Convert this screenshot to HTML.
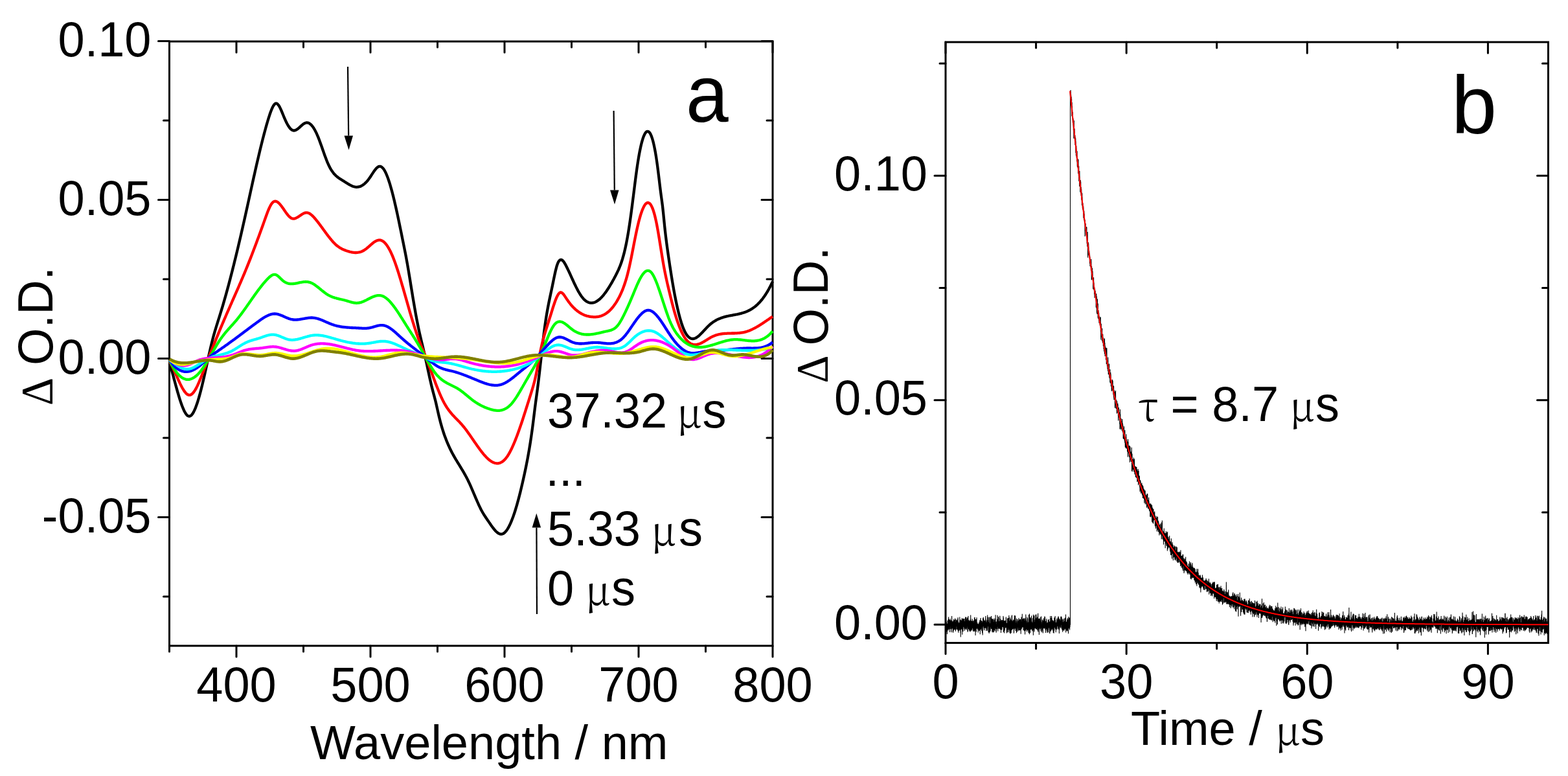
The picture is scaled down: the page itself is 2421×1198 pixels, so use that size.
<!DOCTYPE html>
<html><head><meta charset="utf-8"><title>Transient absorption</title>
<style>
html,body{margin:0;padding:0;background:#fff;}
body{width:2421px;height:1198px;overflow:hidden;}
svg{display:block;}
</style></head>
<body>
<svg width="2421" height="1198" viewBox="0 0 2421 1198">
<rect width="2421" height="1198" fill="#fff"/>
<g font-family="'Liberation Sans', Arial, sans-serif" font-size="74" fill="#000">
<rect x="261.5" y="64" width="931.5" height="933" fill="none" stroke="#000" stroke-width="3.0"/>
<path d="M261.5,997v9 M261.5,64v9 M365.0,997v17 M365.0,64v17 M468.5,997v9 M468.5,64v9 M572.0,997v17 M572.0,64v17 M675.5,997v9 M675.5,64v9 M779.0,997v17 M779.0,64v17 M882.5,997v9 M882.5,64v9 M986.0,997v17 M986.0,64v17 M1089.5,997v9 M1089.5,64v9 M1193.0,997v17 M1193.0,64v17 M261.5,921.0h-9 M1193,921.0h-9 M261.5,798.5h-17 M1193,798.5h-17 M261.5,676.0h-9 M1193,676.0h-9 M261.5,553.5h-17 M1193,553.5h-17 M261.5,431.0h-9 M1193,431.0h-9 M261.5,308.5h-17 M1193,308.5h-17 M261.5,186.0h-9 M1193,186.0h-9 M261.5,63.5h-17 M1193,63.5h-17" stroke="#000" stroke-width="3.0" fill="none" stroke-linecap="round"/>
<path d="M262.0,560.6 263.0,564.1 264.0,567.6 265.0,571.3 266.0,574.9 267.0,578.6 268.0,582.3 269.0,586.1 270.0,589.8 271.0,593.5 272.0,597.1 273.0,600.7 274.0,604.3 275.0,607.7 276.0,611.1 277.0,614.4 278.0,617.6 279.0,620.6 280.0,623.5 281.0,626.3 282.0,628.8 283.0,631.2 284.0,633.5 285.0,635.5 286.0,637.2 287.0,638.8 288.0,640.1 289.0,641.2 290.0,641.9 291.0,642.4 292.0,642.6 293.0,642.5 294.0,642.1 295.0,641.4 296.0,640.4 297.0,639.2 298.0,637.7 299.0,635.9 300.0,633.9 301.0,631.7 302.0,629.3 303.0,626.6 304.0,623.8 305.0,620.8 306.0,617.5 307.0,614.2 308.0,610.6 309.0,607.0 310.0,603.2 311.0,599.2 312.0,595.2 313.0,591.0 314.0,586.8 315.0,582.4 316.0,578.0 317.0,573.6 318.0,569.0 319.0,564.5 320.0,559.9 321.0,555.3 322.0,550.8 323.0,546.3 324.0,541.9 325.0,537.5 326.0,533.3 327.0,529.2 328.0,525.2 329.0,521.3 330.0,517.7 331.0,514.1 332.0,510.6 333.0,507.3 334.0,504.0 335.0,500.8 336.0,497.6 337.0,494.4 338.0,491.3 339.0,488.1 340.0,484.9 341.0,481.7 342.0,478.4 343.0,475.1 344.0,471.8 345.0,468.3 346.0,464.9 347.0,461.4 348.0,457.9 349.0,454.3 350.0,450.7 351.0,447.1 352.0,443.4 353.0,439.7 354.0,435.9 355.0,432.1 356.0,428.3 357.0,424.4 358.0,420.5 359.0,416.6 360.0,412.6 361.0,408.7 362.0,404.6 363.0,400.6 364.0,396.5 365.0,392.3 366.0,388.2 367.0,384.0 368.0,379.8 369.0,375.6 370.0,371.3 371.0,367.0 372.0,362.7 373.0,358.3 374.0,354.0 375.0,349.6 376.0,345.1 377.0,340.7 378.0,336.2 379.0,331.8 380.0,327.2 381.0,322.7 382.0,318.2 383.0,313.6 384.0,309.1 385.0,304.5 386.0,300.0 387.0,295.4 388.0,290.9 389.0,286.4 390.0,281.8 391.0,277.3 392.0,272.8 393.0,268.4 394.0,263.9 395.0,259.5 396.0,255.1 397.0,250.8 398.0,246.4 399.0,242.2 400.0,237.9 401.0,233.7 402.0,229.6 403.0,225.5 404.0,221.5 405.0,217.5 406.0,213.5 407.0,209.7 408.0,205.9 409.0,202.2 410.0,198.5 411.0,194.9 412.0,191.4 413.0,188.0 414.0,184.7 415.0,181.4 416.0,178.3 417.0,175.3 418.0,172.5 419.0,169.9 420.0,167.5 421.0,165.3 422.0,163.5 423.0,162.0 424.0,160.8 425.0,160.0 426.0,159.6 427.0,159.7 428.0,160.2 429.0,161.1 430.0,162.3 431.0,163.8 432.0,165.6 433.0,167.6 434.0,169.8 435.0,172.2 436.0,174.6 437.0,177.0 438.0,179.5 439.0,181.9 440.0,184.2 441.0,186.4 442.0,188.5 443.0,190.5 444.0,192.3 445.0,194.0 446.0,195.6 447.0,197.0 448.0,198.2 449.0,199.3 450.0,200.1 451.0,200.8 452.0,201.2 453.0,201.5 454.0,201.5 455.0,201.4 456.0,201.1 457.0,200.7 458.0,200.1 459.0,199.5 460.0,198.7 461.0,197.9 462.0,197.0 463.0,196.2 464.0,195.2 465.0,194.3 466.0,193.5 467.0,192.6 468.0,191.8 469.0,191.1 470.0,190.5 471.0,190.0 472.0,189.7 473.0,189.4 474.0,189.4 475.0,189.5 476.0,189.7 477.0,190.2 478.0,190.7 479.0,191.4 480.0,192.3 481.0,193.3 482.0,194.5 483.0,195.8 484.0,197.2 485.0,198.8 486.0,200.5 487.0,202.4 488.0,204.4 489.0,206.5 490.0,208.8 491.0,211.1 492.0,213.6 493.0,216.2 494.0,218.9 495.0,221.7 496.0,224.5 497.0,227.3 498.0,230.2 499.0,233.0 500.0,235.9 501.0,238.7 502.0,241.4 503.0,244.1 504.0,246.7 505.0,249.3 506.0,251.7 507.0,253.9 508.0,256.0 509.0,258.0 510.0,259.9 511.0,261.6 512.0,263.2 513.0,264.6 514.0,266.0 515.0,267.3 516.0,268.5 517.0,269.6 518.0,270.6 519.0,271.5 520.0,272.4 521.0,273.2 522.0,274.0 523.0,274.7 524.0,275.4 525.0,276.1 526.0,276.7 527.0,277.3 528.0,278.0 529.0,278.6 530.0,279.2 531.0,279.8 532.0,280.5 533.0,281.1 534.0,281.7 535.0,282.4 536.0,283.0 537.0,283.6 538.0,284.2 539.0,284.8 540.0,285.4 541.0,285.9 542.0,286.4 543.0,286.9 544.0,287.3 545.0,287.7 546.0,288.0 547.0,288.3 548.0,288.5 549.0,288.7 550.0,288.8 551.0,288.8 552.0,288.7 553.0,288.6 554.0,288.4 555.0,288.2 556.0,287.9 557.0,287.5 558.0,287.0 559.0,286.4 560.0,285.8 561.0,285.1 562.0,284.4 563.0,283.6 564.0,282.6 565.0,281.7 566.0,280.6 567.0,279.5 568.0,278.3 569.0,277.0 570.0,275.6 571.0,274.2 572.0,272.7 573.0,271.2 574.0,269.6 575.0,268.1 576.0,266.6 577.0,265.1 578.0,263.7 579.0,262.3 580.0,261.1 581.0,259.9 582.0,259.0 583.0,258.1 584.0,257.5 585.0,257.0 586.0,256.8 587.0,256.8 588.0,257.1 589.0,257.6 590.0,258.4 591.0,259.4 592.0,260.6 593.0,262.0 594.0,263.7 595.0,265.6 596.0,267.7 597.0,270.0 598.0,272.5 599.0,275.1 600.0,278.0 601.0,281.0 602.0,284.2 603.0,287.6 604.0,291.1 605.0,294.7 606.0,298.5 607.0,302.4 608.0,306.5 609.0,310.6 610.0,314.9 611.0,319.3 612.0,323.8 613.0,328.3 614.0,332.9 615.0,337.6 616.0,342.4 617.0,347.2 618.0,352.1 619.0,356.9 620.0,361.8 621.0,366.8 622.0,371.7 623.0,376.6 624.0,381.6 625.0,386.6 626.0,391.7 627.0,396.9 628.0,402.3 629.0,407.8 630.0,413.6 631.0,419.5 632.0,425.6 633.0,431.7 634.0,437.9 635.0,444.1 636.0,450.2 637.0,456.3 638.0,462.3 639.0,468.2 640.0,474.0 641.0,479.7 642.0,485.3 643.0,490.7 644.0,495.9 645.0,501.0 646.0,505.9 647.0,510.6 648.0,515.1 649.0,519.5 650.0,523.8 651.0,528.0 652.0,532.1 653.0,536.3 654.0,540.5 655.0,544.7 656.0,549.1 657.0,553.5 658.0,558.0 659.0,562.6 660.0,567.3 661.0,572.0 662.0,576.6 663.0,581.2 664.0,585.7 665.0,590.1 666.0,594.4 667.0,598.5 668.0,602.4 669.0,606.2 670.0,609.9 671.0,613.7 672.0,617.5 673.0,621.6 674.0,625.9 675.0,630.4 676.0,634.9 677.0,639.3 678.0,643.5 679.0,647.6 680.0,651.5 681.0,655.1 682.0,658.6 683.0,662.0 684.0,665.2 685.0,668.2 686.0,671.2 687.0,673.9 688.0,676.6 689.0,679.2 690.0,681.7 691.0,684.1 692.0,686.5 693.0,688.7 694.0,690.9 695.0,693.0 696.0,695.0 697.0,697.0 698.0,698.9 699.0,700.8 700.0,702.6 701.0,704.4 702.0,706.2 703.0,707.9 704.0,709.6 705.0,711.2 706.0,712.9 707.0,714.5 708.0,716.1 709.0,717.7 710.0,719.4 711.0,721.0 712.0,722.6 713.0,724.3 714.0,725.9 715.0,727.6 716.0,729.3 717.0,731.1 718.0,732.8 719.0,734.7 720.0,736.5 721.0,738.4 722.0,740.4 723.0,742.5 724.0,744.6 725.0,746.7 726.0,748.9 727.0,751.2 728.0,753.5 729.0,755.8 730.0,758.1 731.0,760.5 732.0,762.8 733.0,765.2 734.0,767.6 735.0,769.9 736.0,772.2 737.0,774.5 738.0,776.7 739.0,779.0 740.0,781.1 741.0,783.2 742.0,785.2 743.0,787.2 744.0,789.0 745.0,790.8 746.0,792.5 747.0,794.2 748.0,795.7 749.0,797.3 750.0,798.8 751.0,800.3 752.0,801.7 753.0,803.2 754.0,804.6 755.0,806.1 756.0,807.6 757.0,809.0 758.0,810.5 759.0,811.9 760.0,813.3 761.0,814.6 762.0,815.9 763.0,817.2 764.0,818.3 765.0,819.5 766.0,820.5 767.0,821.4 768.0,822.2 769.0,823.0 770.0,823.6 771.0,824.0 772.0,824.4 773.0,824.6 774.0,824.6 775.0,824.5 776.0,824.2 777.0,823.8 778.0,823.2 779.0,822.4 780.0,821.4 781.0,820.3 782.0,819.1 783.0,817.7 784.0,816.1 785.0,814.4 786.0,812.5 787.0,810.5 788.0,808.4 789.0,806.1 790.0,803.7 791.0,801.1 792.0,798.5 793.0,795.6 794.0,792.7 795.0,789.7 796.0,786.5 797.0,783.2 798.0,779.8 799.0,776.2 800.0,772.6 801.0,768.9 802.0,765.0 803.0,761.1 804.0,757.0 805.0,752.8 806.0,748.6 807.0,744.3 808.0,739.8 809.0,735.3 810.0,730.7 811.0,726.0 812.0,721.2 813.0,716.2 814.0,711.1 815.0,705.8 816.0,700.2 817.0,694.5 818.0,688.4 819.0,682.1 820.0,675.5 821.0,668.5 822.0,661.2 823.0,653.4 824.0,645.4 825.0,637.3 826.0,629.2 827.0,621.5 828.0,614.1 829.0,606.9 830.0,599.5 831.0,591.6 832.0,583.3 833.0,574.7 834.0,565.8 835.0,556.8 836.0,547.8 837.0,538.8 838.0,530.0 839.0,521.5 840.0,513.3 841.0,505.6 842.0,498.5 843.0,491.8 844.0,485.7 845.0,479.9 846.0,474.4 847.0,469.2 848.0,464.3 849.0,459.5 850.0,454.8 851.0,450.1 852.0,445.5 853.0,440.7 854.0,435.8 855.0,430.9 856.0,426.1 857.0,421.5 858.0,417.1 859.0,413.2 860.0,409.7 861.0,406.9 862.0,404.7 863.0,403.0 864.0,401.9 865.0,401.2 866.0,401.0 867.0,401.1 868.0,401.7 869.0,402.5 870.0,403.6 871.0,405.0 872.0,406.6 873.0,408.3 874.0,410.2 875.0,412.2 876.0,414.2 877.0,416.3 878.0,418.4 879.0,420.5 880.0,422.7 881.0,424.9 882.0,427.1 883.0,429.3 884.0,431.5 885.0,433.7 886.0,435.8 887.0,438.0 888.0,440.0 889.0,442.1 890.0,444.1 891.0,446.0 892.0,447.9 893.0,449.8 894.0,451.5 895.0,453.2 896.0,454.8 897.0,456.3 898.0,457.7 899.0,459.0 900.0,460.3 901.0,461.4 902.0,462.4 903.0,463.3 904.0,464.2 905.0,464.9 906.0,465.6 907.0,466.1 908.0,466.6 909.0,467.0 910.0,467.3 911.0,467.5 912.0,467.6 913.0,467.7 914.0,467.6 915.0,467.5 916.0,467.3 917.0,467.1 918.0,466.8 919.0,466.4 920.0,465.9 921.0,465.3 922.0,464.7 923.0,464.1 924.0,463.3 925.0,462.5 926.0,461.7 927.0,460.7 928.0,459.7 929.0,458.7 930.0,457.6 931.0,456.5 932.0,455.3 933.0,454.0 934.0,452.7 935.0,451.4 936.0,450.0 937.0,448.5 938.0,447.0 939.0,445.5 940.0,444.0 941.0,442.3 942.0,440.7 943.0,439.0 944.0,437.3 945.0,435.6 946.0,433.8 947.0,432.0 948.0,430.2 949.0,428.3 950.0,426.4 951.0,424.5 952.0,422.5 953.0,420.5 954.0,418.4 955.0,416.3 956.0,413.9 957.0,411.5 958.0,408.9 959.0,406.2 960.0,403.2 961.0,400.1 962.0,396.7 963.0,393.1 964.0,389.2 965.0,385.0 966.0,380.6 967.0,375.8 968.0,370.7 969.0,365.2 970.0,359.4 971.0,353.2 972.0,346.6 973.0,339.8 974.0,332.6 975.0,325.2 976.0,317.6 977.0,309.8 978.0,301.9 979.0,293.9 980.0,285.9 981.0,278.1 982.0,270.4 983.0,263.0 984.0,256.0 985.0,249.5 986.0,243.4 987.0,237.7 988.0,232.5 989.0,227.7 990.0,223.3 991.0,219.4 992.0,215.8 993.0,212.7 994.0,210.1 995.0,207.8 996.0,206.0 997.0,204.5 998.0,203.5 999.0,203.0 1000.0,202.8 1001.0,203.0 1002.0,203.7 1003.0,204.8 1004.0,206.3 1005.0,208.3 1006.0,210.7 1007.0,213.6 1008.0,217.0 1009.0,220.9 1010.0,225.4 1011.0,230.3 1012.0,235.7 1013.0,241.7 1014.0,248.3 1015.0,255.4 1016.0,263.1 1017.0,271.2 1018.0,279.6 1019.0,287.9 1020.0,295.9 1021.0,303.5 1022.0,310.7 1023.0,318.4 1024.0,327.4 1025.0,337.5 1026.0,347.6 1027.0,357.0 1028.0,365.5 1029.0,373.5 1030.0,381.0 1031.0,388.1 1032.0,395.1 1033.0,401.9 1034.0,408.7 1035.0,415.2 1036.0,421.7 1037.0,427.9 1038.0,434.0 1039.0,439.9 1040.0,445.6 1041.0,451.1 1042.0,456.4 1043.0,461.5 1044.0,466.4 1045.0,471.0 1046.0,475.5 1047.0,479.8 1048.0,483.9 1049.0,487.8 1050.0,491.5 1051.0,494.9 1052.0,498.2 1053.0,501.2 1054.0,504.0 1055.0,506.6 1056.0,509.0 1057.0,511.2 1058.0,513.2 1059.0,514.9 1060.0,516.5 1061.0,517.9 1062.0,519.1 1063.0,520.1 1064.0,520.9 1065.0,521.6 1066.0,522.2 1067.0,522.6 1068.0,522.8 1069.0,523.0 1070.0,523.0 1071.0,522.9 1072.0,522.6 1073.0,522.3 1074.0,521.9 1075.0,521.3 1076.0,520.7 1077.0,520.0 1078.0,519.3 1079.0,518.4 1080.0,517.6 1081.0,516.6 1082.0,515.6 1083.0,514.6 1084.0,513.6 1085.0,512.5 1086.0,511.4 1087.0,510.3 1088.0,509.3 1089.0,508.2 1090.0,507.1 1091.0,506.0 1092.0,505.0 1093.0,504.0 1094.0,503.0 1095.0,502.1 1096.0,501.2 1097.0,500.3 1098.0,499.5 1099.0,498.7 1100.0,498.0 1101.0,497.3 1102.0,496.6 1103.0,496.0 1104.0,495.4 1105.0,494.8 1106.0,494.2 1107.0,493.7 1108.0,493.2 1109.0,492.7 1110.0,492.3 1111.0,491.9 1112.0,491.5 1113.0,491.1 1114.0,490.7 1115.0,490.4 1116.0,490.0 1117.0,489.7 1118.0,489.4 1119.0,489.2 1120.0,488.9 1121.0,488.6 1122.0,488.4 1123.0,488.2 1124.0,488.0 1125.0,487.7 1126.0,487.5 1127.0,487.3 1128.0,487.1 1129.0,487.0 1130.0,486.8 1131.0,486.6 1132.0,486.4 1133.0,486.2 1134.0,486.0 1135.0,485.9 1136.0,485.7 1137.0,485.5 1138.0,485.3 1139.0,485.1 1140.0,484.8 1141.0,484.6 1142.0,484.4 1143.0,484.1 1144.0,483.9 1145.0,483.6 1146.0,483.3 1147.0,483.0 1148.0,482.7 1149.0,482.4 1150.0,482.0 1151.0,481.7 1152.0,481.3 1153.0,480.9 1154.0,480.4 1155.0,480.0 1156.0,479.5 1157.0,479.0 1158.0,478.5 1159.0,477.9 1160.0,477.3 1161.0,476.7 1162.0,476.0 1163.0,475.4 1164.0,474.6 1165.0,473.9 1166.0,473.1 1167.0,472.3 1168.0,471.4 1169.0,470.5 1170.0,469.6 1171.0,468.6 1172.0,467.6 1173.0,466.5 1174.0,465.4 1175.0,464.2 1176.0,463.0 1177.0,461.8 1178.0,460.5 1179.0,459.1 1180.0,457.7 1181.0,456.3 1182.0,454.8 1183.0,453.2 1184.0,451.6 1185.0,450.0 1186.0,448.2 1187.0,446.5 1188.0,444.6 1189.0,442.7 1190.0,440.8 1191.0,438.7 1192.0,436.7 1192.9,434.7" fill="none" stroke="#000000" stroke-width="4.3" stroke-linejoin="round" stroke-linecap="butt"/>
<path d="M262.0,558.3 263.0,560.0 264.0,561.8 265.0,563.7 266.0,565.7 267.0,567.8 268.0,569.9 269.0,572.1 270.0,574.3 271.0,576.6 272.0,578.8 273.0,581.1 274.0,583.3 275.0,585.6 276.0,587.8 277.0,589.9 278.0,592.1 279.0,594.1 280.0,596.1 281.0,598.0 282.0,599.8 283.0,601.4 284.0,603.0 285.0,604.5 286.0,605.7 287.0,606.9 288.0,607.9 289.0,608.7 290.0,609.3 291.0,609.7 292.0,609.9 293.0,609.9 294.0,609.7 295.0,609.3 296.0,608.6 297.0,607.7 298.0,606.7 299.0,605.5 300.0,604.1 301.0,602.6 302.0,600.9 303.0,599.1 304.0,597.1 305.0,595.1 306.0,592.9 307.0,590.7 308.0,588.3 309.0,585.9 310.0,583.5 311.0,581.0 312.0,578.5 313.0,575.9 314.0,573.3 315.0,570.7 316.0,568.1 317.0,565.5 318.0,563.0 319.0,560.4 320.0,557.8 321.0,555.3 322.0,552.7 323.0,550.2 324.0,547.6 325.0,545.1 326.0,542.6 327.0,540.1 328.0,537.6 329.0,535.1 330.0,532.6 331.0,530.1 332.0,527.6 333.0,525.1 334.0,522.7 335.0,520.2 336.0,517.8 337.0,515.4 338.0,512.9 339.0,510.5 340.0,508.1 341.0,505.7 342.0,503.4 343.0,501.0 344.0,498.6 345.0,496.3 346.0,493.9 347.0,491.6 348.0,489.3 349.0,487.0 350.0,484.7 351.0,482.4 352.0,480.1 353.0,477.8 354.0,475.6 355.0,473.3 356.0,471.0 357.0,468.8 358.0,466.5 359.0,464.2 360.0,462.0 361.0,459.7 362.0,457.5 363.0,455.2 364.0,452.9 365.0,450.7 366.0,448.4 367.0,446.1 368.0,443.8 369.0,441.5 370.0,439.2 371.0,436.9 372.0,434.6 373.0,432.2 374.0,429.9 375.0,427.5 376.0,425.2 377.0,422.8 378.0,420.4 379.0,418.0 380.0,415.5 381.0,413.1 382.0,410.6 383.0,408.1 384.0,405.6 385.0,403.1 386.0,400.6 387.0,398.1 388.0,395.5 389.0,392.9 390.0,390.3 391.0,387.7 392.0,385.1 393.0,382.5 394.0,379.8 395.0,377.2 396.0,374.5 397.0,371.8 398.0,369.1 399.0,366.4 400.0,363.7 401.0,361.0 402.0,358.2 403.0,355.5 404.0,352.7 405.0,350.0 406.0,347.2 407.0,344.4 408.0,341.6 409.0,338.8 410.0,336.0 411.0,333.2 412.0,330.5 413.0,327.8 414.0,325.3 415.0,322.9 416.0,320.6 417.0,318.6 418.0,316.7 419.0,315.1 420.0,313.7 421.0,312.6 422.0,311.7 423.0,311.2 424.0,310.8 425.0,310.7 426.0,310.8 427.0,311.1 428.0,311.6 429.0,312.3 430.0,313.1 431.0,314.0 432.0,315.1 433.0,316.2 434.0,317.5 435.0,318.8 436.0,320.2 437.0,321.6 438.0,323.0 439.0,324.5 440.0,325.9 441.0,327.4 442.0,328.8 443.0,330.1 444.0,331.4 445.0,332.6 446.0,333.7 447.0,334.7 448.0,335.6 449.0,336.3 450.0,336.9 451.0,337.3 452.0,337.5 453.0,337.6 454.0,337.6 455.0,337.4 456.0,337.1 457.0,336.7 458.0,336.2 459.0,335.7 460.0,335.1 461.0,334.4 462.0,333.8 463.0,333.1 464.0,332.4 465.0,331.7 466.0,331.1 467.0,330.4 468.0,329.9 469.0,329.4 470.0,328.9 471.0,328.6 472.0,328.4 473.0,328.3 474.0,328.3 475.0,328.5 476.0,328.8 477.0,329.2 478.0,329.7 479.0,330.3 480.0,331.1 481.0,331.9 482.0,332.8 483.0,333.7 484.0,334.8 485.0,335.8 486.0,337.0 487.0,338.2 488.0,339.4 489.0,340.6 490.0,341.8 491.0,343.1 492.0,344.4 493.0,345.7 494.0,347.1 495.0,348.4 496.0,349.8 497.0,351.1 498.0,352.5 499.0,353.9 500.0,355.3 501.0,356.6 502.0,358.0 503.0,359.4 504.0,360.7 505.0,362.1 506.0,363.4 507.0,364.7 508.0,366.0 509.0,367.2 510.0,368.5 511.0,369.7 512.0,370.9 513.0,372.0 514.0,373.2 515.0,374.3 516.0,375.3 517.0,376.3 518.0,377.3 519.0,378.2 520.0,379.0 521.0,379.8 522.0,380.6 523.0,381.3 524.0,382.0 525.0,382.6 526.0,383.2 527.0,383.7 528.0,384.3 529.0,384.8 530.0,385.2 531.0,385.6 532.0,386.1 533.0,386.4 534.0,386.8 535.0,387.2 536.0,387.5 537.0,387.8 538.0,388.1 539.0,388.4 540.0,388.7 541.0,389.0 542.0,389.2 543.0,389.4 544.0,389.6 545.0,389.7 546.0,389.8 547.0,389.9 548.0,390.0 549.0,390.0 550.0,390.0 551.0,389.9 552.0,389.8 553.0,389.7 554.0,389.5 555.0,389.3 556.0,389.1 557.0,388.8 558.0,388.4 559.0,388.0 560.0,387.5 561.0,387.0 562.0,386.5 563.0,385.8 564.0,385.1 565.0,384.4 566.0,383.6 567.0,382.8 568.0,382.0 569.0,381.1 570.0,380.2 571.0,379.3 572.0,378.4 573.0,377.5 574.0,376.7 575.0,375.8 576.0,375.0 577.0,374.3 578.0,373.6 579.0,372.9 580.0,372.3 581.0,371.8 582.0,371.4 583.0,371.0 584.0,370.8 585.0,370.6 586.0,370.6 587.0,370.7 588.0,370.9 589.0,371.3 590.0,371.7 591.0,372.3 592.0,373.0 593.0,373.8 594.0,374.8 595.0,375.8 596.0,377.0 597.0,378.3 598.0,379.7 599.0,381.3 600.0,382.9 601.0,384.7 602.0,386.5 603.0,388.5 604.0,390.6 605.0,392.8 606.0,395.2 607.0,397.6 608.0,400.2 609.0,402.8 610.0,405.5 611.0,408.4 612.0,411.3 613.0,414.3 614.0,417.3 615.0,420.4 616.0,423.6 617.0,426.9 618.0,430.1 619.0,433.5 620.0,436.9 621.0,440.3 622.0,443.7 623.0,447.2 624.0,450.7 625.0,454.2 626.0,457.7 627.0,461.2 628.0,464.7 629.0,468.2 630.0,471.7 631.0,475.2 632.0,478.6 633.0,482.1 634.0,485.5 635.0,488.8 636.0,492.2 637.0,495.5 638.0,498.7 639.0,501.9 640.0,505.0 641.0,508.1 642.0,511.2 643.0,514.2 644.0,517.1 645.0,520.0 646.0,522.8 647.0,525.5 648.0,528.1 649.0,530.7 650.0,533.2 651.0,535.7 652.0,538.1 653.0,540.5 654.0,542.9 655.0,545.3 656.0,547.8 657.0,550.3 658.0,552.8 659.0,555.4 660.0,558.0 661.0,560.6 662.0,563.3 663.0,566.0 664.0,568.7 665.0,571.4 666.0,574.1 667.0,576.8 668.0,579.5 669.0,582.2 670.0,584.9 671.0,587.6 672.0,590.2 673.0,592.9 674.0,595.5 675.0,598.0 676.0,600.5 677.0,603.0 678.0,605.4 679.0,607.8 680.0,610.1 681.0,612.4 682.0,614.5 683.0,616.6 684.0,618.7 685.0,620.6 686.0,622.5 687.0,624.2 688.0,625.9 689.0,627.5 690.0,629.1 691.0,630.6 692.0,632.0 693.0,633.4 694.0,634.7 695.0,636.0 696.0,637.2 697.0,638.4 698.0,639.6 699.0,640.7 700.0,641.8 701.0,642.8 702.0,643.9 703.0,644.9 704.0,646.0 705.0,647.0 706.0,648.0 707.0,649.0 708.0,650.1 709.0,651.1 710.0,652.1 711.0,653.2 712.0,654.3 713.0,655.4 714.0,656.6 715.0,657.8 716.0,659.0 717.0,660.2 718.0,661.5 719.0,662.8 720.0,664.1 721.0,665.5 722.0,666.9 723.0,668.2 724.0,669.7 725.0,671.1 726.0,672.5 727.0,673.9 728.0,675.4 729.0,676.9 730.0,678.3 731.0,679.8 732.0,681.2 733.0,682.7 734.0,684.1 735.0,685.6 736.0,687.0 737.0,688.4 738.0,689.8 739.0,691.2 740.0,692.6 741.0,694.0 742.0,695.3 743.0,696.6 744.0,697.9 745.0,699.1 746.0,700.4 747.0,701.6 748.0,702.7 749.0,703.8 750.0,704.9 751.0,706.0 752.0,707.0 753.0,707.9 754.0,708.8 755.0,709.7 756.0,710.5 757.0,711.2 758.0,711.9 759.0,712.6 760.0,713.1 761.0,713.7 762.0,714.1 763.0,714.5 764.0,714.8 765.0,715.0 766.0,715.2 767.0,715.3 768.0,715.3 769.0,715.3 770.0,715.1 771.0,714.9 772.0,714.6 773.0,714.2 774.0,713.7 775.0,713.1 776.0,712.5 777.0,711.7 778.0,710.8 779.0,709.9 780.0,708.8 781.0,707.6 782.0,706.3 783.0,705.0 784.0,703.5 785.0,701.9 786.0,700.2 787.0,698.4 788.0,696.5 789.0,694.6 790.0,692.5 791.0,690.4 792.0,688.2 793.0,685.9 794.0,683.5 795.0,681.1 796.0,678.6 797.0,676.0 798.0,673.4 799.0,670.7 800.0,668.0 801.0,665.2 802.0,662.4 803.0,659.5 804.0,656.6 805.0,653.7 806.0,650.7 807.0,647.7 808.0,644.6 809.0,641.5 810.0,638.4 811.0,635.3 812.0,632.2 813.0,629.0 814.0,625.9 815.0,622.7 816.0,619.6 817.0,616.4 818.0,613.2 819.0,610.1 820.0,606.9 821.0,603.7 822.0,600.4 823.0,597.0 824.0,593.5 825.0,589.7 826.0,585.7 827.0,581.3 828.0,576.7 829.0,571.6 830.0,566.3 831.0,560.8 832.0,555.2 833.0,549.7 834.0,544.4 835.0,539.5 836.0,534.9 837.0,530.6 838.0,526.5 839.0,522.7 840.0,519.1 841.0,515.6 842.0,512.3 843.0,509.1 844.0,505.9 845.0,502.8 846.0,499.7 847.0,496.5 848.0,493.4 849.0,490.2 850.0,487.0 851.0,483.8 852.0,480.6 853.0,477.4 854.0,474.2 855.0,471.1 856.0,468.2 857.0,465.3 858.0,462.6 859.0,460.2 860.0,457.9 861.0,456.0 862.0,454.3 863.0,453.0 864.0,452.1 865.0,451.5 866.0,451.4 867.0,451.7 868.0,452.3 869.0,453.2 870.0,454.3 871.0,455.6 872.0,457.1 873.0,458.6 874.0,460.1 875.0,461.7 876.0,463.1 877.0,464.5 878.0,465.9 879.0,467.2 880.0,468.5 881.0,469.8 882.0,471.0 883.0,472.1 884.0,473.2 885.0,474.3 886.0,475.3 887.0,476.2 888.0,477.2 889.0,478.1 890.0,478.9 891.0,479.7 892.0,480.5 893.0,481.2 894.0,481.9 895.0,482.6 896.0,483.2 897.0,483.8 898.0,484.4 899.0,484.9 900.0,485.4 901.0,485.9 902.0,486.3 903.0,486.7 904.0,487.0 905.0,487.4 906.0,487.7 907.0,488.0 908.0,488.2 909.0,488.4 910.0,488.6 911.0,488.8 912.0,488.9 913.0,489.1 914.0,489.2 915.0,489.2 916.0,489.3 917.0,489.3 918.0,489.3 919.0,489.3 920.0,489.3 921.0,489.2 922.0,489.1 923.0,489.0 924.0,488.8 925.0,488.6 926.0,488.3 927.0,488.1 928.0,487.8 929.0,487.4 930.0,487.0 931.0,486.6 932.0,486.1 933.0,485.6 934.0,485.1 935.0,484.4 936.0,483.8 937.0,483.1 938.0,482.3 939.0,481.5 940.0,480.7 941.0,479.8 942.0,478.8 943.0,477.8 944.0,476.7 945.0,475.5 946.0,474.3 947.0,473.1 948.0,471.7 949.0,470.3 950.0,468.9 951.0,467.4 952.0,465.8 953.0,464.1 954.0,462.4 955.0,460.5 956.0,458.7 957.0,456.7 958.0,454.6 959.0,452.5 960.0,450.2 961.0,447.8 962.0,445.3 963.0,442.6 964.0,439.8 965.0,436.8 966.0,433.7 967.0,430.3 968.0,426.8 969.0,423.1 970.0,419.1 971.0,414.9 972.0,410.5 973.0,405.9 974.0,401.1 975.0,396.2 976.0,391.1 977.0,386.0 978.0,380.9 979.0,375.7 980.0,370.6 981.0,365.6 982.0,360.7 983.0,356.0 984.0,351.5 985.0,347.2 986.0,343.1 987.0,339.2 988.0,335.6 989.0,332.2 990.0,329.1 991.0,326.2 992.0,323.6 993.0,321.3 994.0,319.2 995.0,317.4 996.0,315.9 997.0,314.7 998.0,313.8 999.0,313.2 1000.0,312.9 1001.0,313.0 1002.0,313.4 1003.0,314.1 1004.0,315.1 1005.0,316.5 1006.0,318.3 1007.0,320.4 1008.0,322.9 1009.0,325.8 1010.0,329.1 1011.0,332.8 1012.0,336.9 1013.0,341.4 1014.0,346.3 1015.0,351.6 1016.0,357.2 1017.0,363.1 1018.0,369.1 1019.0,375.3 1020.0,381.6 1021.0,387.8 1022.0,394.0 1023.0,400.1 1024.0,406.0 1025.0,411.6 1026.0,416.9 1027.0,421.9 1028.0,426.8 1029.0,431.4 1030.0,435.9 1031.0,440.2 1032.0,444.5 1033.0,448.7 1034.0,452.8 1035.0,457.0 1036.0,461.1 1037.0,465.1 1038.0,469.0 1039.0,472.8 1040.0,476.5 1041.0,480.1 1042.0,483.6 1043.0,486.9 1044.0,490.2 1045.0,493.3 1046.0,496.2 1047.0,499.1 1048.0,501.8 1049.0,504.4 1050.0,506.9 1051.0,509.3 1052.0,511.5 1053.0,513.6 1054.0,515.6 1055.0,517.5 1056.0,519.3 1057.0,520.9 1058.0,522.4 1059.0,523.8 1060.0,525.0 1061.0,526.2 1062.0,527.2 1063.0,528.1 1064.0,528.9 1065.0,529.7 1066.0,530.3 1067.0,530.8 1068.0,531.2 1069.0,531.6 1070.0,531.9 1071.0,532.0 1072.0,532.2 1073.0,532.2 1074.0,532.2 1075.0,532.1 1076.0,531.9 1077.0,531.7 1078.0,531.4 1079.0,531.1 1080.0,530.8 1081.0,530.4 1082.0,529.9 1083.0,529.5 1084.0,529.0 1085.0,528.4 1086.0,527.9 1087.0,527.3 1088.0,526.7 1089.0,526.1 1090.0,525.5 1091.0,524.9 1092.0,524.2 1093.0,523.6 1094.0,523.0 1095.0,522.4 1096.0,521.8 1097.0,521.2 1098.0,520.7 1099.0,520.2 1100.0,519.7 1101.0,519.2 1102.0,518.8 1103.0,518.3 1104.0,518.0 1105.0,517.6 1106.0,517.3 1107.0,517.0 1108.0,516.7 1109.0,516.5 1110.0,516.2 1111.0,516.0 1112.0,515.8 1113.0,515.6 1114.0,515.5 1115.0,515.4 1116.0,515.2 1117.0,515.1 1118.0,515.0 1119.0,514.9 1120.0,514.9 1121.0,514.8 1122.0,514.8 1123.0,514.7 1124.0,514.7 1125.0,514.7 1126.0,514.6 1127.0,514.6 1128.0,514.6 1129.0,514.6 1130.0,514.5 1131.0,514.5 1132.0,514.5 1133.0,514.5 1134.0,514.5 1135.0,514.4 1136.0,514.4 1137.0,514.3 1138.0,514.3 1139.0,514.2 1140.0,514.2 1141.0,514.1 1142.0,514.0 1143.0,513.9 1144.0,513.7 1145.0,513.6 1146.0,513.4 1147.0,513.3 1148.0,513.1 1149.0,512.9 1150.0,512.6 1151.0,512.4 1152.0,512.1 1153.0,511.8 1154.0,511.5 1155.0,511.1 1156.0,510.8 1157.0,510.4 1158.0,510.0 1159.0,509.6 1160.0,509.1 1161.0,508.7 1162.0,508.2 1163.0,507.7 1164.0,507.2 1165.0,506.7 1166.0,506.1 1167.0,505.6 1168.0,505.0 1169.0,504.4 1170.0,503.9 1171.0,503.3 1172.0,502.7 1173.0,502.0 1174.0,501.4 1175.0,500.8 1176.0,500.1 1177.0,499.5 1178.0,498.8 1179.0,498.2 1180.0,497.5 1181.0,496.8 1182.0,496.1 1183.0,495.5 1184.0,494.8 1185.0,494.1 1186.0,493.4 1187.0,492.7 1188.0,492.0 1189.0,491.3 1190.0,490.6 1191.0,489.9 1192.0,489.2 1192.9,488.6" fill="none" stroke="#FF0000" stroke-width="4.3" stroke-linejoin="round" stroke-linecap="butt"/>
<path d="M262.0,556.3 263.0,558.5 264.0,560.5 265.0,562.5 266.0,564.4 267.0,566.2 268.0,568.0 269.0,569.6 270.0,571.2 271.0,572.6 272.0,574.0 273.0,575.4 274.0,576.6 275.0,577.7 276.0,578.8 277.0,579.8 278.0,580.7 279.0,581.6 280.0,582.3 281.0,583.0 282.0,583.6 283.0,584.2 284.0,584.6 285.0,585.0 286.0,585.3 287.0,585.6 288.0,585.8 289.0,585.9 290.0,585.9 291.0,585.9 292.0,585.8 293.0,585.6 294.0,585.3 295.0,585.0 296.0,584.7 297.0,584.2 298.0,583.7 299.0,583.1 300.0,582.5 301.0,581.8 302.0,581.0 303.0,580.2 304.0,579.3 305.0,578.4 306.0,577.4 307.0,576.3 308.0,575.2 309.0,574.0 310.0,572.8 311.0,571.5 312.0,570.1 313.0,568.7 314.0,567.3 315.0,565.8 316.0,564.3 317.0,562.7 318.0,561.1 319.0,559.5 320.0,557.8 321.0,556.1 322.0,554.4 323.0,552.7 324.0,551.0 325.0,549.2 326.0,547.5 327.0,545.8 328.0,544.0 329.0,542.3 330.0,540.5 331.0,538.8 332.0,537.1 333.0,535.4 334.0,533.7 335.0,532.0 336.0,530.4 337.0,528.8 338.0,527.2 339.0,525.7 340.0,524.2 341.0,522.8 342.0,521.4 343.0,520.0 344.0,518.7 345.0,517.4 346.0,516.1 347.0,514.9 348.0,513.6 349.0,512.4 350.0,511.3 351.0,510.1 352.0,509.0 353.0,507.8 354.0,506.7 355.0,505.6 356.0,504.5 357.0,503.4 358.0,502.3 359.0,501.2 360.0,500.1 361.0,498.9 362.0,497.8 363.0,496.6 364.0,495.5 365.0,494.3 366.0,493.1 367.0,491.8 368.0,490.6 369.0,489.3 370.0,488.0 371.0,486.7 372.0,485.4 373.0,484.1 374.0,482.7 375.0,481.3 376.0,480.0 377.0,478.6 378.0,477.2 379.0,475.8 380.0,474.4 381.0,472.9 382.0,471.5 383.0,470.1 384.0,468.7 385.0,467.2 386.0,465.8 387.0,464.4 388.0,462.9 389.0,461.5 390.0,460.1 391.0,458.7 392.0,457.3 393.0,455.8 394.0,454.4 395.0,453.1 396.0,451.7 397.0,450.3 398.0,448.9 399.0,447.6 400.0,446.3 401.0,445.0 402.0,443.7 403.0,442.4 404.0,441.1 405.0,439.9 406.0,438.6 407.0,437.4 408.0,436.3 409.0,435.1 410.0,434.0 411.0,432.9 412.0,431.8 413.0,430.8 414.0,429.7 415.0,428.8 416.0,427.8 417.0,427.0 418.0,426.2 419.0,425.5 420.0,424.9 421.0,424.4 422.0,424.0 423.0,423.8 424.0,423.8 425.0,423.9 426.0,424.2 427.0,424.7 428.0,425.3 429.0,426.0 430.0,426.9 431.0,427.8 432.0,428.7 433.0,429.7 434.0,430.7 435.0,431.7 436.0,432.6 437.0,433.5 438.0,434.2 439.0,434.9 440.0,435.6 441.0,436.1 442.0,436.6 443.0,437.0 444.0,437.3 445.0,437.6 446.0,437.8 447.0,438.0 448.0,438.1 449.0,438.2 450.0,438.2 451.0,438.2 452.0,438.1 453.0,438.0 454.0,437.9 455.0,437.8 456.0,437.6 457.0,437.5 458.0,437.3 459.0,437.1 460.0,436.9 461.0,436.7 462.0,436.4 463.0,436.2 464.0,436.0 465.0,435.8 466.0,435.7 467.0,435.5 468.0,435.3 469.0,435.2 470.0,435.1 471.0,435.1 472.0,435.0 473.0,435.1 474.0,435.1 475.0,435.2 476.0,435.4 477.0,435.6 478.0,435.8 479.0,436.1 480.0,436.5 481.0,436.9 482.0,437.4 483.0,437.9 484.0,438.5 485.0,439.1 486.0,439.8 487.0,440.5 488.0,441.2 489.0,441.9 490.0,442.7 491.0,443.5 492.0,444.3 493.0,445.1 494.0,445.9 495.0,446.7 496.0,447.6 497.0,448.4 498.0,449.2 499.0,450.0 500.0,450.8 501.0,451.6 502.0,452.3 503.0,453.0 504.0,453.7 505.0,454.4 506.0,455.0 507.0,455.6 508.0,456.1 509.0,456.6 510.0,457.1 511.0,457.6 512.0,458.0 513.0,458.4 514.0,458.8 515.0,459.1 516.0,459.4 517.0,459.8 518.0,460.0 519.0,460.3 520.0,460.6 521.0,460.9 522.0,461.1 523.0,461.3 524.0,461.6 525.0,461.8 526.0,462.0 527.0,462.3 528.0,462.5 529.0,462.7 530.0,463.0 531.0,463.2 532.0,463.5 533.0,463.7 534.0,464.0 535.0,464.3 536.0,464.6 537.0,464.9 538.0,465.2 539.0,465.5 540.0,465.8 541.0,466.1 542.0,466.4 543.0,466.6 544.0,466.9 545.0,467.1 546.0,467.3 547.0,467.5 548.0,467.6 549.0,467.7 550.0,467.8 551.0,467.8 552.0,467.7 553.0,467.7 554.0,467.5 555.0,467.4 556.0,467.1 557.0,466.9 558.0,466.6 559.0,466.2 560.0,465.8 561.0,465.4 562.0,465.0 563.0,464.5 564.0,464.1 565.0,463.6 566.0,463.1 567.0,462.5 568.0,462.0 569.0,461.5 570.0,461.0 571.0,460.5 572.0,460.0 573.0,459.5 574.0,459.0 575.0,458.6 576.0,458.2 577.0,457.8 578.0,457.4 579.0,457.1 580.0,456.8 581.0,456.5 582.0,456.3 583.0,456.2 584.0,456.1 585.0,456.1 586.0,456.1 587.0,456.2 588.0,456.3 589.0,456.5 590.0,456.8 591.0,457.2 592.0,457.6 593.0,458.2 594.0,458.7 595.0,459.4 596.0,460.1 597.0,460.9 598.0,461.7 599.0,462.6 600.0,463.6 601.0,464.6 602.0,465.6 603.0,466.7 604.0,467.9 605.0,469.1 606.0,470.3 607.0,471.6 608.0,472.9 609.0,474.2 610.0,475.6 611.0,477.0 612.0,478.4 613.0,479.9 614.0,481.4 615.0,482.9 616.0,484.4 617.0,485.9 618.0,487.5 619.0,489.1 620.0,490.6 621.0,492.2 622.0,493.8 623.0,495.4 624.0,497.0 625.0,498.6 626.0,500.2 627.0,501.8 628.0,503.4 629.0,504.9 630.0,506.5 631.0,508.1 632.0,509.6 633.0,511.2 634.0,512.7 635.0,514.3 636.0,515.9 637.0,517.4 638.0,519.0 639.0,520.6 640.0,522.2 641.0,523.8 642.0,525.4 643.0,527.1 644.0,528.7 645.0,530.4 646.0,532.1 647.0,533.8 648.0,535.5 649.0,537.2 650.0,539.0 651.0,540.7 652.0,542.5 653.0,544.3 654.0,546.2 655.0,548.0 656.0,549.8 657.0,551.6 658.0,553.4 659.0,555.2 660.0,557.0 661.0,558.7 662.0,560.5 663.0,562.2 664.0,563.9 665.0,565.5 666.0,567.1 667.0,568.7 668.0,570.2 669.0,571.7 670.0,573.2 671.0,574.6 672.0,575.9 673.0,577.2 674.0,578.4 675.0,579.5 676.0,580.6 677.0,581.6 678.0,582.6 679.0,583.5 680.0,584.4 681.0,585.3 682.0,586.1 683.0,586.8 684.0,587.6 685.0,588.2 686.0,588.9 687.0,589.5 688.0,590.1 689.0,590.7 690.0,591.3 691.0,591.8 692.0,592.3 693.0,592.8 694.0,593.3 695.0,593.8 696.0,594.3 697.0,594.8 698.0,595.3 699.0,595.8 700.0,596.3 701.0,596.8 702.0,597.3 703.0,597.8 704.0,598.3 705.0,598.9 706.0,599.5 707.0,600.1 708.0,600.7 709.0,601.4 710.0,602.0 711.0,602.7 712.0,603.5 713.0,604.2 714.0,605.0 715.0,605.8 716.0,606.6 717.0,607.4 718.0,608.2 719.0,609.0 720.0,609.8 721.0,610.7 722.0,611.5 723.0,612.3 724.0,613.2 725.0,614.0 726.0,614.8 727.0,615.6 728.0,616.4 729.0,617.2 730.0,617.9 731.0,618.7 732.0,619.4 733.0,620.1 734.0,620.8 735.0,621.4 736.0,622.1 737.0,622.7 738.0,623.3 739.0,623.9 740.0,624.5 741.0,625.0 742.0,625.6 743.0,626.1 744.0,626.6 745.0,627.1 746.0,627.6 747.0,628.0 748.0,628.5 749.0,628.9 750.0,629.3 751.0,629.7 752.0,630.1 753.0,630.4 754.0,630.8 755.0,631.1 756.0,631.5 757.0,631.8 758.0,632.1 759.0,632.3 760.0,632.6 761.0,632.8 762.0,633.1 763.0,633.3 764.0,633.4 765.0,633.6 766.0,633.7 767.0,633.8 768.0,633.8 769.0,633.8 770.0,633.8 771.0,633.8 772.0,633.7 773.0,633.5 774.0,633.3 775.0,633.1 776.0,632.8 777.0,632.5 778.0,632.1 779.0,631.7 780.0,631.2 781.0,630.7 782.0,630.1 783.0,629.4 784.0,628.7 785.0,628.0 786.0,627.1 787.0,626.2 788.0,625.2 789.0,624.2 790.0,623.1 791.0,621.9 792.0,620.6 793.0,619.3 794.0,618.0 795.0,616.6 796.0,615.1 797.0,613.6 798.0,612.1 799.0,610.5 800.0,608.9 801.0,607.2 802.0,605.6 803.0,603.9 804.0,602.2 805.0,600.4 806.0,598.7 807.0,597.0 808.0,595.2 809.0,593.5 810.0,591.7 811.0,590.0 812.0,588.2 813.0,586.5 814.0,584.8 815.0,583.1 816.0,581.4 817.0,579.7 818.0,578.0 819.0,576.3 820.0,574.6 821.0,572.9 822.0,571.2 823.0,569.5 824.0,567.7 825.0,566.0 826.0,564.2 827.0,562.3 828.0,560.5 829.0,558.6 830.0,556.7 831.0,554.7 832.0,552.7 833.0,550.7 834.0,548.6 835.0,546.5 836.0,544.3 837.0,542.1 838.0,539.8 839.0,537.4 840.0,535.0 841.0,532.6 842.0,530.1 843.0,527.6 844.0,525.2 845.0,522.8 846.0,520.4 847.0,518.0 848.0,515.7 849.0,513.5 850.0,511.4 851.0,509.3 852.0,507.4 853.0,505.6 854.0,504.0 855.0,502.5 856.0,501.2 857.0,500.0 858.0,499.1 859.0,498.3 860.0,497.6 861.0,497.1 862.0,496.8 863.0,496.6 864.0,496.5 865.0,496.6 866.0,496.7 867.0,497.0 868.0,497.3 869.0,497.7 870.0,498.3 871.0,498.8 872.0,499.5 873.0,500.2 874.0,500.9 875.0,501.7 876.0,502.5 877.0,503.3 878.0,504.2 879.0,505.0 880.0,505.9 881.0,506.7 882.0,507.5 883.0,508.3 884.0,509.1 885.0,509.8 886.0,510.4 887.0,511.1 888.0,511.7 889.0,512.2 890.0,512.7 891.0,513.2 892.0,513.6 893.0,514.0 894.0,514.4 895.0,514.7 896.0,515.0 897.0,515.3 898.0,515.6 899.0,515.8 900.0,516.0 901.0,516.1 902.0,516.3 903.0,516.4 904.0,516.4 905.0,516.5 906.0,516.5 907.0,516.5 908.0,516.5 909.0,516.5 910.0,516.5 911.0,516.4 912.0,516.3 913.0,516.2 914.0,516.1 915.0,516.0 916.0,515.8 917.0,515.7 918.0,515.5 919.0,515.3 920.0,515.1 921.0,514.9 922.0,514.7 923.0,514.5 924.0,514.3 925.0,514.1 926.0,513.8 927.0,513.6 928.0,513.4 929.0,513.1 930.0,512.9 931.0,512.7 932.0,512.4 933.0,512.2 934.0,512.0 935.0,511.7 936.0,511.5 937.0,511.3 938.0,511.1 939.0,510.9 940.0,510.7 941.0,510.4 942.0,510.2 943.0,509.9 944.0,509.5 945.0,509.1 946.0,508.7 947.0,508.2 948.0,507.6 949.0,506.9 950.0,506.2 951.0,505.3 952.0,504.4 953.0,503.3 954.0,502.1 955.0,500.8 956.0,499.4 957.0,497.8 958.0,496.2 959.0,494.5 960.0,492.7 961.0,490.9 962.0,488.9 963.0,487.0 964.0,484.9 965.0,482.9 966.0,480.8 967.0,478.6 968.0,476.5 969.0,474.3 970.0,472.1 971.0,469.8 972.0,467.6 973.0,465.3 974.0,462.9 975.0,460.6 976.0,458.2 977.0,455.8 978.0,453.4 979.0,451.0 980.0,448.5 981.0,446.1 982.0,443.8 983.0,441.4 984.0,439.2 985.0,437.0 986.0,434.8 987.0,432.8 988.0,430.8 989.0,429.0 990.0,427.2 991.0,425.6 992.0,424.1 993.0,422.8 994.0,421.6 995.0,420.5 996.0,419.6 997.0,418.9 998.0,418.3 999.0,418.0 1000.0,417.8 1001.0,417.8 1002.0,418.0 1003.0,418.5 1004.0,419.1 1005.0,420.0 1006.0,421.1 1007.0,422.5 1008.0,424.0 1009.0,425.8 1010.0,427.7 1011.0,429.8 1012.0,432.1 1013.0,434.5 1014.0,437.0 1015.0,439.6 1016.0,442.4 1017.0,445.2 1018.0,448.1 1019.0,451.0 1020.0,454.0 1021.0,457.1 1022.0,460.2 1023.0,463.2 1024.0,466.3 1025.0,469.4 1026.0,472.5 1027.0,475.5 1028.0,478.5 1029.0,481.5 1030.0,484.3 1031.0,487.1 1032.0,489.9 1033.0,492.5 1034.0,495.0 1035.0,497.3 1036.0,499.6 1037.0,501.7 1038.0,503.7 1039.0,505.7 1040.0,507.5 1041.0,509.2 1042.0,510.9 1043.0,512.4 1044.0,513.9 1045.0,515.3 1046.0,516.6 1047.0,517.9 1048.0,519.1 1049.0,520.3 1050.0,521.4 1051.0,522.5 1052.0,523.5 1053.0,524.5 1054.0,525.4 1055.0,526.3 1056.0,527.2 1057.0,528.0 1058.0,528.7 1059.0,529.4 1060.0,530.1 1061.0,530.7 1062.0,531.3 1063.0,531.9 1064.0,532.4 1065.0,532.8 1066.0,533.3 1067.0,533.7 1068.0,534.0 1069.0,534.4 1070.0,534.7 1071.0,535.0 1072.0,535.2 1073.0,535.4 1074.0,535.6 1075.0,535.7 1076.0,535.8 1077.0,535.9 1078.0,536.0 1079.0,536.0 1080.0,536.1 1081.0,536.1 1082.0,536.0 1083.0,536.0 1084.0,535.9 1085.0,535.8 1086.0,535.7 1087.0,535.6 1088.0,535.4 1089.0,535.3 1090.0,535.1 1091.0,534.9 1092.0,534.7 1093.0,534.5 1094.0,534.2 1095.0,534.0 1096.0,533.7 1097.0,533.4 1098.0,533.2 1099.0,532.9 1100.0,532.6 1101.0,532.3 1102.0,532.0 1103.0,531.7 1104.0,531.4 1105.0,531.0 1106.0,530.7 1107.0,530.4 1108.0,530.1 1109.0,529.7 1110.0,529.4 1111.0,529.1 1112.0,528.8 1113.0,528.5 1114.0,528.2 1115.0,527.9 1116.0,527.6 1117.0,527.3 1118.0,527.0 1119.0,526.7 1120.0,526.4 1121.0,526.2 1122.0,525.9 1123.0,525.7 1124.0,525.5 1125.0,525.3 1126.0,525.1 1127.0,524.9 1128.0,524.7 1129.0,524.6 1130.0,524.5 1131.0,524.4 1132.0,524.3 1133.0,524.2 1134.0,524.2 1135.0,524.1 1136.0,524.1 1137.0,524.1 1138.0,524.2 1139.0,524.2 1140.0,524.3 1141.0,524.3 1142.0,524.4 1143.0,524.5 1144.0,524.6 1145.0,524.7 1146.0,524.8 1147.0,525.0 1148.0,525.1 1149.0,525.2 1150.0,525.3 1151.0,525.5 1152.0,525.6 1153.0,525.7 1154.0,525.8 1155.0,525.9 1156.0,526.0 1157.0,526.1 1158.0,526.2 1159.0,526.2 1160.0,526.3 1161.0,526.3 1162.0,526.3 1163.0,526.3 1164.0,526.3 1165.0,526.3 1166.0,526.2 1167.0,526.1 1168.0,526.0 1169.0,525.9 1170.0,525.7 1171.0,525.5 1172.0,525.3 1173.0,525.0 1174.0,524.8 1175.0,524.4 1176.0,524.1 1177.0,523.7 1178.0,523.2 1179.0,522.8 1180.0,522.3 1181.0,521.7 1182.0,521.1 1183.0,520.4 1184.0,519.7 1185.0,519.0 1186.0,518.2 1187.0,517.4 1188.0,516.5 1189.0,515.5 1190.0,514.5 1191.0,513.4 1192.0,512.3 1192.9,511.3" fill="none" stroke="#00FF00" stroke-width="4.3" stroke-linejoin="round" stroke-linecap="butt"/>
<path d="M262.0,556.0 263.0,557.5 264.0,558.9 265.0,560.2 266.0,561.5 267.0,562.7 268.0,563.8 269.0,564.9 270.0,565.9 271.0,566.8 272.0,567.7 273.0,568.5 274.0,569.2 275.0,569.9 276.0,570.6 277.0,571.1 278.0,571.7 279.0,572.1 280.0,572.5 281.0,572.9 282.0,573.2 283.0,573.4 284.0,573.6 285.0,573.8 286.0,573.9 287.0,573.9 288.0,573.9 289.0,573.8 290.0,573.7 291.0,573.6 292.0,573.4 293.0,573.2 294.0,572.9 295.0,572.6 296.0,572.2 297.0,571.8 298.0,571.4 299.0,570.9 300.0,570.4 301.0,569.8 302.0,569.3 303.0,568.6 304.0,568.0 305.0,567.3 306.0,566.6 307.0,565.8 308.0,565.0 309.0,564.2 310.0,563.4 311.0,562.5 312.0,561.6 313.0,560.7 314.0,559.8 315.0,558.9 316.0,557.9 317.0,557.0 318.0,556.1 319.0,555.1 320.0,554.2 321.0,553.3 322.0,552.5 323.0,551.6 324.0,550.8 325.0,550.0 326.0,549.2 327.0,548.5 328.0,547.8 329.0,547.0 330.0,546.3 331.0,545.6 332.0,544.9 333.0,544.2 334.0,543.6 335.0,542.9 336.0,542.2 337.0,541.5 338.0,540.8 339.0,540.1 340.0,539.4 341.0,538.7 342.0,538.0 343.0,537.3 344.0,536.6 345.0,535.9 346.0,535.2 347.0,534.5 348.0,533.8 349.0,533.1 350.0,532.4 351.0,531.7 352.0,530.9 353.0,530.2 354.0,529.5 355.0,528.8 356.0,528.1 357.0,527.3 358.0,526.6 359.0,525.9 360.0,525.1 361.0,524.4 362.0,523.7 363.0,522.9 364.0,522.2 365.0,521.5 366.0,520.7 367.0,520.0 368.0,519.2 369.0,518.5 370.0,517.8 371.0,517.0 372.0,516.3 373.0,515.5 374.0,514.8 375.0,514.0 376.0,513.3 377.0,512.5 378.0,511.8 379.0,511.0 380.0,510.3 381.0,509.6 382.0,508.8 383.0,508.1 384.0,507.3 385.0,506.6 386.0,505.8 387.0,505.1 388.0,504.3 389.0,503.6 390.0,502.8 391.0,502.1 392.0,501.3 393.0,500.6 394.0,499.9 395.0,499.1 396.0,498.4 397.0,497.6 398.0,496.9 399.0,496.2 400.0,495.4 401.0,494.7 402.0,494.0 403.0,493.3 404.0,492.6 405.0,491.9 406.0,491.3 407.0,490.6 408.0,490.0 409.0,489.4 410.0,488.9 411.0,488.3 412.0,487.8 413.0,487.3 414.0,486.9 415.0,486.4 416.0,486.1 417.0,485.7 418.0,485.4 419.0,485.1 420.0,484.9 421.0,484.7 422.0,484.6 423.0,484.5 424.0,484.5 425.0,484.5 426.0,484.6 427.0,484.7 428.0,484.9 429.0,485.1 430.0,485.4 431.0,485.7 432.0,486.0 433.0,486.4 434.0,486.8 435.0,487.2 436.0,487.6 437.0,488.0 438.0,488.5 439.0,488.9 440.0,489.4 441.0,489.8 442.0,490.3 443.0,490.7 444.0,491.1 445.0,491.5 446.0,491.9 447.0,492.2 448.0,492.5 449.0,492.8 450.0,493.0 451.0,493.2 452.0,493.4 453.0,493.5 454.0,493.6 455.0,493.6 456.0,493.6 457.0,493.6 458.0,493.6 459.0,493.5 460.0,493.4 461.0,493.3 462.0,493.2 463.0,493.0 464.0,492.9 465.0,492.7 466.0,492.5 467.0,492.3 468.0,492.2 469.0,492.0 470.0,491.8 471.0,491.6 472.0,491.4 473.0,491.3 474.0,491.1 475.0,491.0 476.0,490.8 477.0,490.7 478.0,490.6 479.0,490.6 480.0,490.5 481.0,490.5 482.0,490.5 483.0,490.6 484.0,490.7 485.0,490.8 486.0,490.9 487.0,491.1 488.0,491.3 489.0,491.5 490.0,491.8 491.0,492.1 492.0,492.4 493.0,492.7 494.0,493.1 495.0,493.5 496.0,493.8 497.0,494.2 498.0,494.7 499.0,495.1 500.0,495.5 501.0,495.9 502.0,496.4 503.0,496.8 504.0,497.3 505.0,497.7 506.0,498.1 507.0,498.6 508.0,499.0 509.0,499.4 510.0,499.8 511.0,500.2 512.0,500.6 513.0,501.0 514.0,501.3 515.0,501.6 516.0,502.0 517.0,502.3 518.0,502.5 519.0,502.8 520.0,503.1 521.0,503.3 522.0,503.5 523.0,503.7 524.0,503.9 525.0,504.1 526.0,504.3 527.0,504.5 528.0,504.6 529.0,504.8 530.0,504.9 531.0,505.0 532.0,505.1 533.0,505.2 534.0,505.3 535.0,505.4 536.0,505.5 537.0,505.6 538.0,505.7 539.0,505.7 540.0,505.8 541.0,505.8 542.0,505.9 543.0,506.0 544.0,506.0 545.0,506.1 546.0,506.1 547.0,506.1 548.0,506.2 549.0,506.2 550.0,506.3 551.0,506.3 552.0,506.4 553.0,506.4 554.0,506.5 555.0,506.6 556.0,506.6 557.0,506.7 558.0,506.7 559.0,506.8 560.0,506.8 561.0,506.8 562.0,506.9 563.0,506.9 564.0,506.9 565.0,506.8 566.0,506.8 567.0,506.7 568.0,506.6 569.0,506.5 570.0,506.3 571.0,506.2 572.0,505.9 573.0,505.7 574.0,505.5 575.0,505.2 576.0,504.9 577.0,504.6 578.0,504.3 579.0,504.0 580.0,503.7 581.0,503.4 582.0,503.2 583.0,502.9 584.0,502.7 585.0,502.5 586.0,502.3 587.0,502.2 588.0,502.1 589.0,502.1 590.0,502.1 591.0,502.1 592.0,502.3 593.0,502.4 594.0,502.7 595.0,503.0 596.0,503.3 597.0,503.8 598.0,504.2 599.0,504.7 600.0,505.3 601.0,505.9 602.0,506.5 603.0,507.2 604.0,507.9 605.0,508.6 606.0,509.4 607.0,510.2 608.0,511.0 609.0,511.9 610.0,512.7 611.0,513.6 612.0,514.5 613.0,515.4 614.0,516.3 615.0,517.2 616.0,518.2 617.0,519.1 618.0,520.0 619.0,520.9 620.0,521.8 621.0,522.7 622.0,523.6 623.0,524.5 624.0,525.3 625.0,526.2 626.0,527.0 627.0,527.9 628.0,528.7 629.0,529.5 630.0,530.4 631.0,531.2 632.0,532.0 633.0,532.8 634.0,533.6 635.0,534.4 636.0,535.1 637.0,535.9 638.0,536.7 639.0,537.5 640.0,538.3 641.0,539.0 642.0,539.8 643.0,540.6 644.0,541.4 645.0,542.1 646.0,542.9 647.0,543.7 648.0,544.5 649.0,545.2 650.0,546.0 651.0,546.8 652.0,547.6 653.0,548.4 654.0,549.2 655.0,550.0 656.0,550.8 657.0,551.6 658.0,552.4 659.0,553.2 660.0,554.0 661.0,554.9 662.0,555.7 663.0,556.5 664.0,557.3 665.0,558.1 666.0,558.9 667.0,559.6 668.0,560.4 669.0,561.1 670.0,561.9 671.0,562.6 672.0,563.3 673.0,563.9 674.0,564.6 675.0,565.2 676.0,565.8 677.0,566.3 678.0,566.9 679.0,567.3 680.0,567.8 681.0,568.2 682.0,568.6 683.0,569.0 684.0,569.4 685.0,569.7 686.0,570.0 687.0,570.3 688.0,570.6 689.0,570.9 690.0,571.1 691.0,571.4 692.0,571.6 693.0,571.8 694.0,572.1 695.0,572.3 696.0,572.5 697.0,572.7 698.0,573.0 699.0,573.2 700.0,573.5 701.0,573.7 702.0,574.0 703.0,574.3 704.0,574.6 705.0,574.9 706.0,575.2 707.0,575.5 708.0,575.8 709.0,576.2 710.0,576.5 711.0,576.8 712.0,577.2 713.0,577.5 714.0,577.9 715.0,578.3 716.0,578.7 717.0,579.0 718.0,579.4 719.0,579.8 720.0,580.2 721.0,580.6 722.0,581.0 723.0,581.4 724.0,581.8 725.0,582.2 726.0,582.6 727.0,583.0 728.0,583.4 729.0,583.9 730.0,584.3 731.0,584.7 732.0,585.1 733.0,585.5 734.0,585.9 735.0,586.3 736.0,586.7 737.0,587.2 738.0,587.6 739.0,588.0 740.0,588.4 741.0,588.8 742.0,589.2 743.0,589.6 744.0,589.9 745.0,590.3 746.0,590.7 747.0,591.1 748.0,591.4 749.0,591.8 750.0,592.1 751.0,592.4 752.0,592.7 753.0,593.0 754.0,593.3 755.0,593.5 756.0,593.8 757.0,594.0 758.0,594.2 759.0,594.4 760.0,594.5 761.0,594.6 762.0,594.7 763.0,594.8 764.0,594.9 765.0,594.9 766.0,594.9 767.0,594.8 768.0,594.8 769.0,594.7 770.0,594.5 771.0,594.3 772.0,594.1 773.0,593.9 774.0,593.6 775.0,593.3 776.0,592.9 777.0,592.5 778.0,592.1 779.0,591.6 780.0,591.1 781.0,590.5 782.0,590.0 783.0,589.4 784.0,588.8 785.0,588.1 786.0,587.4 787.0,586.7 788.0,586.0 789.0,585.3 790.0,584.5 791.0,583.8 792.0,583.0 793.0,582.2 794.0,581.4 795.0,580.6 796.0,579.8 797.0,578.9 798.0,578.1 799.0,577.3 800.0,576.4 801.0,575.6 802.0,574.8 803.0,573.9 804.0,573.1 805.0,572.3 806.0,571.5 807.0,570.7 808.0,569.9 809.0,569.1 810.0,568.3 811.0,567.5 812.0,566.7 813.0,565.9 814.0,565.1 815.0,564.3 816.0,563.4 817.0,562.6 818.0,561.7 819.0,560.9 820.0,560.0 821.0,559.0 822.0,558.1 823.0,557.2 824.0,556.2 825.0,555.2 826.0,554.2 827.0,553.1 828.0,552.1 829.0,551.0 830.0,549.9 831.0,548.9 832.0,547.8 833.0,546.7 834.0,545.5 835.0,544.4 836.0,543.3 837.0,542.2 838.0,541.1 839.0,539.9 840.0,538.8 841.0,537.7 842.0,536.6 843.0,535.5 844.0,534.4 845.0,533.3 846.0,532.2 847.0,531.1 848.0,530.1 849.0,529.1 850.0,528.1 851.0,527.2 852.0,526.3 853.0,525.4 854.0,524.6 855.0,523.9 856.0,523.2 857.0,522.6 858.0,522.0 859.0,521.6 860.0,521.2 861.0,520.9 862.0,520.6 863.0,520.5 864.0,520.4 865.0,520.5 866.0,520.6 867.0,520.7 868.0,521.0 869.0,521.3 870.0,521.6 871.0,522.0 872.0,522.4 873.0,522.9 874.0,523.3 875.0,523.8 876.0,524.4 877.0,524.9 878.0,525.4 879.0,526.0 880.0,526.5 881.0,527.0 882.0,527.5 883.0,527.9 884.0,528.3 885.0,528.7 886.0,529.0 887.0,529.3 888.0,529.6 889.0,529.8 890.0,530.0 891.0,530.1 892.0,530.2 893.0,530.3 894.0,530.4 895.0,530.5 896.0,530.5 897.0,530.5 898.0,530.5 899.0,530.4 900.0,530.4 901.0,530.3 902.0,530.3 903.0,530.2 904.0,530.1 905.0,530.0 906.0,529.9 907.0,529.8 908.0,529.6 909.0,529.5 910.0,529.4 911.0,529.3 912.0,529.2 913.0,529.1 914.0,529.0 915.0,529.0 916.0,528.9 917.0,528.8 918.0,528.8 919.0,528.8 920.0,528.8 921.0,528.8 922.0,528.8 923.0,528.9 924.0,529.0 925.0,529.0 926.0,529.1 927.0,529.2 928.0,529.3 929.0,529.5 930.0,529.6 931.0,529.7 932.0,529.8 933.0,529.9 934.0,530.0 935.0,530.1 936.0,530.2 937.0,530.3 938.0,530.3 939.0,530.3 940.0,530.4 941.0,530.4 942.0,530.3 943.0,530.3 944.0,530.2 945.0,530.1 946.0,530.0 947.0,529.8 948.0,529.6 949.0,529.3 950.0,529.0 951.0,528.7 952.0,528.3 953.0,527.9 954.0,527.4 955.0,526.9 956.0,526.3 957.0,525.7 958.0,525.0 959.0,524.2 960.0,523.4 961.0,522.5 962.0,521.6 963.0,520.5 964.0,519.4 965.0,518.3 966.0,517.1 967.0,515.8 968.0,514.5 969.0,513.2 970.0,511.8 971.0,510.4 972.0,508.9 973.0,507.5 974.0,506.0 975.0,504.6 976.0,503.1 977.0,501.6 978.0,500.2 979.0,498.7 980.0,497.3 981.0,495.9 982.0,494.5 983.0,493.1 984.0,491.8 985.0,490.5 986.0,489.3 987.0,488.1 988.0,487.0 989.0,485.9 990.0,484.9 991.0,483.9 992.0,483.0 993.0,482.2 994.0,481.5 995.0,480.8 996.0,480.2 997.0,479.8 998.0,479.4 999.0,479.1 1000.0,479.0 1001.0,478.9 1002.0,479.0 1003.0,479.2 1004.0,479.4 1005.0,479.8 1006.0,480.3 1007.0,480.9 1008.0,481.5 1009.0,482.3 1010.0,483.1 1011.0,484.0 1012.0,485.0 1013.0,486.0 1014.0,487.1 1015.0,488.3 1016.0,489.5 1017.0,490.8 1018.0,492.1 1019.0,493.4 1020.0,494.8 1021.0,496.3 1022.0,497.7 1023.0,499.2 1024.0,500.8 1025.0,502.3 1026.0,503.8 1027.0,505.4 1028.0,507.0 1029.0,508.5 1030.0,510.1 1031.0,511.7 1032.0,513.2 1033.0,514.7 1034.0,516.3 1035.0,517.8 1036.0,519.2 1037.0,520.7 1038.0,522.1 1039.0,523.4 1040.0,524.8 1041.0,526.1 1042.0,527.3 1043.0,528.5 1044.0,529.7 1045.0,530.9 1046.0,532.0 1047.0,533.0 1048.0,534.0 1049.0,535.0 1050.0,535.9 1051.0,536.8 1052.0,537.7 1053.0,538.5 1054.0,539.3 1055.0,540.0 1056.0,540.7 1057.0,541.3 1058.0,541.9 1059.0,542.4 1060.0,542.9 1061.0,543.4 1062.0,543.8 1063.0,544.1 1064.0,544.4 1065.0,544.7 1066.0,544.9 1067.0,545.1 1068.0,545.2 1069.0,545.2 1070.0,545.3 1071.0,545.2 1072.0,545.2 1073.0,545.1 1074.0,545.0 1075.0,544.9 1076.0,544.7 1077.0,544.6 1078.0,544.4 1079.0,544.2 1080.0,544.0 1081.0,543.8 1082.0,543.5 1083.0,543.3 1084.0,543.1 1085.0,542.9 1086.0,542.8 1087.0,542.6 1088.0,542.4 1089.0,542.3 1090.0,542.2 1091.0,542.1 1092.0,542.0 1093.0,541.9 1094.0,541.9 1095.0,541.8 1096.0,541.8 1097.0,541.7 1098.0,541.7 1099.0,541.6 1100.0,541.6 1101.0,541.6 1102.0,541.6 1103.0,541.5 1104.0,541.5 1105.0,541.5 1106.0,541.4 1107.0,541.4 1108.0,541.3 1109.0,541.3 1110.0,541.2 1111.0,541.2 1112.0,541.1 1113.0,541.0 1114.0,540.9 1115.0,540.9 1116.0,540.8 1117.0,540.7 1118.0,540.6 1119.0,540.5 1120.0,540.4 1121.0,540.3 1122.0,540.2 1123.0,540.1 1124.0,540.0 1125.0,539.9 1126.0,539.7 1127.0,539.6 1128.0,539.5 1129.0,539.4 1130.0,539.3 1131.0,539.2 1132.0,539.1 1133.0,539.0 1134.0,538.9 1135.0,538.8 1136.0,538.7 1137.0,538.6 1138.0,538.5 1139.0,538.4 1140.0,538.3 1141.0,538.2 1142.0,538.1 1143.0,538.0 1144.0,538.0 1145.0,537.9 1146.0,537.8 1147.0,537.8 1148.0,537.7 1149.0,537.7 1150.0,537.6 1151.0,537.6 1152.0,537.6 1153.0,537.5 1154.0,537.5 1155.0,537.5 1156.0,537.5 1157.0,537.5 1158.0,537.5 1159.0,537.5 1160.0,537.6 1161.0,537.6 1162.0,537.6 1163.0,537.6 1164.0,537.5 1165.0,537.5 1166.0,537.5 1167.0,537.5 1168.0,537.4 1169.0,537.4 1170.0,537.3 1171.0,537.2 1172.0,537.1 1173.0,537.0 1174.0,536.8 1175.0,536.7 1176.0,536.5 1177.0,536.2 1178.0,536.0 1179.0,535.7 1180.0,535.4 1181.0,535.1 1182.0,534.7 1183.0,534.3 1184.0,533.9 1185.0,533.4 1186.0,532.9 1187.0,532.4 1188.0,531.8 1189.0,531.2 1190.0,530.5 1191.0,529.8 1192.0,529.0 1192.9,528.3" fill="none" stroke="#0000FF" stroke-width="4.3" stroke-linejoin="round" stroke-linecap="butt"/>
<path d="M262.0,555.9 263.0,556.7 264.0,557.4 265.0,558.1 266.0,558.8 267.0,559.6 268.0,560.3 269.0,561.0 270.0,561.7 271.0,562.4 272.0,563.1 273.0,563.8 274.0,564.4 275.0,565.1 276.0,565.7 277.0,566.2 278.0,566.8 279.0,567.3 280.0,567.8 281.0,568.2 282.0,568.6 283.0,569.0 284.0,569.3 285.0,569.5 286.0,569.7 287.0,569.9 288.0,570.0 289.0,570.0 290.0,569.9 291.0,569.9 292.0,569.7 293.0,569.5 294.0,569.2 295.0,568.9 296.0,568.6 297.0,568.2 298.0,567.7 299.0,567.3 300.0,566.8 301.0,566.2 302.0,565.7 303.0,565.1 304.0,564.5 305.0,563.8 306.0,563.2 307.0,562.5 308.0,561.9 309.0,561.2 310.0,560.5 311.0,559.9 312.0,559.2 313.0,558.5 314.0,557.9 315.0,557.2 316.0,556.6 317.0,556.0 318.0,555.4 319.0,554.8 320.0,554.3 321.0,553.8 322.0,553.3 323.0,552.9 324.0,552.4 325.0,552.0 326.0,551.7 327.0,551.3 328.0,551.0 329.0,550.6 330.0,550.3 331.0,550.0 332.0,549.7 333.0,549.5 334.0,549.2 335.0,549.0 336.0,548.7 337.0,548.5 338.0,548.2 339.0,548.0 340.0,547.8 341.0,547.5 342.0,547.3 343.0,547.1 344.0,546.8 345.0,546.6 346.0,546.3 347.0,546.0 348.0,545.7 349.0,545.4 350.0,545.1 351.0,544.8 352.0,544.4 353.0,544.0 354.0,543.6 355.0,543.2 356.0,542.8 357.0,542.3 358.0,541.8 359.0,541.3 360.0,540.7 361.0,540.1 362.0,539.6 363.0,539.0 364.0,538.3 365.0,537.7 366.0,537.1 367.0,536.5 368.0,535.8 369.0,535.2 370.0,534.5 371.0,533.9 372.0,533.3 373.0,532.6 374.0,532.0 375.0,531.4 376.0,530.9 377.0,530.3 378.0,529.8 379.0,529.2 380.0,528.8 381.0,528.3 382.0,527.9 383.0,527.4 384.0,527.1 385.0,526.7 386.0,526.3 387.0,526.0 388.0,525.7 389.0,525.4 390.0,525.1 391.0,524.8 392.0,524.5 393.0,524.2 394.0,524.0 395.0,523.7 396.0,523.4 397.0,523.1 398.0,522.8 399.0,522.5 400.0,522.2 401.0,521.9 402.0,521.5 403.0,521.2 404.0,520.8 405.0,520.5 406.0,520.1 407.0,519.7 408.0,519.4 409.0,519.0 410.0,518.7 411.0,518.4 412.0,518.1 413.0,517.8 414.0,517.5 415.0,517.3 416.0,517.1 417.0,516.9 418.0,516.8 419.0,516.7 420.0,516.6 421.0,516.6 422.0,516.6 423.0,516.7 424.0,516.8 425.0,516.9 426.0,517.1 427.0,517.4 428.0,517.7 429.0,518.0 430.0,518.3 431.0,518.7 432.0,519.1 433.0,519.5 434.0,519.9 435.0,520.4 436.0,520.8 437.0,521.2 438.0,521.6 439.0,522.0 440.0,522.4 441.0,522.8 442.0,523.2 443.0,523.5 444.0,523.8 445.0,524.1 446.0,524.3 447.0,524.5 448.0,524.6 449.0,524.7 450.0,524.8 451.0,524.8 452.0,524.8 453.0,524.7 454.0,524.7 455.0,524.5 456.0,524.4 457.0,524.2 458.0,524.1 459.0,523.9 460.0,523.6 461.0,523.4 462.0,523.2 463.0,522.9 464.0,522.6 465.0,522.3 466.0,522.0 467.0,521.7 468.0,521.4 469.0,521.1 470.0,520.8 471.0,520.5 472.0,520.2 473.0,520.0 474.0,519.7 475.0,519.4 476.0,519.1 477.0,518.9 478.0,518.6 479.0,518.4 480.0,518.2 481.0,518.0 482.0,517.8 483.0,517.7 484.0,517.6 485.0,517.5 486.0,517.4 487.0,517.4 488.0,517.4 489.0,517.4 490.0,517.4 491.0,517.4 492.0,517.5 493.0,517.6 494.0,517.7 495.0,517.8 496.0,517.9 497.0,518.1 498.0,518.2 499.0,518.4 500.0,518.6 501.0,518.8 502.0,519.0 503.0,519.2 504.0,519.5 505.0,519.7 506.0,520.0 507.0,520.3 508.0,520.5 509.0,520.8 510.0,521.1 511.0,521.4 512.0,521.7 513.0,522.0 514.0,522.2 515.0,522.5 516.0,522.8 517.0,523.1 518.0,523.4 519.0,523.7 520.0,524.0 521.0,524.3 522.0,524.6 523.0,524.9 524.0,525.2 525.0,525.4 526.0,525.7 527.0,526.0 528.0,526.2 529.0,526.5 530.0,526.7 531.0,527.0 532.0,527.2 533.0,527.4 534.0,527.7 535.0,527.9 536.0,528.1 537.0,528.3 538.0,528.5 539.0,528.7 540.0,528.9 541.0,529.0 542.0,529.2 543.0,529.4 544.0,529.5 545.0,529.7 546.0,529.8 547.0,529.9 548.0,530.0 549.0,530.2 550.0,530.3 551.0,530.3 552.0,530.4 553.0,530.5 554.0,530.5 555.0,530.6 556.0,530.6 557.0,530.7 558.0,530.7 559.0,530.7 560.0,530.7 561.0,530.6 562.0,530.6 563.0,530.6 564.0,530.5 565.0,530.4 566.0,530.3 567.0,530.2 568.0,530.1 569.0,530.0 570.0,529.9 571.0,529.7 572.0,529.6 573.0,529.4 574.0,529.2 575.0,529.0 576.0,528.8 577.0,528.6 578.0,528.5 579.0,528.3 580.0,528.1 581.0,527.9 582.0,527.7 583.0,527.6 584.0,527.4 585.0,527.3 586.0,527.1 587.0,527.0 588.0,527.0 589.0,526.9 590.0,526.8 591.0,526.8 592.0,526.8 593.0,526.8 594.0,526.9 595.0,527.0 596.0,527.1 597.0,527.3 598.0,527.4 599.0,527.6 600.0,527.8 601.0,528.1 602.0,528.3 603.0,528.6 604.0,528.9 605.0,529.3 606.0,529.6 607.0,530.0 608.0,530.3 609.0,530.7 610.0,531.1 611.0,531.6 612.0,532.0 613.0,532.4 614.0,532.9 615.0,533.3 616.0,533.8 617.0,534.2 618.0,534.7 619.0,535.2 620.0,535.7 621.0,536.1 622.0,536.6 623.0,537.1 624.0,537.6 625.0,538.1 626.0,538.5 627.0,539.0 628.0,539.4 629.0,539.9 630.0,540.3 631.0,540.8 632.0,541.2 633.0,541.6 634.0,542.0 635.0,542.4 636.0,542.8 637.0,543.2 638.0,543.6 639.0,544.0 640.0,544.4 641.0,544.8 642.0,545.2 643.0,545.6 644.0,546.0 645.0,546.4 646.0,546.8 647.0,547.2 648.0,547.7 649.0,548.1 650.0,548.5 651.0,549.0 652.0,549.5 653.0,549.9 654.0,550.4 655.0,550.9 656.0,551.4 657.0,552.0 658.0,552.5 659.0,553.1 660.0,553.6 661.0,554.1 662.0,554.6 663.0,555.1 664.0,555.6 665.0,556.0 666.0,556.4 667.0,556.7 668.0,557.0 669.0,557.3 670.0,557.6 671.0,557.8 672.0,558.0 673.0,558.2 674.0,558.4 675.0,558.6 676.0,558.7 677.0,558.8 678.0,558.9 679.0,559.1 680.0,559.2 681.0,559.2 682.0,559.3 683.0,559.4 684.0,559.5 685.0,559.6 686.0,559.7 687.0,559.8 688.0,559.9 689.0,560.0 690.0,560.1 691.0,560.3 692.0,560.4 693.0,560.6 694.0,560.8 695.0,561.0 696.0,561.2 697.0,561.4 698.0,561.6 699.0,561.8 700.0,562.0 701.0,562.3 702.0,562.5 703.0,562.8 704.0,563.0 705.0,563.3 706.0,563.5 707.0,563.8 708.0,564.1 709.0,564.4 710.0,564.6 711.0,564.9 712.0,565.2 713.0,565.5 714.0,565.8 715.0,566.1 716.0,566.4 717.0,566.6 718.0,566.9 719.0,567.2 720.0,567.5 721.0,567.7 722.0,568.0 723.0,568.3 724.0,568.5 725.0,568.8 726.0,569.0 727.0,569.3 728.0,569.5 729.0,569.8 730.0,570.0 731.0,570.2 732.0,570.4 733.0,570.6 734.0,570.8 735.0,571.0 736.0,571.2 737.0,571.4 738.0,571.6 739.0,571.7 740.0,571.9 741.0,572.1 742.0,572.2 743.0,572.4 744.0,572.5 745.0,572.6 746.0,572.8 747.0,572.9 748.0,573.0 749.0,573.1 750.0,573.2 751.0,573.3 752.0,573.4 753.0,573.4 754.0,573.5 755.0,573.6 756.0,573.6 757.0,573.7 758.0,573.7 759.0,573.8 760.0,573.8 761.0,573.8 762.0,573.8 763.0,573.8 764.0,573.8 765.0,573.8 766.0,573.8 767.0,573.8 768.0,573.7 769.0,573.7 770.0,573.7 771.0,573.6 772.0,573.5 773.0,573.5 774.0,573.4 775.0,573.3 776.0,573.2 777.0,573.1 778.0,573.0 779.0,572.9 780.0,572.7 781.0,572.6 782.0,572.5 783.0,572.3 784.0,572.1 785.0,572.0 786.0,571.8 787.0,571.6 788.0,571.4 789.0,571.2 790.0,571.0 791.0,570.8 792.0,570.5 793.0,570.3 794.0,570.1 795.0,569.8 796.0,569.5 797.0,569.3 798.0,569.0 799.0,568.7 800.0,568.4 801.0,568.1 802.0,567.7 803.0,567.4 804.0,567.1 805.0,566.7 806.0,566.3 807.0,566.0 808.0,565.6 809.0,565.2 810.0,564.7 811.0,564.3 812.0,563.8 813.0,563.4 814.0,562.9 815.0,562.4 816.0,561.9 817.0,561.3 818.0,560.8 819.0,560.2 820.0,559.6 821.0,559.0 822.0,558.3 823.0,557.7 824.0,557.0 825.0,556.3 826.0,555.6 827.0,554.8 828.0,554.1 829.0,553.3 830.0,552.5 831.0,551.7 832.0,550.9 833.0,550.0 834.0,549.2 835.0,548.3 836.0,547.5 837.0,546.6 838.0,545.8 839.0,544.9 840.0,544.1 841.0,543.2 842.0,542.4 843.0,541.6 844.0,540.8 845.0,540.0 846.0,539.3 847.0,538.6 848.0,537.9 849.0,537.2 850.0,536.6 851.0,536.0 852.0,535.4 853.0,534.9 854.0,534.4 855.0,534.0 856.0,533.6 857.0,533.3 858.0,533.0 859.0,532.8 860.0,532.6 861.0,532.6 862.0,532.5 863.0,532.6 864.0,532.7 865.0,532.8 866.0,533.0 867.0,533.2 868.0,533.5 869.0,533.8 870.0,534.2 871.0,534.5 872.0,534.9 873.0,535.3 874.0,535.7 875.0,536.1 876.0,536.6 877.0,537.0 878.0,537.4 879.0,537.8 880.0,538.2 881.0,538.5 882.0,538.8 883.0,539.1 884.0,539.4 885.0,539.6 886.0,539.8 887.0,539.9 888.0,540.1 889.0,540.1 890.0,540.2 891.0,540.2 892.0,540.2 893.0,540.2 894.0,540.1 895.0,540.0 896.0,539.9 897.0,539.8 898.0,539.7 899.0,539.5 900.0,539.4 901.0,539.2 902.0,539.0 903.0,538.8 904.0,538.6 905.0,538.4 906.0,538.2 907.0,538.0 908.0,537.8 909.0,537.6 910.0,537.4 911.0,537.2 912.0,537.0 913.0,536.9 914.0,536.7 915.0,536.6 916.0,536.4 917.0,536.3 918.0,536.2 919.0,536.1 920.0,536.1 921.0,536.0 922.0,536.0 923.0,536.0 924.0,536.1 925.0,536.1 926.0,536.2 927.0,536.3 928.0,536.4 929.0,536.5 930.0,536.6 931.0,536.7 932.0,536.8 933.0,537.0 934.0,537.1 935.0,537.2 936.0,537.4 937.0,537.5 938.0,537.7 939.0,537.8 940.0,537.9 941.0,538.0 942.0,538.1 943.0,538.2 944.0,538.3 945.0,538.4 946.0,538.4 947.0,538.5 948.0,538.5 949.0,538.5 950.0,538.5 951.0,538.4 952.0,538.3 953.0,538.2 954.0,538.1 955.0,538.0 956.0,537.8 957.0,537.5 958.0,537.3 959.0,537.0 960.0,536.6 961.0,536.2 962.0,535.7 963.0,535.2 964.0,534.6 965.0,533.9 966.0,533.2 967.0,532.5 968.0,531.6 969.0,530.7 970.0,529.8 971.0,528.9 972.0,527.9 973.0,526.9 974.0,525.9 975.0,524.9 976.0,523.9 977.0,523.0 978.0,522.0 979.0,521.1 980.0,520.2 981.0,519.3 982.0,518.5 983.0,517.8 984.0,517.0 985.0,516.3 986.0,515.6 987.0,515.0 988.0,514.4 989.0,513.9 990.0,513.4 991.0,512.9 992.0,512.4 993.0,512.1 994.0,511.7 995.0,511.4 996.0,511.1 997.0,510.9 998.0,510.7 999.0,510.6 1000.0,510.5 1001.0,510.5 1002.0,510.5 1003.0,510.5 1004.0,510.6 1005.0,510.7 1006.0,510.9 1007.0,511.1 1008.0,511.4 1009.0,511.7 1010.0,512.1 1011.0,512.5 1012.0,513.0 1013.0,513.5 1014.0,514.1 1015.0,514.7 1016.0,515.3 1017.0,516.0 1018.0,516.7 1019.0,517.4 1020.0,518.2 1021.0,519.0 1022.0,519.8 1023.0,520.6 1024.0,521.5 1025.0,522.4 1026.0,523.2 1027.0,524.1 1028.0,525.0 1029.0,525.9 1030.0,526.9 1031.0,527.8 1032.0,528.7 1033.0,529.6 1034.0,530.5 1035.0,531.3 1036.0,532.2 1037.0,533.1 1038.0,533.9 1039.0,534.7 1040.0,535.5 1041.0,536.3 1042.0,537.0 1043.0,537.8 1044.0,538.5 1045.0,539.2 1046.0,539.9 1047.0,540.5 1048.0,541.1 1049.0,541.8 1050.0,542.3 1051.0,542.9 1052.0,543.4 1053.0,543.9 1054.0,544.4 1055.0,544.8 1056.0,545.2 1057.0,545.6 1058.0,546.0 1059.0,546.3 1060.0,546.6 1061.0,546.9 1062.0,547.1 1063.0,547.3 1064.0,547.5 1065.0,547.7 1066.0,547.8 1067.0,547.8 1068.0,547.9 1069.0,547.9 1070.0,547.9 1071.0,547.8 1072.0,547.7 1073.0,547.6 1074.0,547.5 1075.0,547.4 1076.0,547.2 1077.0,547.0 1078.0,546.8 1079.0,546.6 1080.0,546.4 1081.0,546.1 1082.0,545.9 1083.0,545.6 1084.0,545.4 1085.0,545.1 1086.0,544.8 1087.0,544.5 1088.0,544.3 1089.0,544.0 1090.0,543.7 1091.0,543.5 1092.0,543.2 1093.0,543.0 1094.0,542.7 1095.0,542.5 1096.0,542.3 1097.0,542.1 1098.0,541.9 1099.0,541.8 1100.0,541.6 1101.0,541.4 1102.0,541.3 1103.0,541.2 1104.0,541.0 1105.0,540.9 1106.0,540.8 1107.0,540.7 1108.0,540.6 1109.0,540.5 1110.0,540.5 1111.0,540.4 1112.0,540.3 1113.0,540.3 1114.0,540.2 1115.0,540.2 1116.0,540.2 1117.0,540.1 1118.0,540.1 1119.0,540.1 1120.0,540.1 1121.0,540.1 1122.0,540.1 1123.0,540.1 1124.0,540.1 1125.0,540.1 1126.0,540.1 1127.0,540.1 1128.0,540.2 1129.0,540.2 1130.0,540.2 1131.0,540.2 1132.0,540.3 1133.0,540.3 1134.0,540.3 1135.0,540.4 1136.0,540.4 1137.0,540.5 1138.0,540.5 1139.0,540.5 1140.0,540.6 1141.0,540.6 1142.0,540.7 1143.0,540.7 1144.0,540.7 1145.0,540.8 1146.0,540.8 1147.0,540.8 1148.0,540.9 1149.0,540.9 1150.0,540.9 1151.0,540.9 1152.0,541.0 1153.0,541.0 1154.0,541.0 1155.0,541.0 1156.0,541.0 1157.0,541.0 1158.0,541.0 1159.0,541.0 1160.0,541.0 1161.0,541.0 1162.0,541.0 1163.0,540.9 1164.0,540.9 1165.0,540.8 1166.0,540.8 1167.0,540.7 1168.0,540.7 1169.0,540.6 1170.0,540.5 1171.0,540.4 1172.0,540.3 1173.0,540.2 1174.0,540.1 1175.0,540.0 1176.0,539.9 1177.0,539.7 1178.0,539.6 1179.0,539.4 1180.0,539.3 1181.0,539.1 1182.0,538.9 1183.0,538.7 1184.0,538.5 1185.0,538.2 1186.0,538.0 1187.0,537.7 1188.0,537.5 1189.0,537.2 1190.0,536.9 1191.0,536.6 1192.0,536.3 1192.9,536.0" fill="none" stroke="#00FFFF" stroke-width="4.3" stroke-linejoin="round" stroke-linecap="butt"/>
<path d="M262.0,555.3 263.0,556.0 264.0,556.8 265.0,557.5 266.0,558.2 267.0,558.9 268.0,559.5 269.0,560.1 270.0,560.7 271.0,561.2 272.0,561.7 273.0,562.1 274.0,562.5 275.0,562.9 276.0,563.2 277.0,563.5 278.0,563.8 279.0,564.0 280.0,564.2 281.0,564.3 282.0,564.4 283.0,564.4 284.0,564.5 285.0,564.4 286.0,564.3 287.0,564.2 288.0,564.0 289.0,563.8 290.0,563.5 291.0,563.2 292.0,562.8 293.0,562.4 294.0,562.0 295.0,561.5 296.0,561.1 297.0,560.6 298.0,560.1 299.0,559.6 300.0,559.1 301.0,558.6 302.0,558.1 303.0,557.6 304.0,557.2 305.0,556.7 306.0,556.3 307.0,556.0 308.0,555.6 309.0,555.3 310.0,555.0 311.0,554.7 312.0,554.5 313.0,554.2 314.0,554.0 315.0,553.8 316.0,553.6 317.0,553.5 318.0,553.3 319.0,553.2 320.0,553.1 321.0,553.0 322.0,552.9 323.0,552.8 324.0,552.7 325.0,552.6 326.0,552.6 327.0,552.5 328.0,552.5 329.0,552.4 330.0,552.4 331.0,552.3 332.0,552.3 333.0,552.2 334.0,552.2 335.0,552.1 336.0,552.1 337.0,552.0 338.0,551.9 339.0,551.9 340.0,551.8 341.0,551.7 342.0,551.6 343.0,551.5 344.0,551.3 345.0,551.2 346.0,551.1 347.0,550.9 348.0,550.7 349.0,550.5 350.0,550.3 351.0,550.1 352.0,549.9 353.0,549.7 354.0,549.5 355.0,549.2 356.0,548.9 357.0,548.6 358.0,548.3 359.0,548.0 360.0,547.7 361.0,547.4 362.0,547.0 363.0,546.6 364.0,546.3 365.0,545.9 366.0,545.5 367.0,545.0 368.0,544.6 369.0,544.2 370.0,543.8 371.0,543.4 372.0,543.0 373.0,542.6 374.0,542.2 375.0,541.8 376.0,541.4 377.0,541.1 378.0,540.8 379.0,540.5 380.0,540.3 381.0,540.0 382.0,539.8 383.0,539.6 384.0,539.4 385.0,539.2 386.0,539.1 387.0,538.9 388.0,538.8 389.0,538.7 390.0,538.6 391.0,538.5 392.0,538.4 393.0,538.3 394.0,538.2 395.0,538.1 396.0,538.0 397.0,537.9 398.0,537.9 399.0,537.8 400.0,537.7 401.0,537.6 402.0,537.5 403.0,537.4 404.0,537.3 405.0,537.2 406.0,537.0 407.0,536.9 408.0,536.7 409.0,536.6 410.0,536.4 411.0,536.3 412.0,536.1 413.0,536.0 414.0,535.8 415.0,535.7 416.0,535.6 417.0,535.5 418.0,535.4 419.0,535.3 420.0,535.3 421.0,535.2 422.0,535.2 423.0,535.3 424.0,535.3 425.0,535.4 426.0,535.5 427.0,535.6 428.0,535.8 429.0,536.0 430.0,536.2 431.0,536.5 432.0,536.7 433.0,537.0 434.0,537.3 435.0,537.6 436.0,537.9 437.0,538.2 438.0,538.5 439.0,538.8 440.0,539.1 441.0,539.4 442.0,539.7 443.0,540.0 444.0,540.3 445.0,540.5 446.0,540.8 447.0,541.0 448.0,541.2 449.0,541.4 450.0,541.5 451.0,541.6 452.0,541.7 453.0,541.7 454.0,541.8 455.0,541.7 456.0,541.6 457.0,541.5 458.0,541.3 459.0,541.1 460.0,540.9 461.0,540.6 462.0,540.3 463.0,540.0 464.0,539.7 465.0,539.3 466.0,538.9 467.0,538.5 468.0,538.1 469.0,537.7 470.0,537.2 471.0,536.8 472.0,536.4 473.0,535.9 474.0,535.5 475.0,535.1 476.0,534.7 477.0,534.2 478.0,533.9 479.0,533.5 480.0,533.1 481.0,532.8 482.0,532.5 483.0,532.2 484.0,532.0 485.0,531.7 486.0,531.5 487.0,531.3 488.0,531.1 489.0,531.0 490.0,530.8 491.0,530.7 492.0,530.6 493.0,530.6 494.0,530.5 495.0,530.4 496.0,530.4 497.0,530.4 498.0,530.4 499.0,530.4 500.0,530.5 501.0,530.5 502.0,530.6 503.0,530.7 504.0,530.8 505.0,530.9 506.0,531.0 507.0,531.1 508.0,531.2 509.0,531.4 510.0,531.6 511.0,531.7 512.0,531.9 513.0,532.1 514.0,532.3 515.0,532.5 516.0,532.7 517.0,532.9 518.0,533.1 519.0,533.4 520.0,533.6 521.0,533.8 522.0,534.1 523.0,534.3 524.0,534.6 525.0,534.8 526.0,535.1 527.0,535.4 528.0,535.6 529.0,535.9 530.0,536.1 531.0,536.4 532.0,536.7 533.0,536.9 534.0,537.2 535.0,537.4 536.0,537.7 537.0,538.0 538.0,538.2 539.0,538.4 540.0,538.7 541.0,538.9 542.0,539.2 543.0,539.4 544.0,539.6 545.0,539.8 546.0,540.0 547.0,540.2 548.0,540.4 549.0,540.6 550.0,540.8 551.0,540.9 552.0,541.1 553.0,541.2 554.0,541.4 555.0,541.5 556.0,541.6 557.0,541.7 558.0,541.8 559.0,541.9 560.0,541.9 561.0,542.0 562.0,542.1 563.0,542.1 564.0,542.1 565.0,542.2 566.0,542.2 567.0,542.2 568.0,542.2 569.0,542.2 570.0,542.2 571.0,542.2 572.0,542.2 573.0,542.2 574.0,542.1 575.0,542.1 576.0,542.1 577.0,542.0 578.0,542.0 579.0,542.0 580.0,541.9 581.0,541.9 582.0,541.8 583.0,541.8 584.0,541.7 585.0,541.6 586.0,541.6 587.0,541.5 588.0,541.5 589.0,541.4 590.0,541.3 591.0,541.3 592.0,541.2 593.0,541.2 594.0,541.1 595.0,541.1 596.0,541.0 597.0,541.0 598.0,540.9 599.0,540.9 600.0,540.8 601.0,540.8 602.0,540.8 603.0,540.7 604.0,540.7 605.0,540.7 606.0,540.7 607.0,540.7 608.0,540.7 609.0,540.7 610.0,540.7 611.0,540.7 612.0,540.7 613.0,540.7 614.0,540.8 615.0,540.8 616.0,540.9 617.0,541.0 618.0,541.0 619.0,541.1 620.0,541.2 621.0,541.3 622.0,541.4 623.0,541.6 624.0,541.7 625.0,541.8 626.0,542.0 627.0,542.2 628.0,542.3 629.0,542.5 630.0,542.7 631.0,543.0 632.0,543.2 633.0,543.4 634.0,543.7 635.0,543.9 636.0,544.2 637.0,544.5 638.0,544.7 639.0,545.0 640.0,545.3 641.0,545.6 642.0,545.9 643.0,546.2 644.0,546.5 645.0,546.8 646.0,547.2 647.0,547.5 648.0,547.8 649.0,548.1 650.0,548.4 651.0,548.8 652.0,549.1 653.0,549.4 654.0,549.8 655.0,550.1 656.0,550.4 657.0,550.7 658.0,551.1 659.0,551.4 660.0,551.7 661.0,552.0 662.0,552.3 663.0,552.6 664.0,552.9 665.0,553.1 666.0,553.4 667.0,553.7 668.0,553.9 669.0,554.1 670.0,554.4 671.0,554.6 672.0,554.8 673.0,554.9 674.0,555.1 675.0,555.2 676.0,555.3 677.0,555.4 678.0,555.5 679.0,555.6 680.0,555.6 681.0,555.6 682.0,555.6 683.0,555.6 684.0,555.5 685.0,555.5 686.0,555.4 687.0,555.3 688.0,555.1 689.0,555.0 690.0,554.9 691.0,554.7 692.0,554.6 693.0,554.5 694.0,554.3 695.0,554.2 696.0,554.1 697.0,554.0 698.0,554.0 699.0,554.0 700.0,553.9 701.0,554.0 702.0,554.0 703.0,554.1 704.0,554.2 705.0,554.3 706.0,554.5 707.0,554.7 708.0,554.8 709.0,555.0 710.0,555.3 711.0,555.5 712.0,555.8 713.0,556.0 714.0,556.3 715.0,556.6 716.0,556.9 717.0,557.2 718.0,557.5 719.0,557.8 720.0,558.1 721.0,558.4 722.0,558.7 723.0,559.0 724.0,559.3 725.0,559.6 726.0,559.9 727.0,560.2 728.0,560.5 729.0,560.7 730.0,561.0 731.0,561.3 732.0,561.5 733.0,561.8 734.0,562.0 735.0,562.3 736.0,562.5 737.0,562.7 738.0,562.9 739.0,563.1 740.0,563.4 741.0,563.6 742.0,563.7 743.0,563.9 744.0,564.1 745.0,564.3 746.0,564.5 747.0,564.6 748.0,564.8 749.0,564.9 750.0,565.0 751.0,565.2 752.0,565.3 753.0,565.4 754.0,565.5 755.0,565.6 756.0,565.7 757.0,565.8 758.0,565.9 759.0,566.0 760.0,566.1 761.0,566.1 762.0,566.2 763.0,566.2 764.0,566.3 765.0,566.3 766.0,566.3 767.0,566.3 768.0,566.3 769.0,566.3 770.0,566.3 771.0,566.3 772.0,566.3 773.0,566.3 774.0,566.2 775.0,566.2 776.0,566.1 777.0,566.1 778.0,566.0 779.0,565.9 780.0,565.8 781.0,565.7 782.0,565.6 783.0,565.5 784.0,565.4 785.0,565.3 786.0,565.1 787.0,565.0 788.0,564.8 789.0,564.7 790.0,564.5 791.0,564.3 792.0,564.1 793.0,563.9 794.0,563.7 795.0,563.5 796.0,563.3 797.0,563.1 798.0,562.8 799.0,562.6 800.0,562.3 801.0,562.1 802.0,561.8 803.0,561.5 804.0,561.2 805.0,560.9 806.0,560.6 807.0,560.3 808.0,560.0 809.0,559.6 810.0,559.3 811.0,559.0 812.0,558.6 813.0,558.3 814.0,557.9 815.0,557.5 816.0,557.2 817.0,556.8 818.0,556.4 819.0,556.0 820.0,555.6 821.0,555.2 822.0,554.8 823.0,554.4 824.0,554.0 825.0,553.6 826.0,553.2 827.0,552.8 828.0,552.3 829.0,551.9 830.0,551.5 831.0,551.1 832.0,550.6 833.0,550.2 834.0,549.7 835.0,549.3 836.0,548.9 837.0,548.4 838.0,548.0 839.0,547.6 840.0,547.1 841.0,546.7 842.0,546.3 843.0,545.8 844.0,545.4 845.0,545.1 846.0,544.7 847.0,544.3 848.0,544.0 849.0,543.7 850.0,543.4 851.0,543.1 852.0,542.9 853.0,542.6 854.0,542.5 855.0,542.3 856.0,542.2 857.0,542.1 858.0,542.1 859.0,542.1 860.0,542.1 861.0,542.2 862.0,542.3 863.0,542.5 864.0,542.6 865.0,542.9 866.0,543.1 867.0,543.4 868.0,543.7 869.0,544.0 870.0,544.3 871.0,544.7 872.0,545.0 873.0,545.3 874.0,545.7 875.0,546.0 876.0,546.4 877.0,546.7 878.0,547.0 879.0,547.3 880.0,547.5 881.0,547.8 882.0,548.0 883.0,548.2 884.0,548.3 885.0,548.4 886.0,548.5 887.0,548.5 888.0,548.5 889.0,548.5 890.0,548.5 891.0,548.4 892.0,548.3 893.0,548.2 894.0,548.0 895.0,547.9 896.0,547.7 897.0,547.5 898.0,547.3 899.0,547.0 900.0,546.8 901.0,546.6 902.0,546.3 903.0,546.0 904.0,545.8 905.0,545.5 906.0,545.2 907.0,544.9 908.0,544.7 909.0,544.4 910.0,544.1 911.0,543.9 912.0,543.6 913.0,543.3 914.0,543.1 915.0,542.9 916.0,542.7 917.0,542.5 918.0,542.3 919.0,542.1 920.0,541.9 921.0,541.7 922.0,541.6 923.0,541.5 924.0,541.3 925.0,541.2 926.0,541.1 927.0,541.0 928.0,541.0 929.0,540.9 930.0,540.9 931.0,540.9 932.0,540.9 933.0,540.9 934.0,540.9 935.0,541.0 936.0,541.0 937.0,541.1 938.0,541.2 939.0,541.3 940.0,541.5 941.0,541.7 942.0,541.8 943.0,542.0 944.0,542.2 945.0,542.5 946.0,542.7 947.0,542.9 948.0,543.1 949.0,543.3 950.0,543.5 951.0,543.7 952.0,543.9 953.0,544.1 954.0,544.3 955.0,544.4 956.0,544.5 957.0,544.6 958.0,544.6 959.0,544.6 960.0,544.6 961.0,544.5 962.0,544.4 963.0,544.2 964.0,544.0 965.0,543.7 966.0,543.4 967.0,543.0 968.0,542.6 969.0,542.1 970.0,541.6 971.0,541.1 972.0,540.5 973.0,539.9 974.0,539.2 975.0,538.6 976.0,537.9 977.0,537.2 978.0,536.5 979.0,535.8 980.0,535.1 981.0,534.4 982.0,533.7 983.0,533.1 984.0,532.4 985.0,531.7 986.0,531.1 987.0,530.5 988.0,530.0 989.0,529.5 990.0,529.0 991.0,528.5 992.0,528.1 993.0,527.7 994.0,527.3 995.0,527.0 996.0,526.7 997.0,526.4 998.0,526.1 999.0,525.9 1000.0,525.7 1001.0,525.5 1002.0,525.4 1003.0,525.3 1004.0,525.2 1005.0,525.2 1006.0,525.1 1007.0,525.1 1008.0,525.2 1009.0,525.2 1010.0,525.3 1011.0,525.4 1012.0,525.5 1013.0,525.7 1014.0,525.9 1015.0,526.1 1016.0,526.3 1017.0,526.5 1018.0,526.8 1019.0,527.1 1020.0,527.4 1021.0,527.8 1022.0,528.1 1023.0,528.5 1024.0,528.9 1025.0,529.4 1026.0,529.8 1027.0,530.3 1028.0,530.8 1029.0,531.3 1030.0,531.8 1031.0,532.4 1032.0,533.0 1033.0,533.6 1034.0,534.2 1035.0,534.8 1036.0,535.5 1037.0,536.1 1038.0,536.8 1039.0,537.5 1040.0,538.2 1041.0,539.0 1042.0,539.7 1043.0,540.5 1044.0,541.2 1045.0,542.0 1046.0,542.8 1047.0,543.6 1048.0,544.3 1049.0,545.1 1050.0,545.9 1051.0,546.6 1052.0,547.3 1053.0,548.1 1054.0,548.8 1055.0,549.4 1056.0,550.1 1057.0,550.7 1058.0,551.3 1059.0,551.9 1060.0,552.4 1061.0,552.9 1062.0,553.3 1063.0,553.7 1064.0,554.1 1065.0,554.4 1066.0,554.6 1067.0,554.8 1068.0,554.9 1069.0,555.0 1070.0,555.0 1071.0,555.0 1072.0,554.9 1073.0,554.7 1074.0,554.5 1075.0,554.3 1076.0,554.1 1077.0,553.8 1078.0,553.4 1079.0,553.1 1080.0,552.7 1081.0,552.3 1082.0,551.9 1083.0,551.5 1084.0,551.0 1085.0,550.6 1086.0,550.2 1087.0,549.7 1088.0,549.3 1089.0,548.9 1090.0,548.5 1091.0,548.1 1092.0,547.7 1093.0,547.3 1094.0,547.0 1095.0,546.7 1096.0,546.4 1097.0,546.2 1098.0,546.0 1099.0,545.8 1100.0,545.6 1101.0,545.5 1102.0,545.3 1103.0,545.2 1104.0,545.2 1105.0,545.1 1106.0,545.0 1107.0,545.0 1108.0,545.0 1109.0,545.0 1110.0,545.1 1111.0,545.1 1112.0,545.2 1113.0,545.2 1114.0,545.3 1115.0,545.4 1116.0,545.5 1117.0,545.7 1118.0,545.8 1119.0,545.9 1120.0,546.1 1121.0,546.3 1122.0,546.4 1123.0,546.6 1124.0,546.8 1125.0,547.0 1126.0,547.2 1127.0,547.4 1128.0,547.6 1129.0,547.8 1130.0,548.0 1131.0,548.2 1132.0,548.4 1133.0,548.7 1134.0,548.9 1135.0,549.1 1136.0,549.3 1137.0,549.5 1138.0,549.7 1139.0,549.9 1140.0,550.1 1141.0,550.3 1142.0,550.5 1143.0,550.7 1144.0,550.8 1145.0,551.0 1146.0,551.1 1147.0,551.3 1148.0,551.4 1149.0,551.5 1150.0,551.6 1151.0,551.7 1152.0,551.8 1153.0,551.9 1154.0,551.9 1155.0,552.0 1156.0,552.0 1157.0,552.0 1158.0,552.0 1159.0,551.9 1160.0,551.9 1161.0,551.8 1162.0,551.7 1163.0,551.6 1164.0,551.5 1165.0,551.3 1166.0,551.1 1167.0,550.9 1168.0,550.7 1169.0,550.4 1170.0,550.2 1171.0,549.8 1172.0,549.5 1173.0,549.1 1174.0,548.7 1175.0,548.3 1176.0,547.9 1177.0,547.4 1178.0,546.8 1179.0,546.3 1180.0,545.7 1181.0,545.1 1182.0,544.4 1183.0,543.7 1184.0,543.0 1185.0,542.2 1186.0,541.4 1187.0,540.6 1188.0,539.7 1189.0,538.8 1190.0,537.8 1191.0,536.8 1192.0,535.8 1192.9,534.8" fill="none" stroke="#FF00FF" stroke-width="4.3" stroke-linejoin="round" stroke-linecap="butt"/>
<path d="M262.0,554.7 263.0,555.6 264.0,556.5 265.0,557.3 266.0,558.0 267.0,558.6 268.0,559.2 269.0,559.8 270.0,560.3 271.0,560.7 272.0,561.1 273.0,561.5 274.0,561.8 275.0,562.0 276.0,562.2 277.0,562.4 278.0,562.5 279.0,562.6 280.0,562.7 281.0,562.7 282.0,562.7 283.0,562.7 284.0,562.6 285.0,562.5 286.0,562.4 287.0,562.2 288.0,562.1 289.0,561.9 290.0,561.7 291.0,561.5 292.0,561.3 293.0,561.0 294.0,560.8 295.0,560.5 296.0,560.3 297.0,560.0 298.0,559.7 299.0,559.5 300.0,559.2 301.0,558.9 302.0,558.7 303.0,558.4 304.0,558.2 305.0,557.9 306.0,557.7 307.0,557.5 308.0,557.3 309.0,557.1 310.0,556.9 311.0,556.7 312.0,556.6 313.0,556.4 314.0,556.3 315.0,556.2 316.0,556.0 317.0,555.9 318.0,555.8 319.0,555.7 320.0,555.6 321.0,555.5 322.0,555.4 323.0,555.3 324.0,555.2 325.0,555.2 326.0,555.1 327.0,555.0 328.0,555.0 329.0,554.9 330.0,554.9 331.0,554.8 332.0,554.7 333.0,554.7 334.0,554.7 335.0,554.6 336.0,554.6 337.0,554.5 338.0,554.5 339.0,554.4 340.0,554.4 341.0,554.3 342.0,554.3 343.0,554.2 344.0,554.1 345.0,554.0 346.0,554.0 347.0,553.9 348.0,553.7 349.0,553.6 350.0,553.4 351.0,553.3 352.0,553.1 353.0,552.8 354.0,552.6 355.0,552.3 356.0,552.0 357.0,551.6 358.0,551.3 359.0,550.9 360.0,550.5 361.0,550.1 362.0,549.7 363.0,549.3 364.0,548.9 365.0,548.5 366.0,548.1 367.0,547.7 368.0,547.4 369.0,547.1 370.0,546.8 371.0,546.6 372.0,546.4 373.0,546.3 374.0,546.1 375.0,546.1 376.0,546.0 377.0,546.0 378.0,546.0 379.0,546.0 380.0,546.0 381.0,546.1 382.0,546.1 383.0,546.2 384.0,546.3 385.0,546.4 386.0,546.6 387.0,546.7 388.0,546.8 389.0,547.0 390.0,547.1 391.0,547.2 392.0,547.4 393.0,547.5 394.0,547.6 395.0,547.7 396.0,547.9 397.0,547.9 398.0,548.0 399.0,548.1 400.0,548.1 401.0,548.1 402.0,548.1 403.0,548.1 404.0,548.0 405.0,547.9 406.0,547.8 407.0,547.7 408.0,547.6 409.0,547.4 410.0,547.2 411.0,547.0 412.0,546.8 413.0,546.6 414.0,546.4 415.0,546.2 416.0,546.0 417.0,545.9 418.0,545.7 419.0,545.5 420.0,545.4 421.0,545.2 422.0,545.1 423.0,545.1 424.0,545.0 425.0,545.0 426.0,545.0 427.0,545.0 428.0,545.1 429.0,545.2 430.0,545.3 431.0,545.4 432.0,545.6 433.0,545.8 434.0,546.0 435.0,546.2 436.0,546.4 437.0,546.6 438.0,546.9 439.0,547.1 440.0,547.3 441.0,547.6 442.0,547.8 443.0,548.0 444.0,548.3 445.0,548.5 446.0,548.7 447.0,548.8 448.0,549.0 449.0,549.2 450.0,549.3 451.0,549.4 452.0,549.4 453.0,549.5 454.0,549.5 455.0,549.5 456.0,549.5 457.0,549.4 458.0,549.3 459.0,549.2 460.0,549.1 461.0,548.9 462.0,548.7 463.0,548.6 464.0,548.4 465.0,548.1 466.0,547.9 467.0,547.6 468.0,547.4 469.0,547.1 470.0,546.8 471.0,546.5 472.0,546.2 473.0,545.9 474.0,545.6 475.0,545.2 476.0,544.9 477.0,544.6 478.0,544.2 479.0,543.9 480.0,543.5 481.0,543.2 482.0,542.9 483.0,542.5 484.0,542.2 485.0,541.9 486.0,541.5 487.0,541.2 488.0,540.9 489.0,540.6 490.0,540.3 491.0,540.0 492.0,539.8 493.0,539.5 494.0,539.3 495.0,539.0 496.0,538.8 497.0,538.6 498.0,538.5 499.0,538.3 500.0,538.2 501.0,538.1 502.0,538.0 503.0,537.9 504.0,537.8 505.0,537.8 506.0,537.8 507.0,537.8 508.0,537.8 509.0,537.8 510.0,537.9 511.0,538.0 512.0,538.0 513.0,538.1 514.0,538.3 515.0,538.4 516.0,538.5 517.0,538.7 518.0,538.8 519.0,539.0 520.0,539.2 521.0,539.4 522.0,539.6 523.0,539.8 524.0,540.0 525.0,540.2 526.0,540.5 527.0,540.7 528.0,541.0 529.0,541.2 530.0,541.5 531.0,541.7 532.0,542.0 533.0,542.3 534.0,542.6 535.0,542.8 536.0,543.1 537.0,543.4 538.0,543.7 539.0,544.0 540.0,544.3 541.0,544.5 542.0,544.8 543.0,545.1 544.0,545.4 545.0,545.7 546.0,546.0 547.0,546.3 548.0,546.5 549.0,546.8 550.0,547.1 551.0,547.4 552.0,547.6 553.0,547.9 554.0,548.1 555.0,548.4 556.0,548.6 557.0,548.9 558.0,549.1 559.0,549.3 560.0,549.5 561.0,549.7 562.0,549.9 563.0,550.1 564.0,550.3 565.0,550.5 566.0,550.7 567.0,550.8 568.0,550.9 569.0,551.1 570.0,551.2 571.0,551.3 572.0,551.4 573.0,551.5 574.0,551.5 575.0,551.6 576.0,551.6 577.0,551.6 578.0,551.6 579.0,551.6 580.0,551.6 581.0,551.6 582.0,551.5 583.0,551.4 584.0,551.3 585.0,551.2 586.0,551.1 587.0,551.0 588.0,550.8 589.0,550.6 590.0,550.4 591.0,550.2 592.0,550.0 593.0,549.7 594.0,549.5 595.0,549.2 596.0,548.9 597.0,548.7 598.0,548.4 599.0,548.1 600.0,547.8 601.0,547.6 602.0,547.3 603.0,547.0 604.0,546.8 605.0,546.5 606.0,546.3 607.0,546.0 608.0,545.8 609.0,545.6 610.0,545.4 611.0,545.2 612.0,545.1 613.0,544.9 614.0,544.8 615.0,544.7 616.0,544.6 617.0,544.6 618.0,544.6 619.0,544.5 620.0,544.5 621.0,544.6 622.0,544.6 623.0,544.6 624.0,544.7 625.0,544.8 626.0,544.9 627.0,545.0 628.0,545.1 629.0,545.2 630.0,545.3 631.0,545.5 632.0,545.6 633.0,545.8 634.0,546.0 635.0,546.1 636.0,546.3 637.0,546.5 638.0,546.7 639.0,546.8 640.0,547.0 641.0,547.2 642.0,547.4 643.0,547.6 644.0,547.8 645.0,548.0 646.0,548.1 647.0,548.3 648.0,548.5 649.0,548.6 650.0,548.8 651.0,548.9 652.0,549.1 653.0,549.2 654.0,549.3 655.0,549.5 656.0,549.6 657.0,549.7 658.0,549.8 659.0,549.9 660.0,550.0 661.0,550.1 662.0,550.2 663.0,550.2 664.0,550.3 665.0,550.4 666.0,550.5 667.0,550.5 668.0,550.6 669.0,550.6 670.0,550.7 671.0,550.8 672.0,550.8 673.0,550.9 674.0,550.9 675.0,551.0 676.0,551.0 677.0,551.1 678.0,551.1 679.0,551.2 680.0,551.2 681.0,551.3 682.0,551.3 683.0,551.4 684.0,551.4 685.0,551.5 686.0,551.5 687.0,551.6 688.0,551.6 689.0,551.7 690.0,551.7 691.0,551.8 692.0,551.8 693.0,551.9 694.0,551.9 695.0,552.0 696.0,552.0 697.0,552.1 698.0,552.2 699.0,552.2 700.0,552.3 701.0,552.3 702.0,552.4 703.0,552.5 704.0,552.5 705.0,552.6 706.0,552.7 707.0,552.8 708.0,552.8 709.0,552.9 710.0,553.0 711.0,553.1 712.0,553.2 713.0,553.3 714.0,553.3 715.0,553.4 716.0,553.5 717.0,553.6 718.0,553.7 719.0,553.8 720.0,554.0 721.0,554.1 722.0,554.2 723.0,554.3 724.0,554.4 725.0,554.6 726.0,554.7 727.0,554.8 728.0,555.0 729.0,555.1 730.0,555.2 731.0,555.4 732.0,555.5 733.0,555.7 734.0,555.8 735.0,556.0 736.0,556.1 737.0,556.3 738.0,556.4 739.0,556.6 740.0,556.7 741.0,556.9 742.0,557.1 743.0,557.2 744.0,557.4 745.0,557.5 746.0,557.7 747.0,557.8 748.0,558.0 749.0,558.1 750.0,558.3 751.0,558.4 752.0,558.6 753.0,558.7 754.0,558.8 755.0,559.0 756.0,559.1 757.0,559.2 758.0,559.4 759.0,559.5 760.0,559.6 761.0,559.7 762.0,559.8 763.0,559.9 764.0,560.0 765.0,560.1 766.0,560.2 767.0,560.3 768.0,560.4 769.0,560.4 770.0,560.5 771.0,560.6 772.0,560.6 773.0,560.7 774.0,560.7 775.0,560.7 776.0,560.8 777.0,560.8 778.0,560.8 779.0,560.8 780.0,560.8 781.0,560.8 782.0,560.7 783.0,560.7 784.0,560.7 785.0,560.6 786.0,560.5 787.0,560.5 788.0,560.4 789.0,560.3 790.0,560.2 791.0,560.1 792.0,560.0 793.0,559.8 794.0,559.7 795.0,559.5 796.0,559.3 797.0,559.2 798.0,559.0 799.0,558.8 800.0,558.5 801.0,558.3 802.0,558.1 803.0,557.8 804.0,557.6 805.0,557.3 806.0,557.0 807.0,556.7 808.0,556.4 809.0,556.1 810.0,555.8 811.0,555.5 812.0,555.2 813.0,554.9 814.0,554.6 815.0,554.3 816.0,554.0 817.0,553.6 818.0,553.3 819.0,553.0 820.0,552.7 821.0,552.4 822.0,552.1 823.0,551.8 824.0,551.5 825.0,551.2 826.0,550.9 827.0,550.6 828.0,550.4 829.0,550.1 830.0,549.8 831.0,549.6 832.0,549.4 833.0,549.2 834.0,549.0 835.0,548.8 836.0,548.6 837.0,548.4 838.0,548.3 839.0,548.1 840.0,548.0 841.0,547.9 842.0,547.9 843.0,547.8 844.0,547.8 845.0,547.7 846.0,547.7 847.0,547.8 848.0,547.8 849.0,547.9 850.0,547.9 851.0,548.0 852.0,548.1 853.0,548.2 854.0,548.4 855.0,548.5 856.0,548.6 857.0,548.8 858.0,549.0 859.0,549.1 860.0,549.3 861.0,549.5 862.0,549.6 863.0,549.8 864.0,550.0 865.0,550.1 866.0,550.3 867.0,550.5 868.0,550.6 869.0,550.8 870.0,550.9 871.0,551.0 872.0,551.1 873.0,551.2 874.0,551.3 875.0,551.4 876.0,551.5 877.0,551.5 878.0,551.5 879.0,551.5 880.0,551.5 881.0,551.4 882.0,551.4 883.0,551.3 884.0,551.2 885.0,551.0 886.0,550.9 887.0,550.7 888.0,550.5 889.0,550.3 890.0,550.0 891.0,549.8 892.0,549.5 893.0,549.3 894.0,549.0 895.0,548.7 896.0,548.5 897.0,548.2 898.0,547.9 899.0,547.6 900.0,547.3 901.0,547.0 902.0,546.7 903.0,546.5 904.0,546.2 905.0,545.9 906.0,545.7 907.0,545.4 908.0,545.2 909.0,545.0 910.0,544.8 911.0,544.6 912.0,544.4 913.0,544.2 914.0,544.1 915.0,544.0 916.0,543.9 917.0,543.8 918.0,543.8 919.0,543.7 920.0,543.7 921.0,543.6 922.0,543.6 923.0,543.6 924.0,543.7 925.0,543.7 926.0,543.7 927.0,543.8 928.0,543.8 929.0,543.9 930.0,543.9 931.0,544.0 932.0,544.1 933.0,544.2 934.0,544.3 935.0,544.4 936.0,544.4 937.0,544.5 938.0,544.6 939.0,544.7 940.0,544.8 941.0,544.9 942.0,545.0 943.0,545.1 944.0,545.2 945.0,545.3 946.0,545.4 947.0,545.5 948.0,545.6 949.0,545.6 950.0,545.7 951.0,545.7 952.0,545.8 953.0,545.8 954.0,545.9 955.0,545.9 956.0,545.9 957.0,545.9 958.0,545.9 959.0,545.8 960.0,545.8 961.0,545.7 962.0,545.6 963.0,545.5 964.0,545.4 965.0,545.3 966.0,545.2 967.0,545.0 968.0,544.8 969.0,544.6 970.0,544.4 971.0,544.2 972.0,544.0 973.0,543.7 974.0,543.5 975.0,543.2 976.0,542.9 977.0,542.6 978.0,542.3 979.0,542.0 980.0,541.7 981.0,541.4 982.0,541.1 983.0,540.8 984.0,540.5 985.0,540.2 986.0,539.9 987.0,539.6 988.0,539.3 989.0,539.0 990.0,538.7 991.0,538.4 992.0,538.1 993.0,537.8 994.0,537.5 995.0,537.3 996.0,537.0 997.0,536.8 998.0,536.6 999.0,536.4 1000.0,536.2 1001.0,536.0 1002.0,535.9 1003.0,535.7 1004.0,535.6 1005.0,535.5 1006.0,535.4 1007.0,535.3 1008.0,535.3 1009.0,535.3 1010.0,535.3 1011.0,535.3 1012.0,535.4 1013.0,535.5 1014.0,535.6 1015.0,535.8 1016.0,535.9 1017.0,536.1 1018.0,536.4 1019.0,536.6 1020.0,536.9 1021.0,537.2 1022.0,537.5 1023.0,537.8 1024.0,538.2 1025.0,538.5 1026.0,538.9 1027.0,539.3 1028.0,539.7 1029.0,540.1 1030.0,540.6 1031.0,541.0 1032.0,541.4 1033.0,541.9 1034.0,542.3 1035.0,542.8 1036.0,543.3 1037.0,543.7 1038.0,544.2 1039.0,544.6 1040.0,545.1 1041.0,545.6 1042.0,546.0 1043.0,546.5 1044.0,546.9 1045.0,547.3 1046.0,547.8 1047.0,548.2 1048.0,548.6 1049.0,549.0 1050.0,549.3 1051.0,549.7 1052.0,550.0 1053.0,550.3 1054.0,550.7 1055.0,550.9 1056.0,551.2 1057.0,551.4 1058.0,551.6 1059.0,551.8 1060.0,552.0 1061.0,552.1 1062.0,552.2 1063.0,552.3 1064.0,552.4 1065.0,552.4 1066.0,552.3 1067.0,552.3 1068.0,552.2 1069.0,552.1 1070.0,551.9 1071.0,551.7 1072.0,551.5 1073.0,551.3 1074.0,551.0 1075.0,550.8 1076.0,550.5 1077.0,550.1 1078.0,549.8 1079.0,549.5 1080.0,549.2 1081.0,548.8 1082.0,548.5 1083.0,548.1 1084.0,547.7 1085.0,547.4 1086.0,547.0 1087.0,546.7 1088.0,546.4 1089.0,546.1 1090.0,545.8 1091.0,545.5 1092.0,545.2 1093.0,544.9 1094.0,544.7 1095.0,544.5 1096.0,544.3 1097.0,544.2 1098.0,544.1 1099.0,544.0 1100.0,544.0 1101.0,543.9 1102.0,544.0 1103.0,544.0 1104.0,544.1 1105.0,544.3 1106.0,544.4 1107.0,544.6 1108.0,544.8 1109.0,545.0 1110.0,545.2 1111.0,545.5 1112.0,545.7 1113.0,546.0 1114.0,546.3 1115.0,546.6 1116.0,546.9 1117.0,547.1 1118.0,547.4 1119.0,547.7 1120.0,548.0 1121.0,548.3 1122.0,548.5 1123.0,548.8 1124.0,549.0 1125.0,549.2 1126.0,549.4 1127.0,549.5 1128.0,549.7 1129.0,549.8 1130.0,549.9 1131.0,550.0 1132.0,550.0 1133.0,550.0 1134.0,550.0 1135.0,550.0 1136.0,550.0 1137.0,549.9 1138.0,549.9 1139.0,549.8 1140.0,549.7 1141.0,549.5 1142.0,549.4 1143.0,549.2 1144.0,549.1 1145.0,548.9 1146.0,548.7 1147.0,548.5 1148.0,548.3 1149.0,548.0 1150.0,547.8 1151.0,547.5 1152.0,547.3 1153.0,547.0 1154.0,546.7 1155.0,546.4 1156.0,546.1 1157.0,545.8 1158.0,545.5 1159.0,545.2 1160.0,544.9 1161.0,544.6 1162.0,544.2 1163.0,543.9 1164.0,543.6 1165.0,543.3 1166.0,542.9 1167.0,542.6 1168.0,542.3 1169.0,541.9 1170.0,541.6 1171.0,541.3 1172.0,541.0 1173.0,540.7 1174.0,540.4 1175.0,540.1 1176.0,539.8 1177.0,539.5 1178.0,539.2 1179.0,538.9 1180.0,538.6 1181.0,538.4 1182.0,538.1 1183.0,537.9 1184.0,537.6 1185.0,537.4 1186.0,537.2 1187.0,537.0 1188.0,536.9 1189.0,536.7 1190.0,536.5 1191.0,536.4 1192.0,536.3 1192.9,536.2" fill="none" stroke="#FFFF00" stroke-width="4.3" stroke-linejoin="round" stroke-linecap="butt"/>
<path d="M262.0,554.4 263.0,555.0 264.0,555.5 265.0,556.0 266.0,556.5 267.0,557.0 268.0,557.4 269.0,557.8 270.0,558.1 271.0,558.4 272.0,558.7 273.0,559.0 274.0,559.3 275.0,559.5 276.0,559.7 277.0,559.8 278.0,560.0 279.0,560.1 280.0,560.2 281.0,560.2 282.0,560.3 283.0,560.3 284.0,560.3 285.0,560.3 286.0,560.3 287.0,560.3 288.0,560.2 289.0,560.2 290.0,560.1 291.0,560.0 292.0,559.9 293.0,559.8 294.0,559.7 295.0,559.5 296.0,559.4 297.0,559.2 298.0,559.1 299.0,558.9 300.0,558.8 301.0,558.6 302.0,558.4 303.0,558.3 304.0,558.1 305.0,557.9 306.0,557.7 307.0,557.6 308.0,557.4 309.0,557.3 310.0,557.1 311.0,557.0 312.0,556.8 313.0,556.7 314.0,556.6 315.0,556.5 316.0,556.4 317.0,556.3 318.0,556.2 319.0,556.2 320.0,556.2 321.0,556.2 322.0,556.2 323.0,556.2 324.0,556.3 325.0,556.4 326.0,556.5 327.0,556.7 328.0,556.8 329.0,557.0 330.0,557.2 331.0,557.4 332.0,557.5 333.0,557.7 334.0,557.9 335.0,558.1 336.0,558.2 337.0,558.3 338.0,558.4 339.0,558.4 340.0,558.4 341.0,558.4 342.0,558.3 343.0,558.2 344.0,558.0 345.0,557.8 346.0,557.6 347.0,557.3 348.0,557.0 349.0,556.6 350.0,556.3 351.0,555.9 352.0,555.4 353.0,555.0 354.0,554.6 355.0,554.1 356.0,553.7 357.0,553.2 358.0,552.7 359.0,552.3 360.0,551.8 361.0,551.3 362.0,550.9 363.0,550.5 364.0,550.0 365.0,549.6 366.0,549.3 367.0,548.9 368.0,548.6 369.0,548.3 370.0,548.0 371.0,547.8 372.0,547.6 373.0,547.4 374.0,547.3 375.0,547.2 376.0,547.2 377.0,547.2 378.0,547.2 379.0,547.2 380.0,547.3 381.0,547.3 382.0,547.5 383.0,547.6 384.0,547.7 385.0,547.8 386.0,548.0 387.0,548.2 388.0,548.3 389.0,548.5 390.0,548.7 391.0,548.8 392.0,549.0 393.0,549.2 394.0,549.3 395.0,549.4 396.0,549.6 397.0,549.7 398.0,549.8 399.0,549.8 400.0,549.9 401.0,549.9 402.0,549.9 403.0,549.9 404.0,549.8 405.0,549.7 406.0,549.6 407.0,549.5 408.0,549.3 409.0,549.2 410.0,549.0 411.0,548.8 412.0,548.7 413.0,548.5 414.0,548.3 415.0,548.2 416.0,548.0 417.0,547.9 418.0,547.7 419.0,547.6 420.0,547.5 421.0,547.4 422.0,547.4 423.0,547.4 424.0,547.4 425.0,547.4 426.0,547.5 427.0,547.7 428.0,547.8 429.0,548.0 430.0,548.2 431.0,548.5 432.0,548.7 433.0,549.0 434.0,549.3 435.0,549.6 436.0,549.9 437.0,550.2 438.0,550.5 439.0,550.8 440.0,551.2 441.0,551.5 442.0,551.8 443.0,552.1 444.0,552.3 445.0,552.6 446.0,552.8 447.0,553.0 448.0,553.2 449.0,553.4 450.0,553.5 451.0,553.6 452.0,553.6 453.0,553.6 454.0,553.6 455.0,553.5 456.0,553.4 457.0,553.3 458.0,553.1 459.0,552.9 460.0,552.6 461.0,552.4 462.0,552.1 463.0,551.8 464.0,551.4 465.0,551.1 466.0,550.7 467.0,550.3 468.0,549.9 469.0,549.5 470.0,549.1 471.0,548.7 472.0,548.3 473.0,547.9 474.0,547.4 475.0,547.0 476.0,546.6 477.0,546.2 478.0,545.7 479.0,545.3 480.0,544.9 481.0,544.6 482.0,544.2 483.0,543.8 484.0,543.5 485.0,543.2 486.0,542.9 487.0,542.7 488.0,542.4 489.0,542.2 490.0,542.0 491.0,541.9 492.0,541.8 493.0,541.7 494.0,541.6 495.0,541.5 496.0,541.5 497.0,541.5 498.0,541.5 499.0,541.5 500.0,541.6 501.0,541.6 502.0,541.7 503.0,541.8 504.0,541.9 505.0,542.0 506.0,542.1 507.0,542.2 508.0,542.3 509.0,542.4 510.0,542.5 511.0,542.7 512.0,542.8 513.0,542.9 514.0,543.0 515.0,543.1 516.0,543.3 517.0,543.4 518.0,543.5 519.0,543.6 520.0,543.7 521.0,543.8 522.0,543.9 523.0,544.0 524.0,544.2 525.0,544.3 526.0,544.4 527.0,544.6 528.0,544.7 529.0,544.9 530.0,545.1 531.0,545.2 532.0,545.4 533.0,545.6 534.0,545.8 535.0,546.0 536.0,546.2 537.0,546.4 538.0,546.6 539.0,546.8 540.0,547.0 541.0,547.2 542.0,547.5 543.0,547.7 544.0,547.9 545.0,548.1 546.0,548.4 547.0,548.6 548.0,548.8 549.0,549.0 550.0,549.3 551.0,549.5 552.0,549.7 553.0,549.9 554.0,550.1 555.0,550.4 556.0,550.6 557.0,550.8 558.0,551.0 559.0,551.2 560.0,551.4 561.0,551.6 562.0,551.8 563.0,551.9 564.0,552.1 565.0,552.3 566.0,552.4 567.0,552.6 568.0,552.7 569.0,552.8 570.0,553.0 571.0,553.1 572.0,553.2 573.0,553.3 574.0,553.4 575.0,553.5 576.0,553.5 577.0,553.6 578.0,553.6 579.0,553.6 580.0,553.7 581.0,553.7 582.0,553.6 583.0,553.6 584.0,553.6 585.0,553.5 586.0,553.5 587.0,553.4 588.0,553.3 589.0,553.1 590.0,553.0 591.0,552.9 592.0,552.7 593.0,552.6 594.0,552.4 595.0,552.2 596.0,552.0 597.0,551.8 598.0,551.6 599.0,551.4 600.0,551.1 601.0,550.9 602.0,550.7 603.0,550.5 604.0,550.2 605.0,550.0 606.0,549.8 607.0,549.5 608.0,549.3 609.0,549.1 610.0,548.8 611.0,548.6 612.0,548.4 613.0,548.2 614.0,548.0 615.0,547.8 616.0,547.6 617.0,547.5 618.0,547.3 619.0,547.1 620.0,547.0 621.0,546.9 622.0,546.8 623.0,546.7 624.0,546.6 625.0,546.5 626.0,546.5 627.0,546.4 628.0,546.4 629.0,546.4 630.0,546.5 631.0,546.5 632.0,546.6 633.0,546.7 634.0,546.8 635.0,547.0 636.0,547.1 637.0,547.3 638.0,547.5 639.0,547.8 640.0,548.0 641.0,548.3 642.0,548.5 643.0,548.8 644.0,549.1 645.0,549.3 646.0,549.6 647.0,549.9 648.0,550.2 649.0,550.4 650.0,550.7 651.0,550.9 652.0,551.2 653.0,551.4 654.0,551.6 655.0,551.9 656.0,552.1 657.0,552.2 658.0,552.4 659.0,552.6 660.0,552.8 661.0,552.9 662.0,553.0 663.0,553.2 664.0,553.3 665.0,553.4 666.0,553.5 667.0,553.5 668.0,553.6 669.0,553.6 670.0,553.7 671.0,553.7 672.0,553.7 673.0,553.7 674.0,553.6 675.0,553.6 676.0,553.5 677.0,553.5 678.0,553.4 679.0,553.3 680.0,553.2 681.0,553.1 682.0,552.9 683.0,552.8 684.0,552.7 685.0,552.5 686.0,552.4 687.0,552.2 688.0,552.1 689.0,551.9 690.0,551.8 691.0,551.7 692.0,551.5 693.0,551.4 694.0,551.3 695.0,551.1 696.0,551.0 697.0,550.9 698.0,550.8 699.0,550.8 700.0,550.7 701.0,550.7 702.0,550.6 703.0,550.6 704.0,550.6 705.0,550.6 706.0,550.6 707.0,550.7 708.0,550.7 709.0,550.8 710.0,550.8 711.0,550.9 712.0,551.0 713.0,551.1 714.0,551.2 715.0,551.3 716.0,551.4 717.0,551.5 718.0,551.7 719.0,551.8 720.0,552.0 721.0,552.1 722.0,552.3 723.0,552.4 724.0,552.6 725.0,552.8 726.0,553.0 727.0,553.2 728.0,553.3 729.0,553.5 730.0,553.7 731.0,553.9 732.0,554.1 733.0,554.3 734.0,554.5 735.0,554.7 736.0,554.9 737.0,555.1 738.0,555.3 739.0,555.5 740.0,555.7 741.0,555.9 742.0,556.1 743.0,556.3 744.0,556.5 745.0,556.7 746.0,556.9 747.0,557.0 748.0,557.2 749.0,557.4 750.0,557.6 751.0,557.7 752.0,557.9 753.0,558.0 754.0,558.1 755.0,558.3 756.0,558.4 757.0,558.5 758.0,558.6 759.0,558.7 760.0,558.8 761.0,558.9 762.0,559.0 763.0,559.0 764.0,559.1 765.0,559.1 766.0,559.1 767.0,559.1 768.0,559.1 769.0,559.1 770.0,559.1 771.0,559.0 772.0,559.0 773.0,558.9 774.0,558.8 775.0,558.7 776.0,558.6 777.0,558.5 778.0,558.4 779.0,558.2 780.0,558.1 781.0,557.9 782.0,557.7 783.0,557.5 784.0,557.3 785.0,557.1 786.0,556.9 787.0,556.7 788.0,556.5 789.0,556.2 790.0,556.0 791.0,555.7 792.0,555.5 793.0,555.2 794.0,555.0 795.0,554.7 796.0,554.5 797.0,554.2 798.0,553.9 799.0,553.7 800.0,553.4 801.0,553.2 802.0,552.9 803.0,552.6 804.0,552.4 805.0,552.1 806.0,551.9 807.0,551.6 808.0,551.4 809.0,551.1 810.0,550.9 811.0,550.7 812.0,550.5 813.0,550.2 814.0,550.0 815.0,549.8 816.0,549.7 817.0,549.5 818.0,549.3 819.0,549.2 820.0,549.0 821.0,548.9 822.0,548.7 823.0,548.6 824.0,548.5 825.0,548.5 826.0,548.4 827.0,548.3 828.0,548.3 829.0,548.2 830.0,548.2 831.0,548.2 832.0,548.2 833.0,548.2 834.0,548.2 835.0,548.3 836.0,548.3 837.0,548.3 838.0,548.4 839.0,548.5 840.0,548.5 841.0,548.6 842.0,548.7 843.0,548.8 844.0,548.9 845.0,548.9 846.0,549.0 847.0,549.2 848.0,549.3 849.0,549.4 850.0,549.5 851.0,549.6 852.0,549.7 853.0,549.8 854.0,550.0 855.0,550.1 856.0,550.2 857.0,550.3 858.0,550.4 859.0,550.6 860.0,550.7 861.0,550.8 862.0,550.9 863.0,551.0 864.0,551.1 865.0,551.2 866.0,551.3 867.0,551.4 868.0,551.5 869.0,551.6 870.0,551.7 871.0,551.8 872.0,551.8 873.0,551.9 874.0,552.0 875.0,552.0 876.0,552.1 877.0,552.1 878.0,552.1 879.0,552.1 880.0,552.1 881.0,552.1 882.0,552.1 883.0,552.1 884.0,552.0 885.0,552.0 886.0,551.9 887.0,551.8 888.0,551.8 889.0,551.7 890.0,551.6 891.0,551.5 892.0,551.3 893.0,551.2 894.0,551.1 895.0,551.0 896.0,550.8 897.0,550.7 898.0,550.5 899.0,550.4 900.0,550.2 901.0,550.1 902.0,549.9 903.0,549.7 904.0,549.5 905.0,549.4 906.0,549.2 907.0,549.0 908.0,548.8 909.0,548.6 910.0,548.5 911.0,548.3 912.0,548.1 913.0,547.9 914.0,547.7 915.0,547.6 916.0,547.4 917.0,547.2 918.0,547.0 919.0,546.9 920.0,546.7 921.0,546.5 922.0,546.4 923.0,546.2 924.0,546.0 925.0,545.9 926.0,545.8 927.0,545.6 928.0,545.5 929.0,545.4 930.0,545.3 931.0,545.1 932.0,545.0 933.0,545.0 934.0,544.9 935.0,544.8 936.0,544.7 937.0,544.7 938.0,544.6 939.0,544.6 940.0,544.6 941.0,544.5 942.0,544.5 943.0,544.5 944.0,544.5 945.0,544.5 946.0,544.5 947.0,544.6 948.0,544.6 949.0,544.6 950.0,544.6 951.0,544.7 952.0,544.7 953.0,544.7 954.0,544.8 955.0,544.8 956.0,544.9 957.0,544.9 958.0,544.9 959.0,545.0 960.0,545.0 961.0,545.0 962.0,545.1 963.0,545.1 964.0,545.1 965.0,545.1 966.0,545.1 967.0,545.2 968.0,545.1 969.0,545.1 970.0,545.1 971.0,545.1 972.0,545.1 973.0,545.0 974.0,545.0 975.0,544.9 976.0,544.8 977.0,544.8 978.0,544.7 979.0,544.5 980.0,544.4 981.0,544.3 982.0,544.1 983.0,544.0 984.0,543.8 985.0,543.6 986.0,543.4 987.0,543.2 988.0,542.9 989.0,542.7 990.0,542.4 991.0,542.1 992.0,541.8 993.0,541.5 994.0,541.2 995.0,540.9 996.0,540.7 997.0,540.4 998.0,540.1 999.0,539.9 1000.0,539.6 1001.0,539.4 1002.0,539.2 1003.0,539.0 1004.0,538.9 1005.0,538.7 1006.0,538.7 1007.0,538.6 1008.0,538.6 1009.0,538.6 1010.0,538.6 1011.0,538.7 1012.0,538.8 1013.0,539.0 1014.0,539.1 1015.0,539.3 1016.0,539.5 1017.0,539.8 1018.0,540.1 1019.0,540.4 1020.0,540.7 1021.0,541.0 1022.0,541.4 1023.0,541.7 1024.0,542.1 1025.0,542.5 1026.0,542.9 1027.0,543.3 1028.0,543.8 1029.0,544.2 1030.0,544.6 1031.0,545.1 1032.0,545.5 1033.0,546.0 1034.0,546.5 1035.0,546.9 1036.0,547.4 1037.0,547.8 1038.0,548.3 1039.0,548.7 1040.0,549.2 1041.0,549.6 1042.0,550.0 1043.0,550.5 1044.0,550.9 1045.0,551.3 1046.0,551.6 1047.0,552.0 1048.0,552.3 1049.0,552.7 1050.0,553.0 1051.0,553.3 1052.0,553.5 1053.0,553.8 1054.0,554.0 1055.0,554.2 1056.0,554.3 1057.0,554.5 1058.0,554.6 1059.0,554.6 1060.0,554.7 1061.0,554.7 1062.0,554.6 1063.0,554.6 1064.0,554.4 1065.0,554.3 1066.0,554.1 1067.0,553.9 1068.0,553.6 1069.0,553.3 1070.0,552.9 1071.0,552.5 1072.0,552.1 1073.0,551.7 1074.0,551.2 1075.0,550.7 1076.0,550.2 1077.0,549.7 1078.0,549.2 1079.0,548.6 1080.0,548.1 1081.0,547.5 1082.0,547.0 1083.0,546.4 1084.0,545.9 1085.0,545.3 1086.0,544.8 1087.0,544.3 1088.0,543.8 1089.0,543.3 1090.0,542.9 1091.0,542.4 1092.0,542.1 1093.0,541.7 1094.0,541.4 1095.0,541.1 1096.0,540.8 1097.0,540.6 1098.0,540.5 1099.0,540.4 1100.0,540.4 1101.0,540.4 1102.0,540.4 1103.0,540.5 1104.0,540.7 1105.0,540.9 1106.0,541.1 1107.0,541.4 1108.0,541.7 1109.0,542.1 1110.0,542.4 1111.0,542.8 1112.0,543.2 1113.0,543.6 1114.0,544.0 1115.0,544.4 1116.0,544.8 1117.0,545.2 1118.0,545.6 1119.0,546.0 1120.0,546.4 1121.0,546.8 1122.0,547.1 1123.0,547.4 1124.0,547.7 1125.0,547.9 1126.0,548.2 1127.0,548.3 1128.0,548.4 1129.0,548.5 1130.0,548.6 1131.0,548.6 1132.0,548.6 1133.0,548.5 1134.0,548.5 1135.0,548.4 1136.0,548.3 1137.0,548.2 1138.0,548.1 1139.0,548.0 1140.0,547.8 1141.0,547.7 1142.0,547.6 1143.0,547.5 1144.0,547.5 1145.0,547.4 1146.0,547.4 1147.0,547.4 1148.0,547.4 1149.0,547.5 1150.0,547.5 1151.0,547.6 1152.0,547.8 1153.0,547.9 1154.0,548.1 1155.0,548.2 1156.0,548.4 1157.0,548.6 1158.0,548.8 1159.0,549.0 1160.0,549.2 1161.0,549.4 1162.0,549.6 1163.0,549.7 1164.0,549.9 1165.0,550.1 1166.0,550.2 1167.0,550.4 1168.0,550.5 1169.0,550.6 1170.0,550.6 1171.0,550.7 1172.0,550.7 1173.0,550.7 1174.0,550.6 1175.0,550.5 1176.0,550.4 1177.0,550.2 1178.0,550.0 1179.0,549.8 1180.0,549.5 1181.0,549.1 1182.0,548.7 1183.0,548.3 1184.0,547.8 1185.0,547.2 1186.0,546.5 1187.0,545.8 1188.0,545.1 1189.0,544.2 1190.0,543.3 1191.0,542.3 1192.0,541.3 1192.9,540.2" fill="none" stroke="#808000" stroke-width="4.6" stroke-linejoin="round" stroke-linecap="butt"/>
<text transform="translate(365.00,1083.00) scale(1,1.034)" text-anchor="middle">400</text>
<text transform="translate(572.00,1083.00) scale(1,1.034)" text-anchor="middle">500</text>
<text transform="translate(779.00,1083.00) scale(1,1.034)" text-anchor="middle">600</text>
<text transform="translate(986.00,1083.00) scale(1,1.034)" text-anchor="middle">700</text>
<text transform="translate(1193.00,1083.00) scale(1,1.034)" text-anchor="middle">800</text>
<text transform="translate(233.50,86.50) scale(1,1.034)" text-anchor="end">0.10</text>
<text transform="translate(233.50,331.50) scale(1,1.034)" text-anchor="end">0.05</text>
<text transform="translate(233.50,576.50) scale(1,1.034)" text-anchor="end">0.00</text>
<text transform="translate(233.50,821.50) scale(1,1.034)" text-anchor="end">-0.05</text>
<text x="479" y="1172">Wavelength / nm</text>
<text transform="translate(80.7,626) rotate(-90) scale(1,1.034)"><tspan font-family="'Liberation Serif', 'Times New Roman', serif" font-size="67">&#916;</tspan><tspan dx="19">O.D.</tspan></text>
<text transform="translate(1059,187.5) scale(0.946,1)" font-size="125">a</text>
<text transform="translate(845.00,660.00) scale(1,1.034)">37.32 <tspan x="199.89999999999986" font-family="'Noto Serif CJK SC', 'Liberation Serif', serif" font-size="61">&#956;</tspan><tspan x="239.5">s</tspan></text>
<text x="842.5" y="750.3">...</text>
<text transform="translate(845.00,842.00) scale(1,1.034)">5.33 <tspan x="160.29999999999995" font-family="'Noto Serif CJK SC', 'Liberation Serif', serif" font-size="61">&#956;</tspan><tspan x="203.0999999999999">s</tspan></text>
<text transform="translate(845.00,934.00) scale(1,1.034)">0 <tspan x="58.69999999999993" font-family="'Noto Serif CJK SC', 'Liberation Serif', serif" font-size="61">&#956;</tspan><tspan x="99.0">s</tspan></text>
<path d="M537,103L538.2,209.5" stroke="#000" stroke-width="2.2" fill="none"/><path d="M538.5,231.5L531.5,209.6L545.0,209.4Z" fill="#000"/>
<path d="M947.6,171L948.8,293.5" stroke="#000" stroke-width="2.2" fill="none"/><path d="M949,315.5L942.0,293.6L955.5,293.4Z" fill="#000"/>
<path d="M829,948L828.4,814.5" stroke="#000" stroke-width="2.2" fill="none"/><path d="M828.3,792.5L835.1,814.5L821.6,814.5Z" fill="#000"/>
<rect x="1460" y="65" width="930.5" height="927.5" fill="none" stroke="#000" stroke-width="3.0"/>
<path d="M1460.0,992.5v17 M1460.0,65v17 M1599.6,992.5v9 M1599.6,65v9 M1739.2,992.5v17 M1739.2,65v17 M1878.7,992.5v9 M1878.7,65v9 M2018.3,992.5v17 M2018.3,65v17 M2157.9,992.5v9 M2157.9,65v9 M2297.4,992.5v17 M2297.4,65v17 M1460,964.3h-17 M2390.5,964.3h-17 M1460,791.0h-9 M2390.5,791.0h-9 M1460,617.8h-17 M2390.5,617.8h-17 M1460,444.5h-9 M2390.5,444.5h-9 M1460,271.3h-17 M2390.5,271.3h-17 M1460,98.0h-9 M2390.5,98.0h-9" stroke="#000" stroke-width="3.0" fill="none" stroke-linecap="round"/>
<path d="M1460.0,964.3 1460.1,962.5 1460.2,965.9 1460.3,969.5 1460.4,967.0 1460.5,970.1 1460.6,963.9 1460.7,956.4 1460.7,967.2 1460.8,968.0 1460.9,961.4 1461.0,962.2 1461.1,963.7 1461.2,969.8 1461.3,964.5 1461.4,960.2 1461.5,972.2 1461.6,967.0 1461.7,975.5 1461.8,971.9 1461.9,975.1 1462.0,965.7 1462.0,971.8 1462.1,962.7 1462.2,963.4 1462.3,965.4 1462.4,979.1 1462.5,967.5 1462.6,964.6 1462.7,963.6 1462.8,973.3 1462.9,967.1 1463.0,970.1 1463.1,969.1 1463.2,958.1 1463.3,969.1 1463.4,964.5 1463.4,959.1 1463.5,967.7 1463.6,965.0 1463.7,963.6 1463.8,963.9 1463.9,971.5 1464.0,963.9 1464.1,956.3 1464.2,973.4 1464.3,959.2 1464.4,963.6 1464.5,968.1 1464.6,952.5 1464.7,959.8 1464.7,971.4 1464.8,963.9 1464.9,960.9 1465.0,965.4 1465.1,960.3 1465.2,964.7 1465.3,960.4 1465.4,955.8 1465.5,968.3 1465.6,963.1 1465.7,967.0 1465.8,963.6 1465.9,971.3 1466.0,967.7 1466.0,965.5 1466.1,959.0 1466.2,957.6 1466.3,972.1 1466.4,969.0 1466.5,960.5 1466.6,976.0 1466.7,967.0 1466.8,964.9 1466.9,956.9 1467.0,960.2 1467.1,966.2 1467.2,966.5 1467.3,965.8 1467.4,955.3 1467.4,966.8 1467.5,966.1 1467.6,962.2 1467.7,965.0 1467.8,965.5 1467.9,970.9 1468.0,964.4 1468.1,966.9 1468.2,957.4 1468.3,960.5 1468.4,964.4 1468.5,960.4 1468.6,966.3 1468.7,958.1 1468.7,964.3 1468.8,960.9 1468.9,971.9 1469.0,962.3 1469.1,974.2 1469.2,976.3 1469.3,966.1 1469.4,969.6 1469.5,963.3 1469.6,951.1 1469.7,969.2 1469.8,968.0 1469.9,963.1 1470.0,961.4 1470.1,965.3 1470.1,965.5 1470.2,960.2 1470.3,961.2 1470.4,970.4 1470.5,964.8 1470.6,964.1 1470.7,970.5 1470.8,962.8 1470.9,969.4 1471.0,958.6 1471.1,963.2 1471.2,963.8 1471.3,967.8 1471.4,965.0 1471.4,976.1 1471.5,971.0 1471.6,962.2 1471.7,976.8 1471.8,959.3 1471.9,974.6 1472.0,959.8 1472.1,969.3 1472.2,959.7 1472.3,963.5 1472.4,973.4 1472.5,956.9 1472.6,955.8 1472.7,964.7 1472.7,965.9 1472.8,965.2 1472.9,970.0 1473.0,957.8 1473.1,967.5 1473.2,964.6 1473.3,969.0 1473.4,968.0 1473.5,971.8 1473.6,956.9 1473.7,965.2 1473.8,958.6 1473.9,964.2 1474.0,968.4 1474.1,966.2 1474.1,967.6 1474.2,964.3 1474.3,966.5 1474.4,966.1 1474.5,972.4 1474.6,969.1 1474.7,954.6 1474.8,968.3 1474.9,970.5 1475.0,962.3 1475.1,956.0 1475.2,972.9 1475.3,965.5 1475.4,968.0 1475.4,974.7 1475.5,960.0 1475.6,964.4 1475.7,963.9 1475.8,968.7 1475.9,961.6 1476.0,967.5 1476.1,965.1 1476.2,970.8 1476.3,971.5 1476.4,956.4 1476.5,967.3 1476.6,962.6 1476.7,964.5 1476.8,966.9 1476.8,967.3 1476.9,960.6 1477.0,966.1 1477.1,965.2 1477.2,964.2 1477.3,957.4 1477.4,960.3 1477.5,962.0 1477.6,967.6 1477.7,972.4 1477.8,958.7 1477.9,958.6 1478.0,965.1 1478.1,961.1 1478.1,959.7 1478.2,959.4 1478.3,958.9 1478.4,967.0 1478.5,955.4 1478.6,971.6 1478.7,959.2 1478.8,961.4 1478.9,959.2 1479.0,953.2 1479.1,955.6 1479.2,971.0 1479.3,974.2 1479.4,959.5 1479.4,970.3 1479.5,964.4 1479.6,959.4 1479.7,974.0 1479.8,976.7 1479.9,962.8 1480.0,964.0 1480.1,965.7 1480.2,964.1 1480.3,969.4 1480.4,973.2 1480.5,965.3 1480.6,970.0 1480.7,974.0 1480.8,961.3 1480.8,964.7 1480.9,961.9 1481.0,970.1 1481.1,968.2 1481.2,970.2 1481.3,969.5 1481.4,963.1 1481.5,968.9 1481.6,962.2 1481.7,962.3 1481.8,952.4 1481.9,972.5 1482.0,959.1 1482.1,964.8 1482.1,964.4 1482.2,972.8 1482.3,967.0 1482.4,959.9 1482.5,964.8 1482.6,963.8 1482.7,966.0 1482.8,957.5 1482.9,964.4 1483.0,977.3 1483.1,968.4 1483.2,975.9 1483.3,983.5 1483.4,967.4 1483.5,956.4 1483.5,964.0 1483.6,971.2 1483.7,969.8 1483.8,957.6 1483.9,963.4 1484.0,964.0 1484.1,964.6 1484.2,964.1 1484.3,959.6 1484.4,961.0 1484.5,963.0 1484.6,970.4 1484.7,961.3 1484.8,968.3 1484.8,957.9 1484.9,971.8 1485.0,965.1 1485.1,964.3 1485.2,972.1 1485.3,954.2 1485.4,955.7 1485.5,967.0 1485.6,959.8 1485.7,962.1 1485.8,979.7 1485.9,962.8 1486.0,964.7 1486.1,963.8 1486.1,970.6 1486.2,965.9 1486.3,965.4 1486.4,957.3 1486.5,962.3 1486.6,964.3 1486.7,955.3 1486.8,967.6 1486.9,966.6 1487.0,975.0 1487.1,955.1 1487.2,958.6 1487.3,958.9 1487.4,960.4 1487.5,963.7 1487.5,963.0 1487.6,965.8 1487.7,965.5 1487.8,964.0 1487.9,955.4 1488.0,961.0 1488.1,964.6 1488.2,967.7 1488.3,968.0 1488.4,954.9 1488.5,961.3 1488.6,963.9 1488.7,966.3 1488.8,970.8 1488.8,964.7 1488.9,959.2 1489.0,966.6 1489.1,965.6 1489.2,965.6 1489.3,963.7 1489.4,973.7 1489.5,965.7 1489.6,969.3 1489.7,959.1 1489.8,968.8 1489.9,960.9 1490.0,955.3 1490.1,966.1 1490.2,967.8 1490.2,963.2 1490.3,964.3 1490.4,970.2 1490.5,961.6 1490.6,952.4 1490.7,965.8 1490.8,965.5 1490.9,970.5 1491.0,962.4 1491.1,971.6 1491.2,970.8 1491.3,956.8 1491.4,969.6 1491.5,957.9 1491.5,955.3 1491.6,962.8 1491.7,961.0 1491.8,952.8 1491.9,965.5 1492.0,967.8 1492.1,972.3 1492.2,964.1 1492.3,955.6 1492.4,958.6 1492.5,969.8 1492.6,969.3 1492.7,967.3 1492.8,962.6 1492.8,965.5 1492.9,963.0 1493.0,962.6 1493.1,966.1 1493.2,964.5 1493.3,963.1 1493.4,964.8 1493.5,961.3 1493.6,953.3 1493.7,960.8 1493.8,964.0 1493.9,974.2 1494.0,962.0 1494.1,975.8 1494.2,972.6 1494.2,959.3 1494.3,960.1 1494.4,965.2 1494.5,974.4 1494.6,966.5 1494.7,968.3 1494.8,960.5 1494.9,951.0 1495.0,963.0 1495.1,968.9 1495.2,971.2 1495.3,964.6 1495.4,965.3 1495.5,971.1 1495.5,963.6 1495.6,971.1 1495.7,957.7 1495.8,958.0 1495.9,957.9 1496.0,967.1 1496.1,961.3 1496.2,965.1 1496.3,966.6 1496.4,966.3 1496.5,972.0 1496.6,972.8 1496.7,959.6 1496.8,965.4 1496.9,963.0 1496.9,958.4 1497.0,974.5 1497.1,968.9 1497.2,963.3 1497.3,962.0 1497.4,966.5 1497.5,958.2 1497.6,963.1 1497.7,971.4 1497.8,969.8 1497.9,959.6 1498.0,961.6 1498.1,975.5 1498.2,956.4 1498.2,960.8 1498.3,956.4 1498.4,966.6 1498.5,966.0 1498.6,970.9 1498.7,949.4 1498.8,965.3 1498.9,954.9 1499.0,968.1 1499.1,963.3 1499.2,974.1 1499.3,966.6 1499.4,958.5 1499.5,971.7 1499.6,958.0 1499.6,962.3 1499.7,970.4 1499.8,967.3 1499.9,967.0 1500.0,964.6 1500.1,967.5 1500.2,969.2 1500.3,966.1 1500.4,970.3 1500.5,971.9 1500.6,964.6 1500.7,959.1 1500.8,973.3 1500.9,964.3 1500.9,968.1 1501.0,970.1 1501.1,959.3 1501.2,967.4 1501.3,955.5 1501.4,968.9 1501.5,962.0 1501.6,965.6 1501.7,968.7 1501.8,960.8 1501.9,965.2 1502.0,960.7 1502.1,964.6 1502.2,970.7 1502.2,964.9 1502.3,964.0 1502.4,958.7 1502.5,969.6 1502.6,964.5 1502.7,974.4 1502.8,960.5 1502.9,970.7 1503.0,974.9 1503.1,964.6 1503.2,957.8 1503.3,973.3 1503.4,970.7 1503.5,968.7 1503.6,971.0 1503.6,962.1 1503.7,969.1 1503.8,968.6 1503.9,960.9 1504.0,968.8 1504.1,961.8 1504.2,970.0 1504.3,971.4 1504.4,975.1 1504.5,953.3 1504.6,966.2 1504.7,962.9 1504.8,964.5 1504.9,963.4 1504.9,964.0 1505.0,953.1 1505.1,970.4 1505.2,973.5 1505.3,970.3 1505.4,972.2 1505.5,959.9 1505.6,959.5 1505.7,970.0 1505.8,972.5 1505.9,966.4 1506.0,956.1 1506.1,980.9 1506.2,961.2 1506.3,970.6 1506.3,958.2 1506.4,970.6 1506.5,966.0 1506.6,973.2 1506.7,970.1 1506.8,956.1 1506.9,959.5 1507.0,966.7 1507.1,969.4 1507.2,975.5 1507.3,966.6 1507.4,964.5 1507.5,964.8 1507.6,964.9 1507.6,970.9 1507.7,964.7 1507.8,964.5 1507.9,956.7 1508.0,953.3 1508.1,965.1 1508.2,968.8 1508.3,964.7 1508.4,967.9 1508.5,968.7 1508.6,964.6 1508.7,970.4 1508.8,960.7 1508.9,964.9 1508.9,962.8 1509.0,965.4 1509.1,968.6 1509.2,969.9 1509.3,965.7 1509.4,967.5 1509.5,962.9 1509.6,964.3 1509.7,972.3 1509.8,963.9 1509.9,972.2 1510.0,967.9 1510.1,966.0 1510.2,976.5 1510.3,963.8 1510.3,963.4 1510.4,965.2 1510.5,966.8 1510.6,966.5 1510.7,970.1 1510.8,965.9 1510.9,967.6 1511.0,963.8 1511.1,971.4 1511.2,962.9 1511.3,963.5 1511.4,965.1 1511.5,966.9 1511.6,961.0 1511.6,974.1 1511.7,961.6 1511.8,962.9 1511.9,962.6 1512.0,962.0 1512.1,968.2 1512.2,965.8 1512.3,960.5 1512.4,961.8 1512.5,963.1 1512.6,973.2 1512.7,961.1 1512.8,957.4 1512.9,958.4 1513.0,962.9 1513.0,973.5 1513.1,958.7 1513.2,965.2 1513.3,979.2 1513.4,962.1 1513.5,973.1 1513.6,971.9 1513.7,968.0 1513.8,956.8 1513.9,966.5 1514.0,962.7 1514.1,954.0 1514.2,954.9 1514.3,964.9 1514.3,965.7 1514.4,971.7 1514.5,968.4 1514.6,961.8 1514.7,962.0 1514.8,963.7 1514.9,958.4 1515.0,968.8 1515.1,964.6 1515.2,960.0 1515.3,960.9 1515.4,958.0 1515.5,962.0 1515.6,966.1 1515.6,962.2 1515.7,970.2 1515.8,974.0 1515.9,960.9 1516.0,964.6 1516.1,962.5 1516.2,974.3 1516.3,966.5 1516.4,967.8 1516.5,969.4 1516.6,977.6 1516.7,966.3 1516.8,959.0 1516.9,962.1 1517.0,967.8 1517.0,964.4 1517.1,959.8 1517.2,980.6 1517.3,965.0 1517.4,961.1 1517.5,960.3 1517.6,954.3 1517.7,957.6 1517.8,962.5 1517.9,962.5 1518.0,959.7 1518.1,967.5 1518.2,964.5 1518.3,959.0 1518.3,952.8 1518.4,965.2 1518.5,964.6 1518.6,963.1 1518.7,956.4 1518.8,964.5 1518.9,955.6 1519.0,970.0 1519.1,965.4 1519.2,965.5 1519.3,959.7 1519.4,958.1 1519.5,973.2 1519.6,969.7 1519.7,962.3 1519.7,968.2 1519.8,973.3 1519.9,958.2 1520.0,961.4 1520.1,961.4 1520.2,967.1 1520.3,958.2 1520.4,965.7 1520.5,957.8 1520.6,969.7 1520.7,969.3 1520.8,963.1 1520.9,968.4 1521.0,960.3 1521.0,962.8 1521.1,969.7 1521.2,963.9 1521.3,966.4 1521.4,958.9 1521.5,968.0 1521.6,966.9 1521.7,957.2 1521.8,951.1 1521.9,952.5 1522.0,963.9 1522.1,963.0 1522.2,955.3 1522.3,965.0 1522.3,970.1 1522.4,963.6 1522.5,961.6 1522.6,969.2 1522.7,974.0 1522.8,972.8 1522.9,960.4 1523.0,968.8 1523.1,965.1 1523.2,963.0 1523.3,960.7 1523.4,966.3 1523.5,961.4 1523.6,969.5 1523.7,966.4 1523.7,970.3 1523.8,957.6 1523.9,964.5 1524.0,968.7 1524.1,966.4 1524.2,965.6 1524.3,960.2 1524.4,973.7 1524.5,970.4 1524.6,966.5 1524.7,949.4 1524.8,958.7 1524.9,965.0 1525.0,960.1 1525.0,952.2 1525.1,965.7 1525.2,966.5 1525.3,957.2 1525.4,961.4 1525.5,960.3 1525.6,967.3 1525.7,953.0 1525.8,954.2 1525.9,961.0 1526.0,960.3 1526.1,976.2 1526.2,960.5 1526.3,965.4 1526.4,961.7 1526.4,960.3 1526.5,966.3 1526.6,974.3 1526.7,962.1 1526.8,968.7 1526.9,966.2 1527.0,967.9 1527.1,966.3 1527.2,977.9 1527.3,957.1 1527.4,962.8 1527.5,957.8 1527.6,952.6 1527.7,964.2 1527.7,974.9 1527.8,969.6 1527.9,971.4 1528.0,967.3 1528.1,963.8 1528.2,976.1 1528.3,962.3 1528.4,973.2 1528.5,962.5 1528.6,964.9 1528.7,966.1 1528.8,964.7 1528.9,967.5 1529.0,967.9 1529.1,974.2 1529.1,964.5 1529.2,953.4 1529.3,952.6 1529.4,956.5 1529.5,960.1 1529.6,968.3 1529.7,955.8 1529.8,964.6 1529.9,964.7 1530.0,966.0 1530.1,963.8 1530.2,966.9 1530.3,964.8 1530.4,970.7 1530.4,966.5 1530.5,950.9 1530.6,964.7 1530.7,965.7 1530.8,961.2 1530.9,960.1 1531.0,970.9 1531.1,965.5 1531.2,958.9 1531.3,962.7 1531.4,963.6 1531.5,955.1 1531.6,968.3 1531.7,963.8 1531.7,967.4 1531.8,955.5 1531.9,975.8 1532.0,968.2 1532.1,967.4 1532.2,960.4 1532.3,960.7 1532.4,956.1 1532.5,973.6 1532.6,959.9 1532.7,966.0 1532.8,968.2 1532.9,961.1 1533.0,969.7 1533.1,976.5 1533.1,966.5 1533.2,973.1 1533.3,968.1 1533.4,962.1 1533.5,962.5 1533.6,955.0 1533.7,965.5 1533.8,973.3 1533.9,968.8 1534.0,969.7 1534.1,971.5 1534.2,961.7 1534.3,968.1 1534.4,975.9 1534.4,960.2 1534.5,965.0 1534.6,962.2 1534.7,963.7 1534.8,960.6 1534.9,964.1 1535.0,957.0 1535.1,961.8 1535.2,962.0 1535.3,961.9 1535.4,972.9 1535.5,965.3 1535.6,965.8 1535.7,963.1 1535.8,972.3 1535.8,954.7 1535.9,963.7 1536.0,971.4 1536.1,974.4 1536.2,966.0 1536.3,964.8 1536.4,968.5 1536.5,963.8 1536.6,968.1 1536.7,961.1 1536.8,968.6 1536.9,964.5 1537.0,958.5 1537.1,949.2 1537.1,970.2 1537.2,967.0 1537.3,969.2 1537.4,959.7 1537.5,971.1 1537.6,967.2 1537.7,964.5 1537.8,970.1 1537.9,969.9 1538.0,967.1 1538.1,976.7 1538.2,972.8 1538.3,966.7 1538.4,963.4 1538.4,965.4 1538.5,974.7 1538.6,967.0 1538.7,959.6 1538.8,961.0 1538.9,964.8 1539.0,969.5 1539.1,960.6 1539.2,967.7 1539.3,971.2 1539.4,969.0 1539.5,955.8 1539.6,963.0 1539.7,957.5 1539.8,967.1 1539.8,958.8 1539.9,967.8 1540.0,965.2 1540.1,949.7 1540.2,959.8 1540.3,967.3 1540.4,964.8 1540.5,962.4 1540.6,957.2 1540.7,967.2 1540.8,974.6 1540.9,965.9 1541.0,964.2 1541.1,963.7 1541.1,956.5 1541.2,962.4 1541.3,959.5 1541.4,970.8 1541.5,959.2 1541.6,952.0 1541.7,959.7 1541.8,962.8 1541.9,963.4 1542.0,953.8 1542.1,969.8 1542.2,965.0 1542.3,961.6 1542.4,959.9 1542.5,966.9 1542.5,962.5 1542.6,965.9 1542.7,963.6 1542.8,965.1 1542.9,971.0 1543.0,964.4 1543.1,959.1 1543.2,970.0 1543.3,965.7 1543.4,960.4 1543.5,970.6 1543.6,963.2 1543.7,970.5 1543.8,957.6 1543.8,950.7 1543.9,952.4 1544.0,965.6 1544.1,959.9 1544.2,963.6 1544.3,963.7 1544.4,955.2 1544.5,972.1 1544.6,958.1 1544.7,964.6 1544.8,956.0 1544.9,963.2 1545.0,968.3 1545.1,962.7 1545.1,960.0 1545.2,964.1 1545.3,961.4 1545.4,967.4 1545.5,976.9 1545.6,959.0 1545.7,960.2 1545.8,963.4 1545.9,963.9 1546.0,958.2 1546.1,967.0 1546.2,968.5 1546.3,965.4 1546.4,957.3 1546.5,972.5 1546.5,957.3 1546.6,968.1 1546.7,970.8 1546.8,956.9 1546.9,964.9 1547.0,972.0 1547.1,966.4 1547.2,958.8 1547.3,957.3 1547.4,966.8 1547.5,961.9 1547.6,960.1 1547.7,968.1 1547.8,962.2 1547.8,964.5 1547.9,967.5 1548.0,967.2 1548.1,963.9 1548.2,964.1 1548.3,967.6 1548.4,966.8 1548.5,957.7 1548.6,963.0 1548.7,959.1 1548.8,957.2 1548.9,960.8 1549.0,950.9 1549.1,969.2 1549.2,959.5 1549.2,966.2 1549.3,953.4 1549.4,954.3 1549.5,975.8 1549.6,970.0 1549.7,960.4 1549.8,959.6 1549.9,960.0 1550.0,964.7 1550.1,961.6 1550.2,960.5 1550.3,964.8 1550.4,958.2 1550.5,977.6 1550.5,960.6 1550.6,970.4 1550.7,958.7 1550.8,965.6 1550.9,969.5 1551.0,962.1 1551.1,969.7 1551.2,969.7 1551.3,973.5 1551.4,964.5 1551.5,961.4 1551.6,958.3 1551.7,965.1 1551.8,958.1 1551.8,964.2 1551.9,964.8 1552.0,960.9 1552.1,958.1 1552.2,966.3 1552.3,965.7 1552.4,965.2 1552.5,963.8 1552.6,969.6 1552.7,958.2 1552.8,966.7 1552.9,961.6 1553.0,969.2 1553.1,962.2 1553.2,962.0 1553.2,966.8 1553.3,952.4 1553.4,962.1 1553.5,953.8 1553.6,958.7 1553.7,968.2 1553.8,966.6 1553.9,961.7 1554.0,963.9 1554.1,964.0 1554.2,966.0 1554.3,975.0 1554.4,965.6 1554.5,977.4 1554.5,962.1 1554.6,968.6 1554.7,968.5 1554.8,965.6 1554.9,962.7 1555.0,972.7 1555.1,974.6 1555.2,970.6 1555.3,976.3 1555.4,970.0 1555.5,954.9 1555.6,970.5 1555.7,960.5 1555.8,972.4 1555.9,962.5 1555.9,966.2 1556.0,964.7 1556.1,960.9 1556.2,954.0 1556.3,963.2 1556.4,963.6 1556.5,970.0 1556.6,960.9 1556.7,965.7 1556.8,959.4 1556.9,964.6 1557.0,954.0 1557.1,976.0 1557.2,966.0 1557.2,959.1 1557.3,966.4 1557.4,969.0 1557.5,965.9 1557.6,972.4 1557.7,963.6 1557.8,949.9 1557.9,957.6 1558.0,970.8 1558.1,969.4 1558.2,966.7 1558.3,958.4 1558.4,969.1 1558.5,968.4 1558.5,959.1 1558.6,959.2 1558.7,966.5 1558.8,970.9 1558.9,973.4 1559.0,968.4 1559.1,977.4 1559.2,959.9 1559.3,968.0 1559.4,961.5 1559.5,953.3 1559.6,957.4 1559.7,971.1 1559.8,959.2 1559.9,957.5 1559.9,968.7 1560.0,969.9 1560.1,964.9 1560.2,973.7 1560.3,955.6 1560.4,978.5 1560.5,970.8 1560.6,965.9 1560.7,965.6 1560.8,963.3 1560.9,962.7 1561.0,965.6 1561.1,957.6 1561.2,976.9 1561.2,964.3 1561.3,968.5 1561.4,963.5 1561.5,963.0 1561.6,969.7 1561.7,968.1 1561.8,959.6 1561.9,962.2 1562.0,968.3 1562.1,952.3 1562.2,950.7 1562.3,972.9 1562.4,962.5 1562.5,949.5 1562.6,959.7 1562.6,963.0 1562.7,965.5 1562.8,967.5 1562.9,965.6 1563.0,967.5 1563.1,959.9 1563.2,966.6 1563.3,966.9 1563.4,971.4 1563.5,964.6 1563.6,969.6 1563.7,965.4 1563.8,958.2 1563.9,962.1 1563.9,961.3 1564.0,962.2 1564.1,964.0 1564.2,965.1 1564.3,966.1 1564.4,959.8 1564.5,970.7 1564.6,956.4 1564.7,964.1 1564.8,968.7 1564.9,967.2 1565.0,968.3 1565.1,963.4 1565.2,968.5 1565.3,957.6 1565.3,968.9 1565.4,977.7 1565.5,968.6 1565.6,976.1 1565.7,964.5 1565.8,958.1 1565.9,960.5 1566.0,972.2 1566.1,968.8 1566.2,953.8 1566.3,962.4 1566.4,964.3 1566.5,958.1 1566.6,949.9 1566.6,956.7 1566.7,963.5 1566.8,962.2 1566.9,960.7 1567.0,967.9 1567.1,970.5 1567.2,964.0 1567.3,969.9 1567.4,964.7 1567.5,963.7 1567.6,950.5 1567.7,969.3 1567.8,965.0 1567.9,965.3 1567.9,961.7 1568.0,958.1 1568.1,967.2 1568.2,969.1 1568.3,974.0 1568.4,969.8 1568.5,961.1 1568.6,964.0 1568.7,970.3 1568.8,966.5 1568.9,964.1 1569.0,961.3 1569.1,967.8 1569.2,965.8 1569.3,975.0 1569.3,971.1 1569.4,954.8 1569.5,977.2 1569.6,966.3 1569.7,963.0 1569.8,966.5 1569.9,969.1 1570.0,964.7 1570.1,964.3 1570.2,964.8 1570.3,975.4 1570.4,965.2 1570.5,969.3 1570.6,967.5 1570.6,963.0 1570.7,960.5 1570.8,959.0 1570.9,967.2 1571.0,958.9 1571.1,957.4 1571.2,957.6 1571.3,956.1 1571.4,965.2 1571.5,965.3 1571.6,959.4 1571.7,972.3 1571.8,963.1 1571.9,967.4 1572.0,966.5 1572.0,974.6 1572.1,969.5 1572.2,964.4 1572.3,959.1 1572.4,958.5 1572.5,964.8 1572.6,965.4 1572.7,969.2 1572.8,961.9 1572.9,965.8 1573.0,960.7 1573.1,954.0 1573.2,964.5 1573.3,973.1 1573.3,969.4 1573.4,972.9 1573.5,971.4 1573.6,956.6 1573.7,963.0 1573.8,973.3 1573.9,960.4 1574.0,956.9 1574.1,966.4 1574.2,968.3 1574.3,966.3 1574.4,962.6 1574.5,960.5 1574.6,957.3 1574.6,957.2 1574.7,957.3 1574.8,956.3 1574.9,960.4 1575.0,973.3 1575.1,965.1 1575.2,962.5 1575.3,966.6 1575.4,958.9 1575.5,966.4 1575.6,969.8 1575.7,955.8 1575.8,960.4 1575.9,963.0 1576.0,958.8 1576.0,958.0 1576.1,962.3 1576.2,978.8 1576.3,968.3 1576.4,967.0 1576.5,970.1 1576.6,963.1 1576.7,957.3 1576.8,967.2 1576.9,971.0 1577.0,952.4 1577.1,967.0 1577.2,971.6 1577.3,962.9 1577.3,961.8 1577.4,968.5 1577.5,959.6 1577.6,967.2 1577.7,969.7 1577.8,963.2 1577.9,959.8 1578.0,968.0 1578.1,962.4 1578.2,964.9 1578.3,947.7 1578.4,968.5 1578.5,956.1 1578.6,964.6 1578.7,965.0 1578.7,960.0 1578.8,959.0 1578.9,956.8 1579.0,962.4 1579.1,967.8 1579.2,967.5 1579.3,961.3 1579.4,960.9 1579.5,956.1 1579.6,961.8 1579.7,958.1 1579.8,955.4 1579.9,963.3 1580.0,973.1 1580.0,971.2 1580.1,972.8 1580.2,954.9 1580.3,969.3 1580.4,957.0 1580.5,960.8 1580.6,954.2 1580.7,958.4 1580.8,964.9 1580.9,965.5 1581.0,963.8 1581.1,963.3 1581.2,967.4 1581.3,964.5 1581.3,954.8 1581.4,974.3 1581.5,962.8 1581.6,969.6 1581.7,963.2 1581.8,959.4 1581.9,964.6 1582.0,959.7 1582.1,973.7 1582.2,957.8 1582.3,967.9 1582.4,960.6 1582.5,963.2 1582.6,979.5 1582.7,968.8 1582.7,963.0 1582.8,955.1 1582.9,962.6 1583.0,962.8 1583.1,972.6 1583.2,955.9 1583.3,953.7 1583.4,964.1 1583.5,965.6 1583.6,973.8 1583.7,959.1 1583.8,948.4 1583.9,960.1 1584.0,956.9 1584.0,961.1 1584.1,970.1 1584.2,956.4 1584.3,971.6 1584.4,965.5 1584.5,962.7 1584.6,959.1 1584.7,961.8 1584.8,962.0 1584.9,968.8 1585.0,971.9 1585.1,963.9 1585.2,968.5 1585.3,972.0 1585.4,971.8 1585.4,967.2 1585.5,975.2 1585.6,972.2 1585.7,973.9 1585.8,963.2 1585.9,961.9 1586.0,952.5 1586.1,973.1 1586.2,968.3 1586.3,958.9 1586.4,965.6 1586.5,966.2 1586.6,954.2 1586.7,966.3 1586.7,971.1 1586.8,972.1 1586.9,962.3 1587.0,962.5 1587.1,972.4 1587.2,970.1 1587.3,961.2 1587.4,960.9 1587.5,968.1 1587.6,960.6 1587.7,960.9 1587.8,974.8 1587.9,966.1 1588.0,961.9 1588.0,967.7 1588.1,976.9 1588.2,966.0 1588.3,959.9 1588.4,955.0 1588.5,977.2 1588.6,948.9 1588.7,970.9 1588.8,958.7 1588.9,957.0 1589.0,958.5 1589.1,963.4 1589.2,971.1 1589.3,960.6 1589.4,968.5 1589.4,979.2 1589.5,947.6 1589.6,960.1 1589.7,953.6 1589.8,969.7 1589.9,955.7 1590.0,954.9 1590.1,955.1 1590.2,964.4 1590.3,971.4 1590.4,965.3 1590.5,977.3 1590.6,974.3 1590.7,963.8 1590.7,970.1 1590.8,965.3 1590.9,964.9 1591.0,952.9 1591.1,956.7 1591.2,964.6 1591.3,957.2 1591.4,968.9 1591.5,966.3 1591.6,958.9 1591.7,971.6 1591.8,965.9 1591.9,972.1 1592.0,963.6 1592.1,954.7 1592.1,968.7 1592.2,963.0 1592.3,969.6 1592.4,971.1 1592.5,971.6 1592.6,955.7 1592.7,950.4 1592.8,961.5 1592.9,968.5 1593.0,960.1 1593.1,966.3 1593.2,959.6 1593.3,962.6 1593.4,962.7 1593.4,960.7 1593.5,967.7 1593.6,966.7 1593.7,974.4 1593.8,966.9 1593.9,972.7 1594.0,965.2 1594.1,969.9 1594.2,963.7 1594.3,961.6 1594.4,972.7 1594.5,969.1 1594.6,969.9 1594.7,959.9 1594.7,954.2 1594.8,959.3 1594.9,966.4 1595.0,955.7 1595.1,973.2 1595.2,955.5 1595.3,968.2 1595.4,980.7 1595.5,948.7 1595.6,955.0 1595.7,970.4 1595.8,963.3 1595.9,965.6 1596.0,963.7 1596.1,973.0 1596.1,968.3 1596.2,961.5 1596.3,963.0 1596.4,957.2 1596.5,963.8 1596.6,950.5 1596.7,968.5 1596.8,962.8 1596.9,975.6 1597.0,971.7 1597.1,956.5 1597.2,969.9 1597.3,961.2 1597.4,964.7 1597.4,970.5 1597.5,966.4 1597.6,967.3 1597.7,967.2 1597.8,959.9 1597.9,960.5 1598.0,967.7 1598.1,969.6 1598.2,962.6 1598.3,964.9 1598.4,958.2 1598.5,948.7 1598.6,959.3 1598.7,964.5 1598.8,965.3 1598.8,969.3 1598.9,969.6 1599.0,970.2 1599.1,966.6 1599.2,966.8 1599.3,959.9 1599.4,966.7 1599.5,965.5 1599.6,971.5 1599.7,954.6 1599.8,961.3 1599.9,953.8 1600.0,959.6 1600.1,955.5 1600.1,965.8 1600.2,960.1 1600.3,948.4 1600.4,971.5 1600.5,957.4 1600.6,954.3 1600.7,961.8 1600.8,959.8 1600.9,956.8 1601.0,968.2 1601.1,961.8 1601.2,969.5 1601.3,968.4 1601.4,968.0 1601.5,965.2 1601.5,963.4 1601.6,961.6 1601.7,972.8 1601.8,952.4 1601.9,957.3 1602.0,959.9 1602.1,966.5 1602.2,964.8 1602.3,961.0 1602.4,961.8 1602.5,974.4 1602.6,959.8 1602.7,946.7 1602.8,975.5 1602.8,958.3 1602.9,962.1 1603.0,965.0 1603.1,956.0 1603.2,971.4 1603.3,963.3 1603.4,955.5 1603.5,965.5 1603.6,966.8 1603.7,963.6 1603.8,967.0 1603.9,954.9 1604.0,969.8 1604.1,959.0 1604.1,971.9 1604.2,960.2 1604.3,964.9 1604.4,979.9 1604.5,964.3 1604.6,970.8 1604.7,967.0 1604.8,955.0 1604.9,971.1 1605.0,970.7 1605.1,955.6 1605.2,963.6 1605.3,955.0 1605.4,962.3 1605.5,969.6 1605.5,964.7 1605.6,956.9 1605.7,958.6 1605.8,964.3 1605.9,964.0 1606.0,965.0 1606.1,967.8 1606.2,952.6 1606.3,964.3 1606.4,971.2 1606.5,967.2 1606.6,959.9 1606.7,960.4 1606.8,965.1 1606.8,968.3 1606.9,964.2 1607.0,974.4 1607.1,972.2 1607.2,959.5 1607.3,967.2 1607.4,962.0 1607.5,956.9 1607.6,960.4 1607.7,964.2 1607.8,951.4 1607.9,960.3 1608.0,966.4 1608.1,959.9 1608.2,961.8 1608.2,969.5 1608.3,963.9 1608.4,965.3 1608.5,976.2 1608.6,965.3 1608.7,966.0 1608.8,967.0 1608.9,974.3 1609.0,966.4 1609.1,964.5 1609.2,963.7 1609.3,971.2 1609.4,960.5 1609.5,971.7 1609.5,965.7 1609.6,956.4 1609.7,968.5 1609.8,967.4 1609.9,957.8 1610.0,966.6 1610.1,966.1 1610.2,963.0 1610.3,957.9 1610.4,977.6 1610.5,969.3 1610.6,970.4 1610.7,970.9 1610.8,969.5 1610.8,969.4 1610.9,962.5 1611.0,969.7 1611.1,963.6 1611.2,961.9 1611.3,968.7 1611.4,963.5 1611.5,954.4 1611.6,962.4 1611.7,968.1 1611.8,964.7 1611.9,969.8 1612.0,962.7 1612.1,959.1 1612.2,969.2 1612.2,965.6 1612.3,957.6 1612.4,967.3 1612.5,963.2 1612.6,970.5 1612.7,969.2 1612.8,967.4 1612.9,951.5 1613.0,966.7 1613.1,967.4 1613.2,967.6 1613.3,965.3 1613.4,960.4 1613.5,963.2 1613.5,952.2 1613.6,963.0 1613.7,955.8 1613.8,962.7 1613.9,960.7 1614.0,972.8 1614.1,965.0 1614.2,964.7 1614.3,965.7 1614.4,977.0 1614.5,959.1 1614.6,966.6 1614.7,966.9 1614.8,965.8 1614.9,965.6 1614.9,961.9 1615.0,971.8 1615.1,969.8 1615.2,962.6 1615.3,963.4 1615.4,966.5 1615.5,967.7 1615.6,969.2 1615.7,964.6 1615.8,957.3 1615.9,970.5 1616.0,955.3 1616.1,959.3 1616.2,967.0 1616.2,959.7 1616.3,972.9 1616.4,974.5 1616.5,971.9 1616.6,966.7 1616.7,966.2 1616.8,967.3 1616.9,963.7 1617.0,976.9 1617.1,961.4 1617.2,972.7 1617.3,968.2 1617.4,966.7 1617.5,971.1 1617.5,972.4 1617.6,970.2 1617.7,964.4 1617.8,960.8 1617.9,961.0 1618.0,970.2 1618.1,969.0 1618.2,969.7 1618.3,961.7 1618.4,976.3 1618.5,957.0 1618.6,967.2 1618.7,968.9 1618.8,962.3 1618.9,958.2 1618.9,962.3 1619.0,958.1 1619.1,963.5 1619.2,957.1 1619.3,957.0 1619.4,964.9 1619.5,955.8 1619.6,963.3 1619.7,963.8 1619.8,969.7 1619.9,966.0 1620.0,959.7 1620.1,972.0 1620.2,960.5 1620.2,962.2 1620.3,962.7 1620.4,977.3 1620.5,964.9 1620.6,960.5 1620.7,968.8 1620.8,963.8 1620.9,978.3 1621.0,960.3 1621.1,968.2 1621.2,959.2 1621.3,975.2 1621.4,960.2 1621.5,965.7 1621.6,959.5 1621.6,969.8 1621.7,967.9 1621.8,951.1 1621.9,969.2 1622.0,968.5 1622.1,965.9 1622.2,970.3 1622.3,957.3 1622.4,954.1 1622.5,968.4 1622.6,974.5 1622.7,957.4 1622.8,957.8 1622.9,959.5 1622.9,957.5 1623.0,969.4 1623.1,965.3 1623.2,972.5 1623.3,972.7 1623.4,958.5 1623.5,968.3 1623.6,950.9 1623.7,963.9 1623.8,968.1 1623.9,959.6 1624.0,953.7 1624.1,961.4 1624.2,971.5 1624.2,962.1 1624.3,956.2 1624.4,967.2 1624.5,968.9 1624.6,958.3 1624.7,963.5 1624.8,970.8 1624.9,966.5 1625.0,968.8 1625.1,962.6 1625.2,963.7 1625.3,957.5 1625.4,960.1 1625.5,973.5 1625.6,961.9 1625.6,959.0 1625.7,961.6 1625.8,958.2 1625.9,967.5 1626.0,969.9 1626.1,958.8 1626.2,970.6 1626.3,977.0 1626.4,958.3 1626.5,968.6 1626.6,966.1 1626.7,972.5 1626.8,972.1 1626.9,971.1 1626.9,966.4 1627.0,962.1 1627.1,977.8 1627.2,959.9 1627.3,971.3 1627.4,970.6 1627.5,960.3 1627.6,964.7 1627.7,973.4 1627.8,953.4 1627.9,969.4 1628.0,962.8 1628.1,963.1 1628.2,956.0 1628.3,967.0 1628.3,958.4 1628.4,968.7 1628.5,957.7 1628.6,968.8 1628.7,966.4 1628.8,953.1 1628.9,962.4 1629.0,963.7 1629.1,951.1 1629.2,962.2 1629.3,969.1 1629.4,960.0 1629.5,971.3 1629.6,957.7 1629.6,957.2 1629.7,967.7 1629.8,968.0 1629.9,963.3 1630.0,964.2 1630.1,970.1 1630.2,961.0 1630.3,976.3 1630.4,966.8 1630.5,966.7 1630.6,965.9 1630.7,962.5 1630.8,971.5 1630.9,960.8 1630.9,965.4 1631.0,968.1 1631.1,972.4 1631.2,971.3 1631.3,962.2 1631.4,970.0 1631.5,963.9 1631.6,958.0 1631.7,958.2 1631.8,955.1 1631.9,966.0 1632.0,970.7 1632.1,958.3 1632.2,962.5 1632.3,957.7 1632.3,964.2 1632.4,957.3 1632.5,959.3 1632.6,960.1 1632.7,961.3 1632.8,962.0 1632.9,962.9 1633.0,963.0 1633.1,958.5 1633.2,967.3 1633.3,954.1 1633.4,964.9 1633.5,958.5 1633.6,964.8 1633.6,965.8 1633.7,952.3 1633.8,966.1 1633.9,971.8 1634.0,968.5 1634.1,966.2 1634.2,951.6 1634.3,963.1 1634.4,958.8 1634.5,970.2 1634.6,962.2 1634.7,960.3 1634.8,953.7 1634.9,968.4 1635.0,960.7 1635.0,962.5 1635.1,970.3 1635.2,964.4 1635.3,965.9 1635.4,978.0 1635.5,960.8 1635.6,961.1 1635.7,966.9 1635.8,972.2 1635.9,955.6 1636.0,962.7 1636.1,958.3 1636.2,956.0 1636.3,967.4 1636.3,959.5 1636.4,965.7 1636.5,964.7 1636.6,964.8 1636.7,964.3 1636.8,957.7 1636.9,963.6 1637.0,965.2 1637.1,965.9 1637.2,962.3 1637.3,969.6 1637.4,967.3 1637.5,964.6 1637.6,967.6 1637.7,965.0 1637.7,967.9 1637.8,952.5 1637.9,956.5 1638.0,961.6 1638.1,964.6 1638.2,951.4 1638.3,962.4 1638.4,964.8 1638.5,962.5 1638.6,962.5 1638.7,956.0 1638.8,964.4 1638.9,951.9 1639.0,969.5 1639.0,960.2 1639.1,970.2 1639.2,953.6 1639.3,966.2 1639.4,964.6 1639.5,958.9 1639.6,956.9 1639.7,970.8 1639.8,966.3 1639.9,972.5 1640.0,963.5 1640.1,964.9 1640.2,966.4 1640.3,968.3 1640.3,966.6 1640.4,968.7 1640.5,961.2 1640.6,955.4 1640.7,975.7 1640.8,965.0 1640.9,966.8 1641.0,961.4 1641.1,969.9 1641.2,965.2 1641.3,970.4 1641.4,960.2 1641.5,963.7 1641.6,965.3 1641.7,962.1 1641.7,965.8 1641.8,973.5 1641.9,960.8 1642.0,962.6 1642.1,965.2 1642.2,958.5 1642.3,957.1 1642.4,970.7 1642.5,968.9 1642.6,955.2 1642.7,955.9 1642.8,968.6 1642.9,971.3 1643.0,968.1 1643.0,967.2 1643.1,973.6 1643.2,964.1 1643.3,971.8 1643.4,971.4 1643.5,958.9 1643.6,968.3 1643.7,964.7 1643.8,960.6 1643.9,959.5 1644.0,966.3 1644.1,964.0 1644.2,969.2 1644.3,954.0 1644.4,960.5 1644.4,970.8 1644.5,964.3 1644.6,960.1 1644.7,961.5 1644.8,953.5 1644.9,956.2 1645.0,967.5 1645.1,964.8 1645.2,971.8 1645.3,962.8 1645.4,963.4 1645.5,948.4 1645.6,963.7 1645.7,976.6 1645.7,968.3 1645.8,963.6 1645.9,971.7 1646.0,969.4 1646.1,966.5 1646.2,962.3 1646.3,965.3 1646.4,969.5 1646.5,959.7 1646.6,967.5 1646.7,967.2 1646.8,972.4 1646.9,968.9 1647.0,960.5 1647.0,973.8 1647.1,964.7 1647.2,960.1 1647.3,966.5 1647.4,962.9 1647.5,970.9 1647.6,956.6 1647.7,957.8 1647.8,962.9 1647.9,974.6 1648.0,970.5 1648.1,958.5 1648.2,954.2 1648.3,962.6 1648.4,957.0 1648.4,967.9 1648.5,965.4 1648.6,964.3 1648.7,961.8 1648.8,973.3 1648.9,958.8 1649.0,956.5 1649.1,971.1 1649.2,972.3 1649.3,962.2 1649.4,968.2 1649.5,978.3 1649.6,959.5 1649.7,963.4 1649.7,967.1 1649.8,951.9 1649.9,963.5 1650.0,968.7 1650.1,963.7 1650.2,970.4 1650.3,968.8 1650.4,962.0 1650.5,967.6 1650.6,967.0 1650.7,954.5 1650.8,959.2 1650.9,959.6 1651.0,961.2 1651.1,961.4 1651.1,955.7 1651.2,964.4 1651.3,953.4 1651.4,969.9 1651.5,965.8 1651.6,972.4 1651.7,966.3 1651.8,961.2 1651.9,955.8 1652.0,968.2 1652.1,964.3 1652.5,964.3 1652.5,141.7 1652.2,142.6 1652.3,145.8 1652.4,149.4 1652.4,143.0 1652.5,154.5 1652.6,144.6 1652.7,146.1 1652.8,151.0 1652.9,154.0 1653.0,157.2 1653.1,138.9 1653.2,158.8 1653.3,142.6 1653.4,149.2 1653.5,155.8 1653.6,161.4 1653.7,149.4 1653.7,146.3 1653.8,162.9 1653.9,160.1 1654.0,153.0 1654.1,158.2 1654.2,149.3 1654.3,165.4 1654.4,159.7 1654.5,171.2 1654.6,152.4 1654.7,170.0 1654.8,179.6 1654.9,168.3 1655.0,169.3 1655.1,158.1 1655.1,172.3 1655.2,171.3 1655.3,168.6 1655.4,163.7 1655.5,174.3 1655.6,168.7 1655.7,172.7 1655.8,178.4 1655.9,177.1 1656.0,178.3 1656.1,184.7 1656.2,173.1 1656.3,189.3 1656.4,175.2 1656.4,177.3 1656.5,184.4 1656.6,189.3 1656.7,187.0 1656.8,183.7 1656.9,183.0 1657.0,186.6 1657.1,183.4 1657.2,193.4 1657.3,189.6 1657.4,201.1 1657.5,188.3 1657.6,192.7 1657.7,197.0 1657.8,188.6 1657.8,192.2 1657.9,213.8 1658.0,197.8 1658.1,207.5 1658.2,193.5 1658.3,186.0 1658.4,204.6 1658.5,202.0 1658.6,204.8 1658.7,202.1 1658.8,201.3 1658.9,198.4 1659.0,212.6 1659.1,198.4 1659.1,214.1 1659.2,207.8 1659.3,203.5 1659.4,207.0 1659.5,217.6 1659.6,217.0 1659.7,216.5 1659.8,214.9 1659.9,208.7 1660.0,224.0 1660.1,214.5 1660.2,214.5 1660.3,215.6 1660.4,217.0 1660.4,211.7 1660.5,218.6 1660.6,217.3 1660.7,219.9 1660.8,213.5 1660.9,236.1 1661.0,218.2 1661.1,228.1 1661.2,229.1 1661.3,234.0 1661.4,240.1 1661.5,232.2 1661.6,234.9 1661.7,228.8 1661.8,241.2 1661.8,224.9 1661.9,232.6 1662.0,236.5 1662.1,240.0 1662.2,241.3 1662.3,244.2 1662.4,241.6 1662.5,239.2 1662.6,241.1 1662.7,249.2 1662.8,243.3 1662.9,247.8 1663.0,242.4 1663.1,233.2 1663.1,241.3 1663.2,247.7 1663.3,256.2 1663.4,255.8 1663.5,258.2 1663.6,244.9 1663.7,254.5 1663.8,250.4 1663.9,255.3 1664.0,251.9 1664.1,245.0 1664.2,258.1 1664.3,256.9 1664.4,260.4 1664.5,251.3 1664.5,263.4 1664.6,264.8 1664.7,267.1 1664.8,268.0 1664.9,257.8 1665.0,246.2 1665.1,268.0 1665.2,257.4 1665.3,262.3 1665.4,271.1 1665.5,267.0 1665.6,267.6 1665.7,271.1 1665.8,256.4 1665.8,279.8 1665.9,267.2 1666.0,268.2 1666.1,274.4 1666.2,270.9 1666.3,267.4 1666.4,272.5 1666.5,271.7 1666.6,270.9 1666.7,287.7 1666.8,267.8 1666.9,263.9 1667.0,272.4 1667.1,272.9 1667.2,288.0 1667.2,281.2 1667.3,286.1 1667.4,285.5 1667.5,277.1 1667.6,288.4 1667.7,285.2 1667.8,296.4 1667.9,286.9 1668.0,286.2 1668.1,291.7 1668.2,292.5 1668.3,278.0 1668.4,297.0 1668.5,296.8 1668.5,296.2 1668.6,285.1 1668.7,280.6 1668.8,291.8 1668.9,298.7 1669.0,297.8 1669.1,289.8 1669.2,302.2 1669.3,289.0 1669.4,290.0 1669.5,298.7 1669.6,296.1 1669.7,296.2 1669.8,292.2 1669.8,308.3 1669.9,296.0 1670.0,305.9 1670.1,309.0 1670.2,304.6 1670.3,307.2 1670.4,312.5 1670.5,316.9 1670.6,313.8 1670.7,300.4 1670.8,298.2 1670.9,306.6 1671.0,304.2 1671.1,315.0 1671.2,313.2 1671.2,311.8 1671.3,320.6 1671.4,320.8 1671.5,315.1 1671.6,318.3 1671.7,323.5 1671.8,315.7 1671.9,320.2 1672.0,313.4 1672.1,320.2 1672.2,322.7 1672.3,320.9 1672.4,323.4 1672.5,327.1 1672.5,326.2 1672.6,320.2 1672.7,321.5 1672.8,318.5 1672.9,336.8 1673.0,329.8 1673.1,330.7 1673.2,328.0 1673.3,332.4 1673.4,333.5 1673.5,326.6 1673.6,330.9 1673.7,339.5 1673.8,325.5 1673.9,328.2 1673.9,338.2 1674.0,330.6 1674.1,340.6 1674.2,330.3 1674.3,339.0 1674.4,343.1 1674.5,341.3 1674.6,344.4 1674.7,339.4 1674.8,340.3 1674.9,341.8 1675.0,346.0 1675.1,365.0 1675.2,343.6 1675.2,356.0 1675.3,344.1 1675.4,339.6 1675.5,345.4 1675.6,350.0 1675.7,349.5 1675.8,349.9 1675.9,353.1 1676.0,354.0 1676.1,356.7 1676.2,344.9 1676.3,352.7 1676.4,347.7 1676.5,355.5 1676.5,354.3 1676.6,356.5 1676.7,353.4 1676.8,352.0 1676.9,356.1 1677.0,362.2 1677.1,363.5 1677.2,349.9 1677.3,362.0 1677.4,362.7 1677.5,353.1 1677.6,356.0 1677.7,360.0 1677.8,366.1 1677.9,350.6 1677.9,362.9 1678.0,362.6 1678.1,367.6 1678.2,375.6 1678.3,375.8 1678.4,366.2 1678.5,367.0 1678.6,371.4 1678.7,377.6 1678.8,379.8 1678.9,373.9 1679.0,381.3 1679.1,368.1 1679.2,367.3 1679.2,358.1 1679.3,370.2 1679.4,379.6 1679.5,381.9 1679.6,397.8 1679.7,381.6 1679.8,379.8 1679.9,373.8 1680.0,376.5 1680.1,377.3 1680.2,380.2 1680.3,378.2 1680.4,374.3 1680.5,389.8 1680.6,386.8 1680.6,393.0 1680.7,375.9 1680.8,378.5 1680.9,382.4 1681.0,394.5 1681.1,387.1 1681.2,390.2 1681.3,389.0 1681.4,391.2 1681.5,387.7 1681.6,393.8 1681.7,387.1 1681.8,391.3 1681.9,395.1 1681.9,394.7 1682.0,397.3 1682.1,390.6 1682.2,397.6 1682.3,394.9 1682.4,399.6 1682.5,406.7 1682.6,393.3 1682.7,405.5 1682.8,395.9 1682.9,398.1 1683.0,411.0 1683.1,407.4 1683.2,405.5 1683.2,408.0 1683.3,410.8 1683.4,400.1 1683.5,406.5 1683.6,403.5 1683.7,408.9 1683.8,405.2 1683.9,412.1 1684.0,408.5 1684.1,405.5 1684.2,409.3 1684.3,412.9 1684.4,417.3 1684.5,410.5 1684.6,410.1 1684.6,414.3 1684.7,417.9 1684.8,410.8 1684.9,400.0 1685.0,417.1 1685.1,413.9 1685.2,414.3 1685.3,432.3 1685.4,417.1 1685.5,422.6 1685.6,410.9 1685.7,421.2 1685.8,424.9 1685.9,422.2 1685.9,420.6 1686.0,425.5 1686.1,423.1 1686.2,431.4 1686.3,425.4 1686.4,420.1 1686.5,413.7 1686.6,421.8 1686.7,424.9 1686.8,420.2 1686.9,421.8 1687.0,418.6 1687.1,422.6 1687.2,430.3 1687.3,428.7 1687.3,429.8 1687.4,429.7 1687.5,430.9 1687.6,437.3 1687.7,445.7 1687.8,437.9 1687.9,446.4 1688.0,434.7 1688.1,435.7 1688.2,446.2 1688.3,432.9 1688.4,432.4 1688.5,437.6 1688.6,428.9 1688.6,428.3 1688.7,447.1 1688.8,434.5 1688.9,438.6 1689.0,439.3 1689.1,436.9 1689.2,447.2 1689.3,447.1 1689.4,449.0 1689.5,449.2 1689.6,445.9 1689.7,454.5 1689.8,452.7 1689.9,443.7 1689.9,448.2 1690.0,446.1 1690.1,460.1 1690.2,454.1 1690.3,453.4 1690.4,450.5 1690.5,454.7 1690.6,446.4 1690.7,452.8 1690.8,453.0 1690.9,453.6 1691.0,450.1 1691.1,457.6 1691.2,448.8 1691.3,453.3 1691.3,455.7 1691.4,456.9 1691.5,454.7 1691.6,452.3 1691.7,453.3 1691.8,457.3 1691.9,454.9 1692.0,459.9 1692.1,453.8 1692.2,462.0 1692.3,474.6 1692.4,455.1 1692.5,462.9 1692.6,471.0 1692.6,465.8 1692.7,470.5 1692.8,453.5 1692.9,463.5 1693.0,476.2 1693.1,464.3 1693.2,470.5 1693.3,457.4 1693.4,475.5 1693.5,483.1 1693.6,470.0 1693.7,473.0 1693.8,474.0 1693.9,484.7 1694.0,470.1 1694.0,463.4 1694.1,485.0 1694.2,467.4 1694.3,478.3 1694.4,461.6 1694.5,473.5 1694.6,477.7 1694.7,470.6 1694.8,474.6 1694.9,481.8 1695.0,474.6 1695.1,482.4 1695.2,490.5 1695.3,468.5 1695.3,483.1 1695.4,485.2 1695.5,480.2 1695.6,491.9 1695.7,491.2 1695.8,486.8 1695.9,487.4 1696.0,484.5 1696.1,478.9 1696.2,488.8 1696.3,483.7 1696.4,483.6 1696.5,494.1 1696.6,486.9 1696.6,494.3 1696.7,483.1 1696.8,487.2 1696.9,490.3 1697.0,498.8 1697.1,490.8 1697.2,496.6 1697.3,488.4 1697.4,493.8 1697.5,498.5 1697.6,488.8 1697.7,490.5 1697.8,498.8 1697.9,489.0 1698.0,498.1 1698.0,498.7 1698.1,496.7 1698.2,502.4 1698.3,501.1 1698.4,500.0 1698.5,490.6 1698.6,491.3 1698.7,502.2 1698.8,491.7 1698.9,502.0 1699.0,500.0 1699.1,497.6 1699.2,501.6 1699.3,489.6 1699.3,502.9 1699.4,511.9 1699.5,497.7 1699.6,508.4 1699.7,508.3 1699.8,524.6 1699.9,501.6 1700.0,503.2 1700.1,503.9 1700.2,503.3 1700.3,499.7 1700.4,510.4 1700.5,505.1 1700.6,515.6 1700.7,513.8 1700.7,506.0 1700.8,510.4 1700.9,521.1 1701.0,511.7 1701.1,515.4 1701.2,519.6 1701.3,512.8 1701.4,518.2 1701.5,525.6 1701.6,523.4 1701.7,507.0 1701.8,526.8 1701.9,517.1 1702.0,515.3 1702.0,515.7 1702.1,527.2 1702.2,522.4 1702.3,520.1 1702.4,516.8 1702.5,525.8 1702.6,529.4 1702.7,517.1 1702.8,517.0 1702.9,521.8 1703.0,528.1 1703.1,522.6 1703.2,524.9 1703.3,521.1 1703.4,533.9 1703.4,526.4 1703.5,528.5 1703.6,534.6 1703.7,527.3 1703.8,528.8 1703.9,532.0 1704.0,527.7 1704.1,538.9 1704.2,531.4 1704.3,529.0 1704.4,530.4 1704.5,526.2 1704.6,540.1 1704.7,542.4 1704.7,532.6 1704.8,531.8 1704.9,522.5 1705.0,531.9 1705.1,541.2 1705.2,531.7 1705.3,542.0 1705.4,546.2 1705.5,522.6 1705.6,536.5 1705.7,534.7 1705.8,536.1 1705.9,529.2 1706.0,538.7 1706.0,533.7 1706.1,547.4 1706.2,550.1 1706.3,534.0 1706.4,534.2 1706.5,540.3 1706.6,542.5 1706.7,543.3 1706.8,548.8 1706.9,536.2 1707.0,541.9 1707.1,543.2 1707.2,544.5 1707.3,541.0 1707.4,544.7 1707.4,543.7 1707.5,555.5 1707.6,546.1 1707.7,536.7 1707.8,553.1 1707.9,551.3 1708.0,545.7 1708.1,545.8 1708.2,548.3 1708.3,561.9 1708.4,549.9 1708.5,560.3 1708.6,558.7 1708.7,551.1 1708.7,556.5 1708.8,550.5 1708.9,537.2 1709.0,551.6 1709.1,552.4 1709.2,562.4 1709.3,561.4 1709.4,564.3 1709.5,561.7 1709.6,565.4 1709.7,563.3 1709.8,561.2 1709.9,566.3 1710.0,569.2 1710.1,569.3 1710.1,559.1 1710.2,561.9 1710.3,556.7 1710.4,557.0 1710.5,565.6 1710.6,560.1 1710.7,573.0 1710.8,551.6 1710.9,558.4 1711.0,567.2 1711.1,573.2 1711.2,564.6 1711.3,578.3 1711.4,572.3 1711.4,563.8 1711.5,568.2 1711.6,572.0 1711.7,564.0 1711.8,576.1 1711.9,568.8 1712.0,573.9 1712.1,576.4 1712.2,569.1 1712.3,578.1 1712.4,561.5 1712.5,576.6 1712.6,561.9 1712.7,580.5 1712.7,571.0 1712.8,582.0 1712.9,583.3 1713.0,574.9 1713.1,572.3 1713.2,584.3 1713.3,570.2 1713.4,582.4 1713.5,577.3 1713.6,576.3 1713.7,575.5 1713.8,590.0 1713.9,570.3 1714.0,577.0 1714.1,583.3 1714.1,587.2 1714.2,591.6 1714.3,590.1 1714.4,579.3 1714.5,585.0 1714.6,590.1 1714.7,586.9 1714.8,575.1 1714.9,586.6 1715.0,588.6 1715.1,577.6 1715.2,583.3 1715.3,586.2 1715.4,590.5 1715.4,596.5 1715.5,594.6 1715.6,591.0 1715.7,589.9 1715.8,586.9 1715.9,586.2 1716.0,588.6 1716.1,589.0 1716.2,596.7 1716.3,603.9 1716.4,594.7 1716.5,597.7 1716.6,596.3 1716.7,594.5 1716.8,600.7 1716.8,600.3 1716.9,594.8 1717.0,593.9 1717.1,598.9 1717.2,592.5 1717.3,597.2 1717.4,602.3 1717.5,596.5 1717.6,586.1 1717.7,601.5 1717.8,591.1 1717.9,590.3 1718.0,590.0 1718.1,604.1 1718.1,587.8 1718.2,599.4 1718.3,602.0 1718.4,602.3 1718.5,597.8 1718.6,601.5 1718.7,603.2 1718.8,595.0 1718.9,607.3 1719.0,609.6 1719.1,599.2 1719.2,600.1 1719.3,598.2 1719.4,611.4 1719.4,599.1 1719.5,603.1 1719.6,595.9 1719.7,614.1 1719.8,605.9 1719.9,609.2 1720.0,617.3 1720.1,612.6 1720.2,602.1 1720.3,611.9 1720.4,613.8 1720.5,604.9 1720.6,604.6 1720.7,605.0 1720.8,615.9 1720.8,612.0 1720.9,606.0 1721.0,616.3 1721.1,617.3 1721.2,608.4 1721.3,604.4 1721.4,620.8 1721.5,629.8 1721.6,623.4 1721.7,621.2 1721.8,616.5 1721.9,612.4 1722.0,617.3 1722.1,621.0 1722.1,616.4 1722.2,623.3 1722.3,618.3 1722.4,622.2 1722.5,603.1 1722.6,614.4 1722.7,624.6 1722.8,625.9 1722.9,623.0 1723.0,630.5 1723.1,625.5 1723.2,626.0 1723.3,616.8 1723.4,624.9 1723.5,627.5 1723.5,631.1 1723.6,630.5 1723.7,624.4 1723.8,625.6 1723.9,618.1 1724.0,628.8 1724.1,619.3 1724.2,624.4 1724.3,626.3 1724.4,638.5 1724.5,634.7 1724.6,623.1 1724.7,619.6 1724.8,627.0 1724.8,624.1 1724.9,631.4 1725.0,631.6 1725.1,633.7 1725.2,624.4 1725.3,628.5 1725.4,632.3 1725.5,633.3 1725.6,628.4 1725.7,630.2 1725.8,637.4 1725.9,622.7 1726.0,631.7 1726.1,633.6 1726.1,625.3 1726.2,628.3 1726.3,635.3 1726.4,632.0 1726.5,641.8 1726.6,639.7 1726.7,649.6 1726.8,629.5 1726.9,648.2 1727.0,633.4 1727.1,642.7 1727.2,643.9 1727.3,639.7 1727.4,637.3 1727.5,635.7 1727.5,629.2 1727.6,637.9 1727.7,635.2 1727.8,644.3 1727.9,636.9 1728.0,640.6 1728.1,644.6 1728.2,642.8 1728.3,643.0 1728.4,641.9 1728.5,641.0 1728.6,646.7 1728.7,648.5 1728.8,640.1 1728.8,654.8 1728.9,648.8 1729.0,636.4 1729.1,661.9 1729.2,650.4 1729.3,642.6 1729.4,656.7 1729.5,632.1 1729.6,663.0 1729.7,639.6 1729.8,639.3 1729.9,643.4 1730.0,650.5 1730.1,647.5 1730.2,655.2 1730.2,645.5 1730.3,657.2 1730.4,652.6 1730.5,645.5 1730.6,658.3 1730.7,654.2 1730.8,651.5 1730.9,660.7 1731.0,646.3 1731.1,651.5 1731.2,662.8 1731.3,654.5 1731.4,659.2 1731.5,658.8 1731.5,654.8 1731.6,659.8 1731.7,650.3 1731.8,660.5 1731.9,650.9 1732.0,657.3 1732.1,652.4 1732.2,661.0 1732.3,661.1 1732.4,665.3 1732.5,655.4 1732.6,653.7 1732.7,647.0 1732.8,652.3 1732.8,658.8 1732.9,661.8 1733.0,658.6 1733.1,661.4 1733.2,653.0 1733.3,656.4 1733.4,667.3 1733.5,666.7 1733.6,655.0 1733.7,661.5 1733.8,665.1 1733.9,657.1 1734.0,666.7 1734.1,666.4 1734.2,667.8 1734.2,677.0 1734.3,660.7 1734.4,673.2 1734.5,669.8 1734.6,671.2 1734.7,662.9 1734.8,667.9 1734.9,667.7 1735.0,678.1 1735.1,669.0 1735.2,677.5 1735.3,667.4 1735.4,667.4 1735.5,670.0 1735.5,658.2 1735.6,667.4 1735.7,667.4 1735.8,670.4 1735.9,672.7 1736.0,666.2 1736.1,665.7 1736.2,680.2 1736.3,666.7 1736.4,670.2 1736.5,667.9 1736.6,671.2 1736.7,681.6 1736.8,681.5 1736.9,664.1 1736.9,673.7 1737.0,683.9 1737.1,673.8 1737.2,678.4 1737.3,687.4 1737.4,690.4 1737.5,686.7 1737.6,675.9 1737.7,678.2 1737.8,679.7 1737.9,676.9 1738.0,675.3 1738.1,691.6 1738.2,681.3 1738.2,684.7 1738.3,687.4 1738.4,683.7 1738.5,681.5 1738.6,682.7 1738.7,690.0 1738.8,684.6 1738.9,670.2 1739.0,688.7 1739.1,692.7 1739.2,681.5 1739.3,679.9 1739.4,681.0 1739.5,690.7 1739.6,678.5 1739.6,689.3 1739.7,691.7 1739.8,688.9 1739.9,686.3 1740.0,681.8 1740.1,682.6 1740.2,686.8 1740.3,681.5 1740.4,686.8 1740.5,682.3 1740.6,696.2 1740.7,697.5 1740.8,684.0 1740.9,697.0 1740.9,690.9 1741.0,690.1 1741.1,692.7 1741.2,692.8 1741.3,682.2 1741.4,705.6 1741.5,685.9 1741.6,677.9 1741.7,691.5 1741.8,692.1 1741.9,688.0 1742.0,681.9 1742.1,699.9 1742.2,692.7 1742.2,694.7 1742.3,690.6 1742.4,693.2 1742.5,690.6 1742.6,697.3 1742.7,694.8 1742.8,699.4 1742.9,699.6 1743.0,696.9 1743.1,697.2 1743.2,703.6 1743.3,687.7 1743.4,698.1 1743.5,705.7 1743.6,691.4 1743.6,702.6 1743.7,695.5 1743.8,698.9 1743.9,697.6 1744.0,698.4 1744.1,703.1 1744.2,699.8 1744.3,688.3 1744.4,713.8 1744.5,700.5 1744.6,698.7 1744.7,707.7 1744.8,709.9 1744.9,689.4 1744.9,704.6 1745.0,690.5 1745.1,699.9 1745.2,702.9 1745.3,700.8 1745.4,700.2 1745.5,697.3 1745.6,702.0 1745.7,704.0 1745.8,704.1 1745.9,697.5 1746.0,700.9 1746.1,711.9 1746.2,710.1 1746.3,704.7 1746.3,710.6 1746.4,709.4 1746.5,713.1 1746.6,709.3 1746.7,705.6 1746.8,702.5 1746.9,708.6 1747.0,696.8 1747.1,709.7 1747.2,690.8 1747.3,704.0 1747.4,707.2 1747.5,713.4 1747.6,727.4 1747.6,711.9 1747.7,710.3 1747.8,700.3 1747.9,720.0 1748.0,701.0 1748.1,714.0 1748.2,708.5 1748.3,728.0 1748.4,712.5 1748.5,715.7 1748.6,709.9 1748.7,713.7 1748.8,721.2 1748.9,709.2 1748.9,711.0 1749.0,711.8 1749.1,709.7 1749.2,709.4 1749.3,716.3 1749.4,724.5 1749.5,724.9 1749.6,709.1 1749.7,713.2 1749.8,717.0 1749.9,720.5 1750.0,718.0 1750.1,718.3 1750.2,720.7 1750.3,723.2 1750.3,706.6 1750.4,718.3 1750.5,723.5 1750.6,727.8 1750.7,724.7 1750.8,716.5 1750.9,716.5 1751.0,722.6 1751.1,721.3 1751.2,723.6 1751.3,728.7 1751.4,714.7 1751.5,720.5 1751.6,708.4 1751.6,727.7 1751.7,724.3 1751.8,718.6 1751.9,725.5 1752.0,732.5 1752.1,730.2 1752.2,724.3 1752.3,723.1 1752.4,726.0 1752.5,719.8 1752.6,720.1 1752.7,724.4 1752.8,726.4 1752.9,728.3 1753.0,723.8 1753.0,721.9 1753.1,727.3 1753.2,725.3 1753.3,730.1 1753.4,736.8 1753.5,734.6 1753.6,724.5 1753.7,726.6 1753.8,720.2 1753.9,729.5 1754.0,725.0 1754.1,722.5 1754.2,724.7 1754.3,734.5 1754.3,732.2 1754.4,730.6 1754.5,737.5 1754.6,729.2 1754.7,726.2 1754.8,735.3 1754.9,721.1 1755.0,734.7 1755.1,734.5 1755.2,734.9 1755.3,738.0 1755.4,731.6 1755.5,734.2 1755.6,724.8 1755.6,731.3 1755.7,732.0 1755.8,736.7 1755.9,744.0 1756.0,736.4 1756.1,741.2 1756.2,730.8 1756.3,736.9 1756.4,727.2 1756.5,732.9 1756.6,732.6 1756.7,736.4 1756.8,736.8 1756.9,734.4 1757.0,733.1 1757.0,743.0 1757.1,736.1 1757.2,723.9 1757.3,740.1 1757.4,741.3 1757.5,744.2 1757.6,748.9 1757.7,733.6 1757.8,740.5 1757.9,739.3 1758.0,730.5 1758.1,726.8 1758.2,747.1 1758.3,735.9 1758.3,738.7 1758.4,740.3 1758.5,740.1 1758.6,743.3 1758.7,734.0 1758.8,740.0 1758.9,741.9 1759.0,736.8 1759.1,739.1 1759.2,741.9 1759.3,743.0 1759.4,734.8 1759.5,742.4 1759.6,746.2 1759.7,751.0 1759.7,748.2 1759.8,752.6 1759.9,746.0 1760.0,745.4 1760.1,759.2 1760.2,747.3 1760.3,743.8 1760.4,746.9 1760.5,753.8 1760.6,740.9 1760.7,752.8 1760.8,756.1 1760.9,755.5 1761.0,749.5 1761.0,743.9 1761.1,743.0 1761.2,748.9 1761.3,757.4 1761.4,754.5 1761.5,756.2 1761.6,752.2 1761.7,761.8 1761.8,751.0 1761.9,748.1 1762.0,753.0 1762.1,749.6 1762.2,758.1 1762.3,761.4 1762.3,756.8 1762.4,746.5 1762.5,747.5 1762.6,756.5 1762.7,747.0 1762.8,756.2 1762.9,745.6 1763.0,751.9 1763.1,757.7 1763.2,750.6 1763.3,760.1 1763.4,761.3 1763.5,764.5 1763.6,754.7 1763.7,756.8 1763.7,757.2 1763.8,759.4 1763.9,748.7 1764.0,759.9 1764.1,761.9 1764.2,750.6 1764.3,749.8 1764.4,756.4 1764.5,768.9 1764.6,762.4 1764.7,755.5 1764.8,759.2 1764.9,750.4 1765.0,767.8 1765.0,756.0 1765.1,763.9 1765.2,752.7 1765.3,761.2 1765.4,754.9 1765.5,765.0 1765.6,769.7 1765.7,768.2 1765.8,765.5 1765.9,768.2 1766.0,755.3 1766.1,754.7 1766.2,761.2 1766.3,769.1 1766.4,764.0 1766.4,767.5 1766.5,755.2 1766.6,762.1 1766.7,761.3 1766.8,766.8 1766.9,776.5 1767.0,769.4 1767.1,771.7 1767.2,763.2 1767.3,765.0 1767.4,770.5 1767.5,768.3 1767.6,757.0 1767.7,772.1 1767.7,772.1 1767.8,768.3 1767.9,771.3 1768.0,769.9 1768.1,764.5 1768.2,757.6 1768.3,778.6 1768.4,768.4 1768.5,768.3 1768.6,769.2 1768.7,770.1 1768.8,771.2 1768.9,763.5 1769.0,772.4 1769.0,770.6 1769.1,770.1 1769.2,769.7 1769.3,771.5 1769.4,764.9 1769.5,771.0 1769.6,770.2 1769.7,771.7 1769.8,777.6 1769.9,776.8 1770.0,778.3 1770.1,771.2 1770.2,776.7 1770.3,779.0 1770.4,771.6 1770.4,770.1 1770.5,783.8 1770.6,763.7 1770.7,773.7 1770.8,774.7 1770.9,768.0 1771.0,774.1 1771.1,778.3 1771.2,762.0 1771.3,781.5 1771.4,776.0 1771.5,770.6 1771.6,782.1 1771.7,776.6 1771.7,774.0 1771.8,762.3 1771.9,781.9 1772.0,777.2 1772.1,773.2 1772.2,776.8 1772.3,784.6 1772.4,775.3 1772.5,777.3 1772.6,775.6 1772.7,771.7 1772.8,772.6 1772.9,776.4 1773.0,777.2 1773.1,785.7 1773.1,780.2 1773.2,778.4 1773.3,782.2 1773.4,779.5 1773.5,785.2 1773.6,771.5 1773.7,768.1 1773.8,783.2 1773.9,778.8 1774.0,782.7 1774.1,774.1 1774.2,779.2 1774.3,781.5 1774.4,783.5 1774.4,781.7 1774.5,788.5 1774.6,778.8 1774.7,787.2 1774.8,780.1 1774.9,782.7 1775.0,777.2 1775.1,784.0 1775.2,778.0 1775.3,789.7 1775.4,780.9 1775.5,786.0 1775.6,783.8 1775.7,784.7 1775.8,779.8 1775.8,797.4 1775.9,783.8 1776.0,794.7 1776.1,779.0 1776.2,798.0 1776.3,792.5 1776.4,796.6 1776.5,777.3 1776.6,794.7 1776.7,786.7 1776.8,790.7 1776.9,798.4 1777.0,790.0 1777.1,784.3 1777.1,789.5 1777.2,783.0 1777.3,790.9 1777.4,788.9 1777.5,791.4 1777.6,787.4 1777.7,778.4 1777.8,787.6 1777.9,788.8 1778.0,793.8 1778.1,794.8 1778.2,782.0 1778.3,797.3 1778.4,796.4 1778.4,791.8 1778.5,793.9 1778.6,780.1 1778.7,805.7 1778.8,789.8 1778.9,788.0 1779.0,799.0 1779.1,796.4 1779.2,790.2 1779.3,783.4 1779.4,798.6 1779.5,802.7 1779.6,787.8 1779.7,784.8 1779.8,795.9 1779.8,807.2 1779.9,785.8 1780.0,795.7 1780.1,788.1 1780.2,795.2 1780.3,797.3 1780.4,798.0 1780.5,786.8 1780.6,787.2 1780.7,808.5 1780.8,801.6 1780.9,785.8 1781.0,798.6 1781.1,804.7 1781.1,796.8 1781.2,797.7 1781.3,797.8 1781.4,800.3 1781.5,799.5 1781.6,800.5 1781.7,796.0 1781.8,803.0 1781.9,800.1 1782.0,799.4 1782.1,791.1 1782.2,796.8 1782.3,799.8 1782.4,796.2 1782.5,797.1 1782.5,793.3 1782.6,796.9 1782.7,789.5 1782.8,792.4 1782.9,800.7 1783.0,803.1 1783.1,795.7 1783.2,798.0 1783.3,801.8 1783.4,810.1 1783.5,812.4 1783.6,799.7 1783.7,797.4 1783.8,797.4 1783.8,809.9 1783.9,796.4 1784.0,805.9 1784.1,800.6 1784.2,800.6 1784.3,808.0 1784.4,806.9 1784.5,815.9 1784.6,809.2 1784.7,814.6 1784.8,801.6 1784.9,804.0 1785.0,799.2 1785.1,802.6 1785.1,808.7 1785.2,803.1 1785.3,807.6 1785.4,801.9 1785.5,803.8 1785.6,811.7 1785.7,806.0 1785.8,805.9 1785.9,808.2 1786.0,801.3 1786.1,796.7 1786.2,809.1 1786.3,809.2 1786.4,820.5 1786.5,808.2 1786.5,810.2 1786.6,820.6 1786.7,806.3 1786.8,804.7 1786.9,812.7 1787.0,810.7 1787.1,814.4 1787.2,804.4 1787.3,818.0 1787.4,811.1 1787.5,798.0 1787.6,809.3 1787.7,807.0 1787.8,810.8 1787.8,817.1 1787.9,810.5 1788.0,808.1 1788.1,816.7 1788.2,808.9 1788.3,803.7 1788.4,804.9 1788.5,820.7 1788.6,817.3 1788.7,821.2 1788.8,805.6 1788.9,808.5 1789.0,808.1 1789.1,817.6 1789.2,819.5 1789.2,812.3 1789.3,812.4 1789.4,818.2 1789.5,812.5 1789.6,809.7 1789.7,812.3 1789.8,820.0 1789.9,826.5 1790.0,815.7 1790.1,813.4 1790.2,816.1 1790.3,817.2 1790.4,818.9 1790.5,810.8 1790.5,815.5 1790.6,814.7 1790.7,821.3 1790.8,819.4 1790.9,814.9 1791.0,822.0 1791.1,823.7 1791.2,818.3 1791.3,809.5 1791.4,815.6 1791.5,808.3 1791.6,817.9 1791.7,819.1 1791.8,825.6 1791.8,821.0 1791.9,809.3 1792.0,816.0 1792.1,813.8 1792.2,814.1 1792.3,818.5 1792.4,819.8 1792.5,818.1 1792.6,815.0 1792.7,816.4 1792.8,816.4 1792.9,818.5 1793.0,824.1 1793.1,821.3 1793.2,825.5 1793.2,814.2 1793.3,832.6 1793.4,821.7 1793.5,806.5 1793.6,822.8 1793.7,827.6 1793.8,821.2 1793.9,813.7 1794.0,822.4 1794.1,818.0 1794.2,821.2 1794.3,824.1 1794.4,803.5 1794.5,821.8 1794.5,825.6 1794.6,825.5 1794.7,820.5 1794.8,820.5 1794.9,818.5 1795.0,822.4 1795.1,831.8 1795.2,820.4 1795.3,825.5 1795.4,825.5 1795.5,832.8 1795.6,827.6 1795.7,828.6 1795.8,824.7 1795.9,833.2 1795.9,824.5 1796.0,824.3 1796.1,831.7 1796.2,829.0 1796.3,830.5 1796.4,820.3 1796.5,840.7 1796.6,828.0 1796.7,835.9 1796.8,828.8 1796.9,821.4 1797.0,830.3 1797.1,825.9 1797.2,831.9 1797.2,815.6 1797.3,821.8 1797.4,820.7 1797.5,835.4 1797.6,834.2 1797.7,821.5 1797.8,829.1 1797.9,829.7 1798.0,826.3 1798.1,835.9 1798.2,824.1 1798.3,828.7 1798.4,826.1 1798.5,833.0 1798.5,826.2 1798.6,833.6 1798.7,823.9 1798.8,823.1 1798.9,824.5 1799.0,827.0 1799.1,826.4 1799.2,846.3 1799.3,825.6 1799.4,832.2 1799.5,830.2 1799.6,832.6 1799.7,839.3 1799.8,834.4 1799.9,827.5 1799.9,823.2 1800.0,835.4 1800.1,837.2 1800.2,823.5 1800.3,837.4 1800.4,820.1 1800.5,832.2 1800.6,837.8 1800.7,827.0 1800.8,822.9 1800.9,841.5 1801.0,824.0 1801.1,835.0 1801.2,824.8 1801.2,835.9 1801.3,843.1 1801.4,831.0 1801.5,828.7 1801.6,821.9 1801.7,824.3 1801.8,830.5 1801.9,836.1 1802.0,837.9 1802.1,836.8 1802.2,840.1 1802.3,836.9 1802.4,850.5 1802.5,834.6 1802.6,835.9 1802.6,820.8 1802.7,831.6 1802.8,839.0 1802.9,833.0 1803.0,843.7 1803.1,840.2 1803.2,847.8 1803.3,828.5 1803.4,833.6 1803.5,844.2 1803.6,837.7 1803.7,831.9 1803.8,834.7 1803.9,835.6 1803.9,843.0 1804.0,841.9 1804.1,837.7 1804.2,833.0 1804.3,843.4 1804.4,845.3 1804.5,832.1 1804.6,844.4 1804.7,832.8 1804.8,837.8 1804.9,834.2 1805.0,829.3 1805.1,835.6 1805.2,835.3 1805.3,845.4 1805.3,844.2 1805.4,836.5 1805.5,831.4 1805.6,832.3 1805.7,827.0 1805.8,839.0 1805.9,839.8 1806.0,835.2 1806.1,841.1 1806.2,841.8 1806.3,847.7 1806.4,835.8 1806.5,848.1 1806.6,838.9 1806.6,850.5 1806.7,835.8 1806.8,848.4 1806.9,837.6 1807.0,852.0 1807.1,845.4 1807.2,836.0 1807.3,847.8 1807.4,842.8 1807.5,846.2 1807.6,857.1 1807.7,841.8 1807.8,841.2 1807.9,850.4 1807.9,840.7 1808.0,848.9 1808.1,850.2 1808.2,844.4 1808.3,848.6 1808.4,831.2 1808.5,854.0 1808.6,840.7 1808.7,839.3 1808.8,856.9 1808.9,855.6 1809.0,842.2 1809.1,848.5 1809.2,843.6 1809.3,839.3 1809.3,848.3 1809.4,852.5 1809.5,862.5 1809.6,845.3 1809.7,852.1 1809.8,844.9 1809.9,845.6 1810.0,855.2 1810.1,837.0 1810.2,840.9 1810.3,842.5 1810.4,854.6 1810.5,850.1 1810.6,851.1 1810.6,850.4 1810.7,854.7 1810.8,845.7 1810.9,847.0 1811.0,846.4 1811.1,851.6 1811.2,841.2 1811.3,847.8 1811.4,865.2 1811.5,853.0 1811.6,849.7 1811.7,843.8 1811.8,851.4 1811.9,851.2 1812.0,853.8 1812.0,846.1 1812.1,852.7 1812.2,853.8 1812.3,854.7 1812.4,847.2 1812.5,853.8 1812.6,860.6 1812.7,847.2 1812.8,855.2 1812.9,849.1 1813.0,849.1 1813.1,844.3 1813.2,845.4 1813.3,855.1 1813.3,852.8 1813.4,859.5 1813.5,842.2 1813.6,849.6 1813.7,844.1 1813.8,854.3 1813.9,864.6 1814.0,843.7 1814.1,852.3 1814.2,852.2 1814.3,852.8 1814.4,849.4 1814.5,850.2 1814.6,862.8 1814.6,847.2 1814.7,856.8 1814.8,856.6 1814.9,843.8 1815.0,848.7 1815.1,856.2 1815.2,865.3 1815.3,853.5 1815.4,851.4 1815.5,855.2 1815.6,862.2 1815.7,859.7 1815.8,862.5 1815.9,854.0 1816.0,850.5 1816.0,849.5 1816.1,859.9 1816.2,854.4 1816.3,852.6 1816.4,859.0 1816.5,857.0 1816.6,843.7 1816.7,855.2 1816.8,851.3 1816.9,859.2 1817.0,856.5 1817.1,867.0 1817.2,857.1 1817.3,850.1 1817.3,844.9 1817.4,850.3 1817.5,853.4 1817.6,857.3 1817.7,861.3 1817.8,858.8 1817.9,854.4 1818.0,862.7 1818.1,852.7 1818.2,864.1 1818.3,868.9 1818.4,864.5 1818.5,868.5 1818.6,866.9 1818.7,852.3 1818.7,860.2 1818.8,857.9 1818.9,852.5 1819.0,852.0 1819.1,862.5 1819.2,851.8 1819.3,857.5 1819.4,859.9 1819.5,857.4 1819.6,868.5 1819.7,864.9 1819.8,861.0 1819.9,856.9 1820.0,862.8 1820.0,861.5 1820.1,855.2 1820.2,852.7 1820.3,856.6 1820.4,853.7 1820.5,863.7 1820.6,863.3 1820.7,859.7 1820.8,863.5 1820.9,864.8 1821.0,852.2 1821.1,863.2 1821.2,867.9 1821.3,859.4 1821.3,851.6 1821.4,862.0 1821.5,855.4 1821.6,865.3 1821.7,865.8 1821.8,867.0 1821.9,863.9 1822.0,852.4 1822.1,870.1 1822.2,853.8 1822.3,869.5 1822.4,865.1 1822.5,858.9 1822.6,860.2 1822.7,862.4 1822.7,873.9 1822.8,862.1 1822.9,870.4 1823.0,849.3 1823.1,865.9 1823.2,863.6 1823.3,871.6 1823.4,867.8 1823.5,872.7 1823.6,859.4 1823.7,866.8 1823.8,862.1 1823.9,869.5 1824.0,868.6 1824.0,858.1 1824.1,871.6 1824.2,876.6 1824.3,863.7 1824.4,872.9 1824.5,868.9 1824.6,861.0 1824.7,871.3 1824.8,861.5 1824.9,870.8 1825.0,858.1 1825.1,859.2 1825.2,869.9 1825.3,868.5 1825.4,872.2 1825.4,866.2 1825.5,860.8 1825.6,876.2 1825.7,862.4 1825.8,875.7 1825.9,873.0 1826.0,878.6 1826.1,855.8 1826.2,868.0 1826.3,867.0 1826.4,872.5 1826.5,862.4 1826.6,881.1 1826.7,868.7 1826.7,856.0 1826.8,871.3 1826.9,869.1 1827.0,865.3 1827.1,874.2 1827.2,869.4 1827.3,864.0 1827.4,868.6 1827.5,867.7 1827.6,872.0 1827.7,868.2 1827.8,869.8 1827.9,861.7 1828.0,866.1 1828.0,871.9 1828.1,885.0 1828.2,866.5 1828.3,866.4 1828.4,876.3 1828.5,882.8 1828.6,877.9 1828.7,865.8 1828.8,877.6 1828.9,874.2 1829.0,870.3 1829.1,864.5 1829.2,871.9 1829.3,872.5 1829.4,875.2 1829.4,862.5 1829.5,865.9 1829.6,872.9 1829.7,880.6 1829.8,877.2 1829.9,869.2 1830.0,877.0 1830.1,867.6 1830.2,870.8 1830.3,871.3 1830.4,869.3 1830.5,870.3 1830.6,878.4 1830.7,875.4 1830.7,859.8 1830.8,880.8 1830.9,876.6 1831.0,867.6 1831.1,874.9 1831.2,878.9 1831.3,882.0 1831.4,871.1 1831.5,868.4 1831.6,866.3 1831.7,874.3 1831.8,868.6 1831.9,880.9 1832.0,873.9 1832.1,879.0 1832.1,874.1 1832.2,870.8 1832.3,869.0 1832.4,881.3 1832.5,868.1 1832.6,878.4 1832.7,881.8 1832.8,876.8 1832.9,884.5 1833.0,876.0 1833.1,874.4 1833.2,877.4 1833.3,873.2 1833.4,878.3 1833.4,876.5 1833.5,885.1 1833.6,876.5 1833.7,881.9 1833.8,879.6 1833.9,877.6 1834.0,876.0 1834.1,886.9 1834.2,886.6 1834.3,879.2 1834.4,874.7 1834.5,875.5 1834.6,872.5 1834.7,870.2 1834.7,875.0 1834.8,878.2 1834.9,884.2 1835.0,883.8 1835.1,881.1 1835.2,876.9 1835.3,877.2 1835.4,878.6 1835.5,879.6 1835.6,875.1 1835.7,877.7 1835.8,877.3 1835.9,877.3 1836.0,882.4 1836.1,885.4 1836.1,876.5 1836.2,877.1 1836.3,880.9 1836.4,882.2 1836.5,866.4 1836.6,884.4 1836.7,881.3 1836.8,878.5 1836.9,887.0 1837.0,879.6 1837.1,869.8 1837.2,875.0 1837.3,876.9 1837.4,877.2 1837.4,880.1 1837.5,875.2 1837.6,881.9 1837.7,883.6 1837.8,880.6 1837.9,875.9 1838.0,879.4 1838.1,877.5 1838.2,893.5 1838.3,874.6 1838.4,867.9 1838.5,874.0 1838.6,883.8 1838.7,887.0 1838.8,880.5 1838.8,888.0 1838.9,878.0 1839.0,885.5 1839.1,876.8 1839.2,874.6 1839.3,894.6 1839.4,881.0 1839.5,887.0 1839.6,891.3 1839.7,886.7 1839.8,884.4 1839.9,877.1 1840.0,892.3 1840.1,877.2 1840.1,871.6 1840.2,880.1 1840.3,880.5 1840.4,883.9 1840.5,890.8 1840.6,880.8 1840.7,881.8 1840.8,879.8 1840.9,869.1 1841.0,880.1 1841.1,881.9 1841.2,875.3 1841.3,892.5 1841.4,891.4 1841.5,887.0 1841.5,888.8 1841.6,880.9 1841.7,886.9 1841.8,874.9 1841.9,876.3 1842.0,880.8 1842.1,887.7 1842.2,881.9 1842.3,880.8 1842.4,892.0 1842.5,883.7 1842.6,881.7 1842.7,884.7 1842.8,876.8 1842.8,879.0 1842.9,891.1 1843.0,885.6 1843.1,891.4 1843.2,883.1 1843.3,891.7 1843.4,881.3 1843.5,884.5 1843.6,881.2 1843.7,887.8 1843.8,895.6 1843.9,876.7 1844.0,888.2 1844.1,879.2 1844.1,884.9 1844.2,883.5 1844.3,876.8 1844.4,885.7 1844.5,879.5 1844.6,896.6 1844.7,882.8 1844.8,889.4 1844.9,888.9 1845.0,888.1 1845.1,886.2 1845.2,878.6 1845.3,899.4 1845.4,888.3 1845.5,892.9 1845.5,881.9 1845.6,891.3 1845.7,886.2 1845.8,891.3 1845.9,885.1 1846.0,883.2 1846.1,891.6 1846.2,889.0 1846.3,897.8 1846.4,887.7 1846.5,884.5 1846.6,892.9 1846.7,883.2 1846.8,902.1 1846.8,900.8 1846.9,898.2 1847.0,893.0 1847.1,890.1 1847.2,890.7 1847.3,890.8 1847.4,886.2 1847.5,893.3 1847.6,898.1 1847.7,898.0 1847.8,878.3 1847.9,904.7 1848.0,892.0 1848.1,882.4 1848.2,888.3 1848.2,896.1 1848.3,891.3 1848.4,886.3 1848.5,884.3 1848.6,896.8 1848.7,887.1 1848.8,890.2 1848.9,885.3 1849.0,883.7 1849.1,894.0 1849.2,900.6 1849.3,889.8 1849.4,881.7 1849.5,888.2 1849.5,891.0 1849.6,878.3 1849.7,898.7 1849.8,887.3 1849.9,896.1 1850.0,892.5 1850.1,892.3 1850.2,884.0 1850.3,898.5 1850.4,896.3 1850.5,902.6 1850.6,890.4 1850.7,896.1 1850.8,890.9 1850.8,899.8 1850.9,895.7 1851.0,887.6 1851.1,894.8 1851.2,890.2 1851.3,890.8 1851.4,896.1 1851.5,903.3 1851.6,888.4 1851.7,893.2 1851.8,888.5 1851.9,906.3 1852.0,904.2 1852.1,907.2 1852.2,899.8 1852.2,888.6 1852.3,891.5 1852.4,895.1 1852.5,894.2 1852.6,890.6 1852.7,896.9 1852.8,892.9 1852.9,894.5 1853.0,908.2 1853.1,897.7 1853.2,887.5 1853.3,897.9 1853.4,896.5 1853.5,899.3 1853.5,898.7 1853.6,889.3 1853.7,897.6 1853.8,902.1 1853.9,914.5 1854.0,899.6 1854.1,907.9 1854.2,907.1 1854.3,891.8 1854.4,892.4 1854.5,907.9 1854.6,891.7 1854.7,894.1 1854.8,901.5 1854.9,892.6 1854.9,906.6 1855.0,904.2 1855.1,905.6 1855.2,903.8 1855.3,892.1 1855.4,905.2 1855.5,904.3 1855.6,903.2 1855.7,896.5 1855.8,899.7 1855.9,892.7 1856.0,902.0 1856.1,905.5 1856.2,901.0 1856.2,897.9 1856.3,903.7 1856.4,896.6 1856.5,887.6 1856.6,901.8 1856.7,898.2 1856.8,890.6 1856.9,902.5 1857.0,903.7 1857.1,905.3 1857.2,896.6 1857.3,896.0 1857.4,899.9 1857.5,898.9 1857.5,891.7 1857.6,894.2 1857.7,907.7 1857.8,899.5 1857.9,898.9 1858.0,895.4 1858.1,901.0 1858.2,903.6 1858.3,902.6 1858.4,910.4 1858.5,900.2 1858.6,903.6 1858.7,897.4 1858.8,906.3 1858.9,902.9 1858.9,906.2 1859.0,906.8 1859.1,896.5 1859.2,903.4 1859.3,898.1 1859.4,907.4 1859.5,900.3 1859.6,910.9 1859.7,903.9 1859.8,904.1 1859.9,897.8 1860.0,900.2 1860.1,902.4 1860.2,896.5 1860.2,900.4 1860.3,898.4 1860.4,897.2 1860.5,902.1 1860.6,903.5 1860.7,900.0 1860.8,904.4 1860.9,899.8 1861.0,895.6 1861.1,897.2 1861.2,904.5 1861.3,909.9 1861.4,902.7 1861.5,903.2 1861.6,896.0 1861.6,904.9 1861.7,903.9 1861.8,898.4 1861.9,905.6 1862.0,903.8 1862.1,892.9 1862.2,894.3 1862.3,899.4 1862.4,901.6 1862.5,909.0 1862.6,900.1 1862.7,903.1 1862.8,902.2 1862.9,906.6 1862.9,903.7 1863.0,904.8 1863.1,901.9 1863.2,895.4 1863.3,901.8 1863.4,913.7 1863.5,909.7 1863.6,913.4 1863.7,908.8 1863.8,901.0 1863.9,902.0 1864.0,907.9 1864.1,902.9 1864.2,909.0 1864.2,912.9 1864.3,912.9 1864.4,909.8 1864.5,896.5 1864.6,912.8 1864.7,897.6 1864.8,897.2 1864.9,906.2 1865.0,905.4 1865.1,908.8 1865.2,905.4 1865.3,901.5 1865.4,905.4 1865.5,899.6 1865.6,898.6 1865.6,903.6 1865.7,903.8 1865.8,906.1 1865.9,903.8 1866.0,912.5 1866.1,903.6 1866.2,904.8 1866.3,911.2 1866.4,893.5 1866.5,912.0 1866.6,911.4 1866.7,904.8 1866.8,917.8 1866.9,911.2 1866.9,915.6 1867.0,912.3 1867.1,907.5 1867.2,904.9 1867.3,900.4 1867.4,902.2 1867.5,900.0 1867.6,903.6 1867.7,909.9 1867.8,900.6 1867.9,910.1 1868.0,910.9 1868.1,898.4 1868.2,902.8 1868.3,906.2 1868.3,903.2 1868.4,902.5 1868.5,915.7 1868.6,908.3 1868.7,914.8 1868.8,907.2 1868.9,911.9 1869.0,900.1 1869.1,905.1 1869.2,913.0 1869.3,908.4 1869.4,915.4 1869.5,908.1 1869.6,905.2 1869.6,907.0 1869.7,919.9 1869.8,910.6 1869.9,905.7 1870.0,907.0 1870.1,902.0 1870.2,916.5 1870.3,905.9 1870.4,912.9 1870.5,907.9 1870.6,906.8 1870.7,905.2 1870.8,912.7 1870.9,908.3 1870.9,916.3 1871.0,917.8 1871.1,906.3 1871.2,909.9 1871.3,919.2 1871.4,914.7 1871.5,909.7 1871.6,900.7 1871.7,903.8 1871.8,905.3 1871.9,920.6 1872.0,910.7 1872.1,907.4 1872.2,907.9 1872.3,907.9 1872.3,911.7 1872.4,900.1 1872.5,901.8 1872.6,911.1 1872.7,916.4 1872.8,898.6 1872.9,914.0 1873.0,903.8 1873.1,899.6 1873.2,916.5 1873.3,909.3 1873.4,913.1 1873.5,908.1 1873.6,909.3 1873.6,899.8 1873.7,907.8 1873.8,911.4 1873.9,904.8 1874.0,913.1 1874.1,913.7 1874.2,898.4 1874.3,916.5 1874.4,914.6 1874.5,911.5 1874.6,918.1 1874.7,924.3 1874.8,905.7 1874.9,916.6 1875.0,915.3 1875.0,914.3 1875.1,918.0 1875.2,918.6 1875.3,911.4 1875.4,898.3 1875.5,908.1 1875.6,908.1 1875.7,921.4 1875.8,912.8 1875.9,919.7 1876.0,908.2 1876.1,914.2 1876.2,912.6 1876.3,913.4 1876.3,916.4 1876.4,922.0 1876.5,909.7 1876.6,921.3 1876.7,920.2 1876.8,915.0 1876.9,917.5 1877.0,911.9 1877.1,907.5 1877.2,912.1 1877.3,912.4 1877.4,913.5 1877.5,908.6 1877.6,924.6 1877.7,911.7 1877.7,919.4 1877.8,921.2 1877.9,914.0 1878.0,916.3 1878.1,910.7 1878.2,907.7 1878.3,927.9 1878.4,914.7 1878.5,902.8 1878.6,909.3 1878.7,905.9 1878.8,913.9 1878.9,923.0 1879.0,921.3 1879.0,910.5 1879.1,909.1 1879.2,919.1 1879.3,916.4 1879.4,913.4 1879.5,925.3 1879.6,917.1 1879.7,905.6 1879.8,902.3 1879.9,915.8 1880.0,904.5 1880.1,918.4 1880.2,920.1 1880.3,928.6 1880.3,909.8 1880.4,917.7 1880.5,901.8 1880.6,913.7 1880.7,914.6 1880.8,926.4 1880.9,907.0 1881.0,918.0 1881.1,916.9 1881.2,929.0 1881.3,910.6 1881.4,910.3 1881.5,919.7 1881.6,915.7 1881.7,913.9 1881.7,910.6 1881.8,915.7 1881.9,906.3 1882.0,917.9 1882.1,920.1 1882.2,919.3 1882.3,931.6 1882.4,921.4 1882.5,910.8 1882.6,915.2 1882.7,921.7 1882.8,914.8 1882.9,928.9 1883.0,918.7 1883.0,914.0 1883.1,913.0 1883.2,921.7 1883.3,911.9 1883.4,906.3 1883.5,919.9 1883.6,913.0 1883.7,926.6 1883.8,929.1 1883.9,913.9 1884.0,917.4 1884.1,916.5 1884.2,921.1 1884.3,919.5 1884.4,913.0 1884.4,907.7 1884.5,919.2 1884.6,927.7 1884.7,910.5 1884.8,914.5 1884.9,914.1 1885.0,917.1 1885.1,904.5 1885.2,917.8 1885.3,915.3 1885.4,929.3 1885.5,921.9 1885.6,922.5 1885.7,918.7 1885.7,916.6 1885.8,923.1 1885.9,908.5 1886.0,925.0 1886.1,921.5 1886.2,917.5 1886.3,926.3 1886.4,915.6 1886.5,915.3 1886.6,920.8 1886.7,907.9 1886.8,918.7 1886.9,917.6 1887.0,924.9 1887.0,929.2 1887.1,923.1 1887.2,921.3 1887.3,922.2 1887.4,915.0 1887.5,933.7 1887.6,926.3 1887.7,930.5 1887.8,911.8 1887.9,923.1 1888.0,922.9 1888.1,926.4 1888.2,914.7 1888.3,922.4 1888.4,918.8 1888.4,932.1 1888.5,913.3 1888.6,917.9 1888.7,917.0 1888.8,913.0 1888.9,921.5 1889.0,921.4 1889.1,916.2 1889.2,918.0 1889.3,922.0 1889.4,920.4 1889.5,923.6 1889.6,916.5 1889.7,915.3 1889.7,920.8 1889.8,909.8 1889.9,930.0 1890.0,922.3 1890.1,910.9 1890.2,923.5 1890.3,930.6 1890.4,912.9 1890.5,918.0 1890.6,928.3 1890.7,916.7 1890.8,927.4 1890.9,929.3 1891.0,922.4 1891.1,924.3 1891.1,928.0 1891.2,923.8 1891.3,927.6 1891.4,921.3 1891.5,921.9 1891.6,917.4 1891.7,924.5 1891.8,929.8 1891.9,929.7 1892.0,923.4 1892.1,913.0 1892.2,917.1 1892.3,925.9 1892.4,916.6 1892.4,929.1 1892.5,916.3 1892.6,924.6 1892.7,917.8 1892.8,918.8 1892.9,924.1 1893.0,920.6 1893.1,928.9 1893.2,923.1 1893.3,916.3 1893.4,898.5 1893.5,918.6 1893.6,922.3 1893.7,928.8 1893.7,916.7 1893.8,932.7 1893.9,927.7 1894.0,920.9 1894.1,930.2 1894.2,914.0 1894.3,916.7 1894.4,926.6 1894.5,926.6 1894.6,931.1 1894.7,931.7 1894.8,920.8 1894.9,919.8 1895.0,921.4 1895.1,922.0 1895.1,926.9 1895.2,921.5 1895.3,932.4 1895.4,923.7 1895.5,915.1 1895.6,916.0 1895.7,926.6 1895.8,925.9 1895.9,915.8 1896.0,913.5 1896.1,932.9 1896.2,926.7 1896.3,922.8 1896.4,917.0 1896.4,929.2 1896.5,920.5 1896.6,926.1 1896.7,910.4 1896.8,921.9 1896.9,925.3 1897.0,926.5 1897.1,918.3 1897.2,920.6 1897.3,931.1 1897.4,923.4 1897.5,932.7 1897.6,929.3 1897.7,932.5 1897.8,932.8 1897.8,929.0 1897.9,930.8 1898.0,921.9 1898.1,920.4 1898.2,926.5 1898.3,931.8 1898.4,920.5 1898.5,937.2 1898.6,936.7 1898.7,921.1 1898.8,921.5 1898.9,919.7 1899.0,926.8 1899.1,933.0 1899.1,928.6 1899.2,922.3 1899.3,930.2 1899.4,929.9 1899.5,934.0 1899.6,932.7 1899.7,920.9 1899.8,923.2 1899.9,932.8 1900.0,932.4 1900.1,929.4 1900.2,922.8 1900.3,933.0 1900.4,927.2 1900.4,938.9 1900.5,933.7 1900.6,923.8 1900.7,921.0 1900.8,933.2 1900.9,931.0 1901.0,921.7 1901.1,928.8 1901.2,929.8 1901.3,923.5 1901.4,925.5 1901.5,920.1 1901.6,922.0 1901.7,930.2 1901.8,927.5 1901.8,927.2 1901.9,934.9 1902.0,932.7 1902.1,921.2 1902.2,936.4 1902.3,921.2 1902.4,925.4 1902.5,928.0 1902.6,924.0 1902.7,924.4 1902.8,920.1 1902.9,929.7 1903.0,928.7 1903.1,928.9 1903.1,916.3 1903.2,921.9 1903.3,933.0 1903.4,929.5 1903.5,931.8 1903.6,927.6 1903.7,926.4 1903.8,914.2 1903.9,938.6 1904.0,921.7 1904.1,925.3 1904.2,932.1 1904.3,928.8 1904.4,930.9 1904.5,927.7 1904.5,922.1 1904.6,937.1 1904.7,920.4 1904.8,930.4 1904.9,919.4 1905.0,925.8 1905.1,921.0 1905.2,925.0 1905.3,922.0 1905.4,928.1 1905.5,933.4 1905.6,924.5 1905.7,924.3 1905.8,916.2 1905.8,940.5 1905.9,929.8 1906.0,922.4 1906.1,936.1 1906.2,930.1 1906.3,916.3 1906.4,920.5 1906.5,934.1 1906.6,920.5 1906.7,922.0 1906.8,924.4 1906.9,926.8 1907.0,927.7 1907.1,934.3 1907.1,932.2 1907.2,924.9 1907.3,928.4 1907.4,918.4 1907.5,931.3 1907.6,943.5 1907.7,931.4 1907.8,927.8 1907.9,927.2 1908.0,929.1 1908.1,934.4 1908.2,920.8 1908.3,933.6 1908.4,925.5 1908.5,931.4 1908.5,936.8 1908.6,921.5 1908.7,944.6 1908.8,934.9 1908.9,927.4 1909.0,932.1 1909.1,925.6 1909.2,930.6 1909.3,932.7 1909.4,917.4 1909.5,931.4 1909.6,931.1 1909.7,936.6 1909.8,934.7 1909.8,926.5 1909.9,927.0 1910.0,930.3 1910.1,934.5 1910.2,926.4 1910.3,940.5 1910.4,932.5 1910.5,932.0 1910.6,935.6 1910.7,929.7 1910.8,934.6 1910.9,935.4 1911.0,920.1 1911.1,926.4 1911.2,923.7 1911.2,930.5 1911.3,925.2 1911.4,926.3 1911.5,923.8 1911.6,917.0 1911.7,932.3 1911.8,929.5 1911.9,931.4 1912.0,951.8 1912.1,939.4 1912.2,931.1 1912.3,927.5 1912.4,934.6 1912.5,924.6 1912.5,923.7 1912.6,933.8 1912.7,923.0 1912.8,921.1 1912.9,928.7 1913.0,937.3 1913.1,922.9 1913.2,932.5 1913.3,933.8 1913.4,930.9 1913.5,934.8 1913.6,925.4 1913.7,927.2 1913.8,924.6 1913.9,928.4 1913.9,936.5 1914.0,932.8 1914.1,926.8 1914.2,934.3 1914.3,914.8 1914.4,933.4 1914.5,935.5 1914.6,925.3 1914.7,927.7 1914.8,932.3 1914.9,933.6 1915.0,929.7 1915.1,927.4 1915.2,927.8 1915.2,934.1 1915.3,929.8 1915.4,927.5 1915.5,928.0 1915.6,950.7 1915.7,937.8 1915.8,937.1 1915.9,934.0 1916.0,931.6 1916.1,927.3 1916.2,929.1 1916.3,933.5 1916.4,932.7 1916.5,922.5 1916.5,936.5 1916.6,931.1 1916.7,923.7 1916.8,930.9 1916.9,945.0 1917.0,930.8 1917.1,935.4 1917.2,933.8 1917.3,927.0 1917.4,930.4 1917.5,934.8 1917.6,928.0 1917.7,930.7 1917.8,932.7 1917.9,931.6 1917.9,931.9 1918.0,935.4 1918.1,936.2 1918.2,933.4 1918.3,939.2 1918.4,941.0 1918.5,925.9 1918.6,935.1 1918.7,933.8 1918.8,934.5 1918.9,933.6 1919.0,933.7 1919.1,933.4 1919.2,938.6 1919.2,928.4 1919.3,938.0 1919.4,927.9 1919.5,945.3 1919.6,940.3 1919.7,928.2 1919.8,935.0 1919.9,938.1 1920.0,932.0 1920.1,940.4 1920.2,933.8 1920.3,947.3 1920.4,937.0 1920.5,938.2 1920.6,931.2 1920.6,929.3 1920.7,939.5 1920.8,925.0 1920.9,938.0 1921.0,946.7 1921.1,948.6 1921.2,925.6 1921.3,935.2 1921.4,938.5 1921.5,939.1 1921.6,941.2 1921.7,926.8 1921.8,935.3 1921.9,924.3 1921.9,936.1 1922.0,948.8 1922.1,930.0 1922.2,937.2 1922.3,936.4 1922.4,925.8 1922.5,936.6 1922.6,928.3 1922.7,935.2 1922.8,939.6 1922.9,932.2 1923.0,938.8 1923.1,928.1 1923.2,929.7 1923.2,935.0 1923.3,931.8 1923.4,932.1 1923.5,937.1 1923.6,930.2 1923.7,936.9 1923.8,931.9 1923.9,941.2 1924.0,935.0 1924.1,933.2 1924.2,940.3 1924.3,938.2 1924.4,938.9 1924.5,931.5 1924.6,940.0 1924.6,933.3 1924.7,926.9 1924.8,933.8 1924.9,945.4 1925.0,935.2 1925.1,929.9 1925.2,937.7 1925.3,929.5 1925.4,932.4 1925.5,933.6 1925.6,937.7 1925.7,939.2 1925.8,937.7 1925.9,935.9 1925.9,933.2 1926.0,933.8 1926.1,938.1 1926.2,936.0 1926.3,934.1 1926.4,946.0 1926.5,941.0 1926.6,941.2 1926.7,937.7 1926.8,938.1 1926.9,938.1 1927.0,941.7 1927.1,932.6 1927.2,935.0 1927.3,946.3 1927.3,936.6 1927.4,943.4 1927.5,926.7 1927.6,939.5 1927.7,939.1 1927.8,936.4 1927.9,938.1 1928.0,937.3 1928.1,927.8 1928.2,935.6 1928.3,932.1 1928.4,930.4 1928.5,942.8 1928.6,927.1 1928.6,933.1 1928.7,931.5 1928.8,942.3 1928.9,932.4 1929.0,934.8 1929.1,940.4 1929.2,923.9 1929.3,934.0 1929.4,938.8 1929.5,936.3 1929.6,932.1 1929.7,930.8 1929.8,934.1 1929.9,930.3 1929.9,928.9 1930.0,944.8 1930.1,940.5 1930.2,943.2 1930.3,937.1 1930.4,929.2 1930.5,933.9 1930.6,943.9 1930.7,939.5 1930.8,931.8 1930.9,941.0 1931.0,938.4 1931.1,936.1 1931.2,948.7 1931.3,933.4 1931.3,936.0 1931.4,934.7 1931.5,943.8 1931.6,942.6 1931.7,941.6 1931.8,936.7 1931.9,937.8 1932.0,937.5 1932.1,927.7 1932.2,930.6 1932.3,942.5 1932.4,942.2 1932.5,928.2 1932.6,940.3 1932.6,930.3 1932.7,929.0 1932.8,941.7 1932.9,940.1 1933.0,938.0 1933.1,943.6 1933.2,944.3 1933.3,941.0 1933.4,933.6 1933.5,941.3 1933.6,939.9 1933.7,941.5 1933.8,946.8 1933.9,930.1 1934.0,952.6 1934.0,942.7 1934.1,935.6 1934.2,947.1 1934.3,935.4 1934.4,931.6 1934.5,944.1 1934.6,937.8 1934.7,945.6 1934.8,936.1 1934.9,938.6 1935.0,937.9 1935.1,931.1 1935.2,936.4 1935.3,931.3 1935.3,935.5 1935.4,946.4 1935.5,937.8 1935.6,936.5 1935.7,947.9 1935.8,931.5 1935.9,939.0 1936.0,937.3 1936.1,944.8 1936.2,939.1 1936.3,937.8 1936.4,941.5 1936.5,939.1 1936.6,952.1 1936.6,931.6 1936.7,946.3 1936.8,952.6 1936.9,945.4 1937.0,944.7 1937.1,936.6 1937.2,945.2 1937.3,938.2 1937.4,945.5 1937.5,926.9 1937.6,936.7 1937.7,928.5 1937.8,946.0 1937.9,936.1 1938.0,945.7 1938.0,936.7 1938.1,936.1 1938.2,949.5 1938.3,946.9 1938.4,947.1 1938.5,949.1 1938.6,944.6 1938.7,945.9 1938.8,948.8 1938.9,939.8 1939.0,937.2 1939.1,948.2 1939.2,943.7 1939.3,940.4 1939.3,941.9 1939.4,944.7 1939.5,935.8 1939.6,935.6 1939.7,936.6 1939.8,941.9 1939.9,929.0 1940.0,930.4 1940.1,943.1 1940.2,941.5 1940.3,933.8 1940.4,945.5 1940.5,938.5 1940.6,940.6 1940.7,945.0 1940.7,942.3 1940.8,950.2 1940.9,944.2 1941.0,952.8 1941.1,927.6 1941.2,932.2 1941.3,933.9 1941.4,939.3 1941.5,935.3 1941.6,933.7 1941.7,935.2 1941.8,935.8 1941.9,946.6 1942.0,938.8 1942.0,944.5 1942.1,948.3 1942.2,948.1 1942.3,938.9 1942.4,935.2 1942.5,949.5 1942.6,931.2 1942.7,932.9 1942.8,943.8 1942.9,944.3 1943.0,942.0 1943.1,935.8 1943.2,943.9 1943.3,948.2 1943.4,939.7 1943.4,953.9 1943.5,940.9 1943.6,935.0 1943.7,940.0 1943.8,937.2 1943.9,939.0 1944.0,937.6 1944.1,941.1 1944.2,946.8 1944.3,943.3 1944.4,942.4 1944.5,934.6 1944.6,932.5 1944.7,939.6 1944.7,946.5 1944.8,946.4 1944.9,943.3 1945.0,934.0 1945.1,940.2 1945.2,942.6 1945.3,946.8 1945.4,937.1 1945.5,940.6 1945.6,942.6 1945.7,941.8 1945.8,932.5 1945.9,943.4 1946.0,932.5 1946.0,935.1 1946.1,942.2 1946.2,937.3 1946.3,943.3 1946.4,947.4 1946.5,944.2 1946.6,948.0 1946.7,939.6 1946.8,942.6 1946.9,939.3 1947.0,937.8 1947.1,961.1 1947.2,940.9 1947.3,953.4 1947.4,941.8 1947.4,948.0 1947.5,942.2 1947.6,934.8 1947.7,953.0 1947.8,941.8 1947.9,943.4 1948.0,954.1 1948.1,939.2 1948.2,942.8 1948.3,946.1 1948.4,947.3 1948.5,924.2 1948.6,945.4 1948.7,953.8 1948.7,948.7 1948.8,945.4 1948.9,945.5 1949.0,943.7 1949.1,949.4 1949.2,940.1 1949.3,946.2 1949.4,951.4 1949.5,948.2 1949.6,945.7 1949.7,938.4 1949.8,940.6 1949.9,945.5 1950.0,943.4 1950.1,942.2 1950.1,931.5 1950.2,947.2 1950.3,940.8 1950.4,939.3 1950.5,949.2 1950.6,942.5 1950.7,942.7 1950.8,946.5 1950.9,940.4 1951.0,937.7 1951.1,937.1 1951.2,944.9 1951.3,942.7 1951.4,930.0 1951.4,950.4 1951.5,942.6 1951.6,938.7 1951.7,943.1 1951.8,940.1 1951.9,943.0 1952.0,939.6 1952.1,936.5 1952.2,945.4 1952.3,942.9 1952.4,944.4 1952.5,946.5 1952.6,944.3 1952.7,950.8 1952.7,939.8 1952.8,934.2 1952.9,934.2 1953.0,936.8 1953.1,950.0 1953.2,935.4 1953.3,948.5 1953.4,944.7 1953.5,933.5 1953.6,950.7 1953.7,939.5 1953.8,942.8 1953.9,945.4 1954.0,949.7 1954.1,942.0 1954.1,947.3 1954.2,938.4 1954.3,937.4 1954.4,952.7 1954.5,947.6 1954.6,946.5 1954.7,951.6 1954.8,951.3 1954.9,944.2 1955.0,946.0 1955.1,954.5 1955.2,948.0 1955.3,941.8 1955.4,951.9 1955.4,950.3 1955.5,935.5 1955.6,937.1 1955.7,954.5 1955.8,952.9 1955.9,942.7 1956.0,952.0 1956.1,946.5 1956.2,947.7 1956.3,941.8 1956.4,960.0 1956.5,958.1 1956.6,952.3 1956.7,939.2 1956.8,946.1 1956.8,955.3 1956.9,942.3 1957.0,941.1 1957.1,946.7 1957.2,947.2 1957.3,942.7 1957.4,938.2 1957.5,944.4 1957.6,942.2 1957.7,945.7 1957.8,947.7 1957.9,950.8 1958.0,943.9 1958.1,947.2 1958.1,946.9 1958.2,940.0 1958.3,942.7 1958.4,940.4 1958.5,954.9 1958.6,942.3 1958.7,949.1 1958.8,950.4 1958.9,950.7 1959.0,938.6 1959.1,940.8 1959.2,950.0 1959.3,952.5 1959.4,945.7 1959.4,948.5 1959.5,936.0 1959.6,954.4 1959.7,956.6 1959.8,947.4 1959.9,945.8 1960.0,945.1 1960.1,941.5 1960.2,933.7 1960.3,948.0 1960.4,949.2 1960.5,956.4 1960.6,944.6 1960.7,941.0 1960.8,947.6 1960.8,939.2 1960.9,946.0 1961.0,937.2 1961.1,944.2 1961.2,952.4 1961.3,950.0 1961.4,955.3 1961.5,956.5 1961.6,944.7 1961.7,941.2 1961.8,934.8 1961.9,946.7 1962.0,947.8 1962.1,952.9 1962.1,940.6 1962.2,944.1 1962.3,949.9 1962.4,942.4 1962.5,943.2 1962.6,957.5 1962.7,942.1 1962.8,945.7 1962.9,948.9 1963.0,949.0 1963.1,936.3 1963.2,937.6 1963.3,935.9 1963.4,953.4 1963.5,950.5 1963.5,941.4 1963.6,953.8 1963.7,951.0 1963.8,957.4 1963.9,935.9 1964.0,940.5 1964.1,944.1 1964.2,945.6 1964.3,949.3 1964.4,949.2 1964.5,943.3 1964.6,951.1 1964.7,939.7 1964.8,949.9 1964.8,952.1 1964.9,939.4 1965.0,947.9 1965.1,943.8 1965.2,949.5 1965.3,960.3 1965.4,943.9 1965.5,955.1 1965.6,940.8 1965.7,956.3 1965.8,958.2 1965.9,945.4 1966.0,944.7 1966.1,946.6 1966.1,954.4 1966.2,942.0 1966.3,955.9 1966.4,950.1 1966.5,952.0 1966.6,949.6 1966.7,942.4 1966.8,951.1 1966.9,944.1 1967.0,943.4 1967.1,957.5 1967.2,954.3 1967.3,949.8 1967.4,951.0 1967.5,945.7 1967.5,958.9 1967.6,943.3 1967.7,943.2 1967.8,948.6 1967.9,955.8 1968.0,947.6 1968.1,950.8 1968.2,944.4 1968.3,948.2 1968.4,943.4 1968.5,950.3 1968.6,939.3 1968.7,961.4 1968.8,953.8 1968.8,944.9 1968.9,956.7 1969.0,943.5 1969.1,955.0 1969.2,947.3 1969.3,953.3 1969.4,950.5 1969.5,946.9 1969.6,948.6 1969.7,950.2 1969.8,935.3 1969.9,948.0 1970.0,953.8 1970.1,942.6 1970.2,943.3 1970.2,940.9 1970.3,937.6 1970.4,953.7 1970.5,941.9 1970.6,941.5 1970.7,948.2 1970.8,946.8 1970.9,965.9 1971.0,951.6 1971.1,937.7 1971.2,958.8 1971.3,951.5 1971.4,946.6 1971.5,945.0 1971.5,938.8 1971.6,958.8 1971.7,948.1 1971.8,943.4 1971.9,956.2 1972.0,948.7 1972.1,937.4 1972.2,940.7 1972.3,945.3 1972.4,963.9 1972.5,949.3 1972.6,946.3 1972.7,950.4 1972.8,949.0 1972.8,930.5 1972.9,949.9 1973.0,954.4 1973.1,947.2 1973.2,950.5 1973.3,950.5 1973.4,949.2 1973.5,944.2 1973.6,947.4 1973.7,955.9 1973.8,949.6 1973.9,946.0 1974.0,951.6 1974.1,942.1 1974.2,944.3 1974.2,954.7 1974.3,947.0 1974.4,937.2 1974.5,939.7 1974.6,949.3 1974.7,943.7 1974.8,953.0 1974.9,957.5 1975.0,945.8 1975.1,947.6 1975.2,946.0 1975.3,949.2 1975.4,947.2 1975.5,952.1 1975.5,946.3 1975.6,944.2 1975.7,949.5 1975.8,944.4 1975.9,959.6 1976.0,953.8 1976.1,940.7 1976.2,938.9 1976.3,947.8 1976.4,949.9 1976.5,956.8 1976.6,947.2 1976.7,944.8 1976.8,958.1 1976.9,946.1 1976.9,946.5 1977.0,946.8 1977.1,956.1 1977.2,946.2 1977.3,958.3 1977.4,940.7 1977.5,948.7 1977.6,956.4 1977.7,941.6 1977.8,942.7 1977.9,953.4 1978.0,936.6 1978.1,955.5 1978.2,947.8 1978.2,942.7 1978.3,963.0 1978.4,943.8 1978.5,950.1 1978.6,949.8 1978.7,956.1 1978.8,947.8 1978.9,956.3 1979.0,955.5 1979.1,952.4 1979.2,957.0 1979.3,940.5 1979.4,957.7 1979.5,954.3 1979.6,951.7 1979.6,949.9 1979.7,945.2 1979.8,945.1 1979.9,951.7 1980.0,952.2 1980.1,949.8 1980.2,945.1 1980.3,945.9 1980.4,953.1 1980.5,962.2 1980.6,937.4 1980.7,944.5 1980.8,948.5 1980.9,948.1 1980.9,953.2 1981.0,956.0 1981.1,952.1 1981.2,951.5 1981.3,953.9 1981.4,958.8 1981.5,952.0 1981.6,946.8 1981.7,953.2 1981.8,950.1 1981.9,962.5 1982.0,951.5 1982.1,951.0 1982.2,957.5 1982.2,960.5 1982.3,947.9 1982.4,955.1 1982.5,947.5 1982.6,952.9 1982.7,946.7 1982.8,952.4 1982.9,959.3 1983.0,951.0 1983.1,952.4 1983.2,946.6 1983.3,953.2 1983.4,952.8 1983.5,945.5 1983.6,943.7 1983.6,946.1 1983.7,944.5 1983.8,947.9 1983.9,946.1 1984.0,945.5 1984.1,948.3 1984.2,950.3 1984.3,949.8 1984.4,936.5 1984.5,950.6 1984.6,952.1 1984.7,952.9 1984.8,951.0 1984.9,949.3 1984.9,957.5 1985.0,962.5 1985.1,949.1 1985.2,960.3 1985.3,949.3 1985.4,950.0 1985.5,944.1 1985.6,941.1 1985.7,948.8 1985.8,954.2 1985.9,957.9 1986.0,955.6 1986.1,950.7 1986.2,963.2 1986.3,950.6 1986.3,951.1 1986.4,947.2 1986.5,953.0 1986.6,950.5 1986.7,955.4 1986.8,953.8 1986.9,961.6 1987.0,950.4 1987.1,942.0 1987.2,950.2 1987.3,949.0 1987.4,957.0 1987.5,942.8 1987.6,955.7 1987.6,946.5 1987.7,950.6 1987.8,956.9 1987.9,945.2 1988.0,951.2 1988.1,950.3 1988.2,948.7 1988.3,951.5 1988.4,953.6 1988.5,948.6 1988.6,953.8 1988.7,951.0 1988.8,955.3 1988.9,960.2 1988.9,955.4 1989.0,954.4 1989.1,951.4 1989.2,944.5 1989.3,961.5 1989.4,950.8 1989.5,964.6 1989.6,957.7 1989.7,954.5 1989.8,964.8 1989.9,962.5 1990.0,950.7 1990.1,951.2 1990.2,952.3 1990.3,956.4 1990.3,939.0 1990.4,952.6 1990.5,956.8 1990.6,941.8 1990.7,948.1 1990.8,953.9 1990.9,944.7 1991.0,950.8 1991.1,948.0 1991.2,950.4 1991.3,957.9 1991.4,946.1 1991.5,950.9 1991.6,957.8 1991.6,956.4 1991.7,946.3 1991.8,954.1 1991.9,951.6 1992.0,948.1 1992.1,951.2 1992.2,960.9 1992.3,948.2 1992.4,946.5 1992.5,946.9 1992.6,942.5 1992.7,949.9 1992.8,947.5 1992.9,942.7 1993.0,953.8 1993.0,941.9 1993.1,941.9 1993.2,947.5 1993.3,941.3 1993.4,947.1 1993.5,957.3 1993.6,945.5 1993.7,950.3 1993.8,949.8 1993.9,951.3 1994.0,944.2 1994.1,949.0 1994.2,956.3 1994.3,949.4 1994.3,948.0 1994.4,956.6 1994.5,954.9 1994.6,954.6 1994.7,955.9 1994.8,950.3 1994.9,946.4 1995.0,941.2 1995.1,945.3 1995.2,946.4 1995.3,945.7 1995.4,944.6 1995.5,954.7 1995.6,948.4 1995.6,950.6 1995.7,953.2 1995.8,955.2 1995.9,955.5 1996.0,954.1 1996.1,959.8 1996.2,949.5 1996.3,952.7 1996.4,952.0 1996.5,950.6 1996.6,948.3 1996.7,956.1 1996.8,953.3 1996.9,962.1 1997.0,965.7 1997.0,964.1 1997.1,943.6 1997.2,963.5 1997.3,949.9 1997.4,944.0 1997.5,955.4 1997.6,943.1 1997.7,941.9 1997.8,947.2 1997.9,938.8 1998.0,949.1 1998.1,957.1 1998.2,949.7 1998.3,955.4 1998.3,960.5 1998.4,960.4 1998.5,939.2 1998.6,956.1 1998.7,953.0 1998.8,956.8 1998.9,952.1 1999.0,954.3 1999.1,955.3 1999.2,960.1 1999.3,961.2 1999.4,957.3 1999.5,951.2 1999.6,940.7 1999.7,946.8 1999.7,942.2 1999.8,950.1 1999.9,953.5 2000.0,960.8 2000.1,953.0 2000.2,965.7 2000.3,954.8 2000.4,943.4 2000.5,951.1 2000.6,946.4 2000.7,955.3 2000.8,961.2 2000.9,955.9 2001.0,955.4 2001.0,946.0 2001.1,941.5 2001.2,957.5 2001.3,955.3 2001.4,954.0 2001.5,955.2 2001.6,960.5 2001.7,952.6 2001.8,951.1 2001.9,950.9 2002.0,960.3 2002.1,953.9 2002.2,963.5 2002.3,947.9 2002.3,959.3 2002.4,954.9 2002.5,955.9 2002.6,956.7 2002.7,959.5 2002.8,963.7 2002.9,943.1 2003.0,951.8 2003.1,951.8 2003.2,941.0 2003.3,953.9 2003.4,950.1 2003.5,953.3 2003.6,946.4 2003.7,950.4 2003.7,951.6 2003.8,954.9 2003.9,951.8 2004.0,946.6 2004.1,965.7 2004.2,954.2 2004.3,955.9 2004.4,955.3 2004.5,965.1 2004.6,949.2 2004.7,958.5 2004.8,954.9 2004.9,956.5 2005.0,963.4 2005.0,956.2 2005.1,964.4 2005.2,959.1 2005.3,955.5 2005.4,953.6 2005.5,953.3 2005.6,954.5 2005.7,941.1 2005.8,951.1 2005.9,960.9 2006.0,957.3 2006.1,957.6 2006.2,954.8 2006.3,957.3 2006.4,958.8 2006.4,944.0 2006.5,953.5 2006.6,955.8 2006.7,955.3 2006.8,955.1 2006.9,945.6 2007.0,951.0 2007.1,947.2 2007.2,972.2 2007.3,951.9 2007.4,947.6 2007.5,942.2 2007.6,953.7 2007.7,964.0 2007.7,950.4 2007.8,957.4 2007.9,964.5 2008.0,957.6 2008.1,947.7 2008.2,946.9 2008.3,949.7 2008.4,960.2 2008.5,939.2 2008.6,960.9 2008.7,954.5 2008.8,962.5 2008.9,946.3 2009.0,951.4 2009.0,948.8 2009.1,953.5 2009.2,954.5 2009.3,953.1 2009.4,965.2 2009.5,948.2 2009.6,948.7 2009.7,956.4 2009.8,954.2 2009.9,952.4 2010.0,944.9 2010.1,951.6 2010.2,953.9 2010.3,957.2 2010.4,963.0 2010.4,957.7 2010.5,953.8 2010.6,955.7 2010.7,953.8 2010.8,949.8 2010.9,951.7 2011.0,952.6 2011.1,950.4 2011.2,953.2 2011.3,954.5 2011.4,951.5 2011.5,964.5 2011.6,946.9 2011.7,961.9 2011.7,949.4 2011.8,954.3 2011.9,947.8 2012.0,954.1 2012.1,959.9 2012.2,948.0 2012.3,953.3 2012.4,953.7 2012.5,953.9 2012.6,948.5 2012.7,949.6 2012.8,953.1 2012.9,963.6 2013.0,956.8 2013.1,953.8 2013.1,943.9 2013.2,952.2 2013.3,955.0 2013.4,947.4 2013.5,955.2 2013.6,954.7 2013.7,953.6 2013.8,963.4 2013.9,948.9 2014.0,952.0 2014.1,956.2 2014.2,961.3 2014.3,953.3 2014.4,946.3 2014.4,958.4 2014.5,960.9 2014.6,952.1 2014.7,964.0 2014.8,967.7 2014.9,957.3 2015.0,958.7 2015.1,956.3 2015.2,957.9 2015.3,952.7 2015.4,956.0 2015.5,958.2 2015.6,957.4 2015.7,951.0 2015.8,949.1 2015.8,949.4 2015.9,950.6 2016.0,974.2 2016.1,960.7 2016.2,956.6 2016.3,953.6 2016.4,964.3 2016.5,946.4 2016.6,953.0 2016.7,958.5 2016.8,953.9 2016.9,956.9 2017.0,959.3 2017.1,951.9 2017.1,957.5 2017.2,963.2 2017.3,958.6 2017.4,955.6 2017.5,961.3 2017.6,947.5 2017.7,961.3 2017.8,944.6 2017.9,949.7 2018.0,960.5 2018.1,954.2 2018.2,948.0 2018.3,956.1 2018.4,962.0 2018.4,954.3 2018.5,943.3 2018.6,963.8 2018.7,951.8 2018.8,955.0 2018.9,955.7 2019.0,957.3 2019.1,956.9 2019.2,948.9 2019.3,951.6 2019.4,961.0 2019.5,945.9 2019.6,962.7 2019.7,951.2 2019.8,954.0 2019.8,948.1 2019.9,953.0 2020.0,948.9 2020.1,955.3 2020.2,949.4 2020.3,953.1 2020.4,942.5 2020.5,959.3 2020.6,948.2 2020.7,952.5 2020.8,954.2 2020.9,958.5 2021.0,952.6 2021.1,963.9 2021.1,963.3 2021.2,951.1 2021.3,964.4 2021.4,946.8 2021.5,956.9 2021.6,953.8 2021.7,954.8 2021.8,952.8 2021.9,956.9 2022.0,957.5 2022.1,956.1 2022.2,949.1 2022.3,948.7 2022.4,947.8 2022.5,953.2 2022.5,956.5 2022.6,965.3 2022.7,951.6 2022.8,950.4 2022.9,957.8 2023.0,950.7 2023.1,947.8 2023.2,954.9 2023.3,949.2 2023.4,953.6 2023.5,965.7 2023.6,958.3 2023.7,957.9 2023.8,952.4 2023.8,960.6 2023.9,958.1 2024.0,961.2 2024.1,955.8 2024.2,955.1 2024.3,949.8 2024.4,950.9 2024.5,954.6 2024.6,954.1 2024.7,954.9 2024.8,954.9 2024.9,946.5 2025.0,970.3 2025.1,956.7 2025.1,953.8 2025.2,949.0 2025.3,962.1 2025.4,953.6 2025.5,950.6 2025.6,958.3 2025.7,966.9 2025.8,957.8 2025.9,962.8 2026.0,951.9 2026.1,960.7 2026.2,945.2 2026.3,954.9 2026.4,960.5 2026.5,958.7 2026.5,962.2 2026.6,953.5 2026.7,947.0 2026.8,957.1 2026.9,950.4 2027.0,961.4 2027.1,954.0 2027.2,942.3 2027.3,964.1 2027.4,948.6 2027.5,948.9 2027.6,966.9 2027.7,964.3 2027.8,961.6 2027.8,950.2 2027.9,958.4 2028.0,956.9 2028.1,951.8 2028.2,955.2 2028.3,954.6 2028.4,957.8 2028.5,949.3 2028.6,960.6 2028.7,946.1 2028.8,958.0 2028.9,960.7 2029.0,952.2 2029.1,953.4 2029.2,967.7 2029.2,954.7 2029.3,964.0 2029.4,960.9 2029.5,951.4 2029.6,961.2 2029.7,954.0 2029.8,958.3 2029.9,944.7 2030.0,956.7 2030.1,963.1 2030.2,962.7 2030.3,961.5 2030.4,955.4 2030.5,956.2 2030.5,950.5 2030.6,955.2 2030.7,955.5 2030.8,954.3 2030.9,957.0 2031.0,954.5 2031.1,951.7 2031.2,951.7 2031.3,959.5 2031.4,966.7 2031.5,961.1 2031.6,954.7 2031.7,971.0 2031.8,959.1 2031.8,953.7 2031.9,959.7 2032.0,963.0 2032.1,946.1 2032.2,948.2 2032.3,957.9 2032.4,948.6 2032.5,948.8 2032.6,963.1 2032.7,940.7 2032.8,962.0 2032.9,958.0 2033.0,962.9 2033.1,956.0 2033.2,964.3 2033.2,956.6 2033.3,950.2 2033.4,955.3 2033.5,958.1 2033.6,947.5 2033.7,961.9 2033.8,950.9 2033.9,958.4 2034.0,955.3 2034.1,956.4 2034.2,955.9 2034.3,957.0 2034.4,961.3 2034.5,960.0 2034.5,954.1 2034.6,957.3 2034.7,963.6 2034.8,960.9 2034.9,960.8 2035.0,957.1 2035.1,955.7 2035.2,956.2 2035.3,960.6 2035.4,956.7 2035.5,964.9 2035.6,973.8 2035.7,957.2 2035.8,966.6 2035.9,962.4 2035.9,964.0 2036.0,953.2 2036.1,964.0 2036.2,955.3 2036.3,959.8 2036.4,964.2 2036.5,966.2 2036.6,954.3 2036.7,954.7 2036.8,952.5 2036.9,946.2 2037.0,955.4 2037.1,955.4 2037.2,957.8 2037.2,956.5 2037.3,959.2 2037.4,962.4 2037.5,945.4 2037.6,968.1 2037.7,955.7 2037.8,954.6 2037.9,956.3 2038.0,962.9 2038.1,958.3 2038.2,959.9 2038.3,963.6 2038.4,957.5 2038.5,959.7 2038.5,960.5 2038.6,953.3 2038.7,963.6 2038.8,954.7 2038.9,960.9 2039.0,954.8 2039.1,957.0 2039.2,956.0 2039.3,963.2 2039.4,962.0 2039.5,962.5 2039.6,956.4 2039.7,953.0 2039.8,951.1 2039.9,960.4 2039.9,957.0 2040.0,967.0 2040.1,970.5 2040.2,962.6 2040.3,961.4 2040.4,966.7 2040.5,968.0 2040.6,954.4 2040.7,962.3 2040.8,967.5 2040.9,944.0 2041.0,956.6 2041.1,959.5 2041.2,953.7 2041.2,962.1 2041.3,948.3 2041.4,966.7 2041.5,965.4 2041.6,958.5 2041.7,962.2 2041.8,949.4 2041.9,967.2 2042.0,962.1 2042.1,956.4 2042.2,954.5 2042.3,951.9 2042.4,955.8 2042.5,944.9 2042.6,960.6 2042.6,956.8 2042.7,952.8 2042.8,959.7 2042.9,959.6 2043.0,960.6 2043.1,961.7 2043.2,964.6 2043.3,961.2 2043.4,967.0 2043.5,955.7 2043.6,967.3 2043.7,945.9 2043.8,948.0 2043.9,951.5 2043.9,959.3 2044.0,961.5 2044.1,950.9 2044.2,957.0 2044.3,954.8 2044.4,962.3 2044.5,951.8 2044.6,962.8 2044.7,957.5 2044.8,968.3 2044.9,962.0 2045.0,955.2 2045.1,960.8 2045.2,960.8 2045.2,953.5 2045.3,958.6 2045.4,950.9 2045.5,972.4 2045.6,954.9 2045.7,955.2 2045.8,967.3 2045.9,965.9 2046.0,953.1 2046.1,964.5 2046.2,962.0 2046.3,954.8 2046.4,960.2 2046.5,955.5 2046.6,963.4 2046.6,956.6 2046.7,952.0 2046.8,956.4 2046.9,971.2 2047.0,954.5 2047.1,958.0 2047.2,963.7 2047.3,950.2 2047.4,968.6 2047.5,947.4 2047.6,962.1 2047.7,949.2 2047.8,958.7 2047.9,966.2 2047.9,957.9 2048.0,956.5 2048.1,955.3 2048.2,952.2 2048.3,963.7 2048.4,955.6 2048.5,954.1 2048.6,960.1 2048.7,964.0 2048.8,964.1 2048.9,954.1 2049.0,953.8 2049.1,963.4 2049.2,966.4 2049.3,951.3 2049.3,967.6 2049.4,957.6 2049.5,963.3 2049.6,968.8 2049.7,957.8 2049.8,959.7 2049.9,950.1 2050.0,945.3 2050.1,959.7 2050.2,952.6 2050.3,952.5 2050.4,961.7 2050.5,963.7 2050.6,949.2 2050.6,960.8 2050.7,958.8 2050.8,960.4 2050.9,959.4 2051.0,962.2 2051.1,954.3 2051.2,951.3 2051.3,960.9 2051.4,966.8 2051.5,958.4 2051.6,967.4 2051.7,962.5 2051.8,951.5 2051.9,945.1 2052.0,956.5 2052.0,965.0 2052.1,954.2 2052.2,971.9 2052.3,962.8 2052.4,949.8 2052.5,954.4 2052.6,966.9 2052.7,968.5 2052.8,953.8 2052.9,959.1 2053.0,962.3 2053.1,956.4 2053.2,962.2 2053.3,970.1 2053.3,954.1 2053.4,962.6 2053.5,964.7 2053.6,966.7 2053.7,957.4 2053.8,963.6 2053.9,955.2 2054.0,960.4 2054.1,952.5 2054.2,961.2 2054.3,962.7 2054.4,970.4 2054.5,965.3 2054.6,954.7 2054.6,941.0 2054.7,966.3 2054.8,965.0 2054.9,957.0 2055.0,956.1 2055.1,962.9 2055.2,958.5 2055.3,968.4 2055.4,960.7 2055.5,953.7 2055.6,949.4 2055.7,960.0 2055.8,960.5 2055.9,956.3 2056.0,952.5 2056.0,956.2 2056.1,963.4 2056.2,956.9 2056.3,953.4 2056.4,963.2 2056.5,966.9 2056.6,956.1 2056.7,956.9 2056.8,953.4 2056.9,958.5 2057.0,962.8 2057.1,961.6 2057.2,965.1 2057.3,964.6 2057.3,962.4 2057.4,961.9 2057.5,952.6 2057.6,966.3 2057.7,959.4 2057.8,962.6 2057.9,950.4 2058.0,957.6 2058.1,961.3 2058.2,954.4 2058.3,958.7 2058.4,961.9 2058.5,950.2 2058.6,955.0 2058.7,949.0 2058.7,952.4 2058.8,954.6 2058.9,958.4 2059.0,965.5 2059.1,955.0 2059.2,958.8 2059.3,955.2 2059.4,959.2 2059.5,963.2 2059.6,965.1 2059.7,955.1 2059.8,951.6 2059.9,960.9 2060.0,956.6 2060.0,951.1 2060.1,964.1 2060.2,961.2 2060.3,965.8 2060.4,952.3 2060.5,957.7 2060.6,961.9 2060.7,968.9 2060.8,960.3 2060.9,953.4 2061.0,961.0 2061.1,961.8 2061.2,955.5 2061.3,966.5 2061.3,959.0 2061.4,955.8 2061.5,963.9 2061.6,964.1 2061.7,957.9 2061.8,959.9 2061.9,960.7 2062.0,958.1 2062.1,958.0 2062.2,964.7 2062.3,963.2 2062.4,956.7 2062.5,952.8 2062.6,951.4 2062.7,964.3 2062.7,953.0 2062.8,954.9 2062.9,959.5 2063.0,956.5 2063.1,954.5 2063.2,948.9 2063.3,965.5 2063.4,955.9 2063.5,960.2 2063.6,960.6 2063.7,952.7 2063.8,954.6 2063.9,965.3 2064.0,961.1 2064.0,958.1 2064.1,967.7 2064.2,954.4 2064.3,959.9 2064.4,958.5 2064.5,957.5 2064.6,948.9 2064.7,959.2 2064.8,961.5 2064.9,949.3 2065.0,962.4 2065.1,962.5 2065.2,967.6 2065.3,953.2 2065.4,957.9 2065.4,956.7 2065.5,958.5 2065.6,960.3 2065.7,964.1 2065.8,964.1 2065.9,957.0 2066.0,958.8 2066.1,950.0 2066.2,964.0 2066.3,962.4 2066.4,965.5 2066.5,951.5 2066.6,966.7 2066.7,955.0 2066.7,951.2 2066.8,960.4 2066.9,955.3 2067.0,972.0 2067.1,961.8 2067.2,969.2 2067.3,958.6 2067.4,959.5 2067.5,964.1 2067.6,954.1 2067.7,957.5 2067.8,962.7 2067.9,962.6 2068.0,968.2 2068.0,960.7 2068.1,947.3 2068.2,963.8 2068.3,957.2 2068.4,962.8 2068.5,955.0 2068.6,957.1 2068.7,961.0 2068.8,970.0 2068.9,962.7 2069.0,952.7 2069.1,961.1 2069.2,956.0 2069.3,962.5 2069.4,970.6 2069.4,957.2 2069.5,957.8 2069.6,963.1 2069.7,961.9 2069.8,958.0 2069.9,963.2 2070.0,957.7 2070.1,960.9 2070.2,973.5 2070.3,960.6 2070.4,963.2 2070.5,964.6 2070.6,957.4 2070.7,962.6 2070.7,956.6 2070.8,953.4 2070.9,958.9 2071.0,968.8 2071.1,964.0 2071.2,954.5 2071.3,961.3 2071.4,964.5 2071.5,960.3 2071.6,956.9 2071.7,958.3 2071.8,956.0 2071.9,964.6 2072.0,961.4 2072.1,961.3 2072.1,960.0 2072.2,972.0 2072.3,961.2 2072.4,967.6 2072.5,951.7 2072.6,950.8 2072.7,950.1 2072.8,955.1 2072.9,962.7 2073.0,954.3 2073.1,961.0 2073.2,956.3 2073.3,965.1 2073.4,963.3 2073.4,957.2 2073.5,949.6 2073.6,960.0 2073.7,946.8 2073.8,943.9 2073.9,967.4 2074.0,960.1 2074.1,965.5 2074.2,960.7 2074.3,963.0 2074.4,960.3 2074.5,954.3 2074.6,954.5 2074.7,958.4 2074.7,959.9 2074.8,959.3 2074.9,959.2 2075.0,956.6 2075.1,959.9 2075.2,957.0 2075.3,967.6 2075.4,955.4 2075.5,949.8 2075.6,958.9 2075.7,968.2 2075.8,952.1 2075.9,961.9 2076.0,977.4 2076.1,961.3 2076.1,956.5 2076.2,957.8 2076.3,952.8 2076.4,956.4 2076.5,959.3 2076.6,971.5 2076.7,966.5 2076.8,959.0 2076.9,956.1 2077.0,966.0 2077.1,963.6 2077.2,957.3 2077.3,971.2 2077.4,971.4 2077.4,961.4 2077.5,958.6 2077.6,962.9 2077.7,973.5 2077.8,960.0 2077.9,967.8 2078.0,956.3 2078.1,960.7 2078.2,958.6 2078.3,956.4 2078.4,963.2 2078.5,955.3 2078.6,952.9 2078.7,957.8 2078.8,952.4 2078.8,963.8 2078.9,954.8 2079.0,958.6 2079.1,965.9 2079.2,960.6 2079.3,963.3 2079.4,963.4 2079.5,959.7 2079.6,954.0 2079.7,962.0 2079.8,959.5 2079.9,968.7 2080.0,959.6 2080.1,953.5 2080.1,955.5 2080.2,957.4 2080.3,963.3 2080.4,965.9 2080.5,960.8 2080.6,968.0 2080.7,967.4 2080.8,954.7 2080.9,965.6 2081.0,949.8 2081.1,968.6 2081.2,957.7 2081.3,967.1 2081.4,959.2 2081.5,966.3 2081.5,960.0 2081.6,961.2 2081.7,962.9 2081.8,957.3 2081.9,951.5 2082.0,963.7 2082.1,955.1 2082.2,959.8 2082.3,960.5 2082.4,947.5 2082.5,973.0 2082.6,964.3 2082.7,970.9 2082.8,962.2 2082.8,961.7 2082.9,938.1 2083.0,958.3 2083.1,949.9 2083.2,952.8 2083.3,962.9 2083.4,957.6 2083.5,950.6 2083.6,959.4 2083.7,959.2 2083.8,957.5 2083.9,969.2 2084.0,965.1 2084.1,958.4 2084.1,957.2 2084.2,965.8 2084.3,962.3 2084.4,961.1 2084.5,961.3 2084.6,956.4 2084.7,959.8 2084.8,959.5 2084.9,968.7 2085.0,966.6 2085.1,958.6 2085.2,969.8 2085.3,958.9 2085.4,964.3 2085.5,965.2 2085.5,956.7 2085.6,964.4 2085.7,965.5 2085.8,964.4 2085.9,960.2 2086.0,944.5 2086.1,972.9 2086.2,960.6 2086.3,962.0 2086.4,955.0 2086.5,962.7 2086.6,975.0 2086.7,952.8 2086.8,966.9 2086.8,960.9 2086.9,968.6 2087.0,967.0 2087.1,963.5 2087.2,955.6 2087.3,955.7 2087.4,964.1 2087.5,957.7 2087.6,962.8 2087.7,960.0 2087.8,959.7 2087.9,957.0 2088.0,964.3 2088.1,961.4 2088.2,959.4 2088.2,960.2 2088.3,965.4 2088.4,950.6 2088.5,963.4 2088.6,956.3 2088.7,959.5 2088.8,953.6 2088.9,973.5 2089.0,948.7 2089.1,962.0 2089.2,967.9 2089.3,960.0 2089.4,947.5 2089.5,957.8 2089.5,968.0 2089.6,963.5 2089.7,953.0 2089.8,969.0 2089.9,961.8 2090.0,962.5 2090.1,948.1 2090.2,962.5 2090.3,953.1 2090.4,964.8 2090.5,965.5 2090.6,954.9 2090.7,957.2 2090.8,970.9 2090.8,957.1 2090.9,957.1 2091.0,964.4 2091.1,959.6 2091.2,959.3 2091.3,963.7 2091.4,964.3 2091.5,964.8 2091.6,962.5 2091.7,968.6 2091.8,961.1 2091.9,969.6 2092.0,960.5 2092.1,961.4 2092.2,967.0 2092.2,955.9 2092.3,949.6 2092.4,953.2 2092.5,968.9 2092.6,953.5 2092.7,959.6 2092.8,961.2 2092.9,964.4 2093.0,961.0 2093.1,952.8 2093.2,957.8 2093.3,963.4 2093.4,964.9 2093.5,963.4 2093.5,957.5 2093.6,950.1 2093.7,967.2 2093.8,961.0 2093.9,963.2 2094.0,965.4 2094.1,958.7 2094.2,957.8 2094.3,969.3 2094.4,967.1 2094.5,954.0 2094.6,959.2 2094.7,958.0 2094.8,964.0 2094.9,963.2 2094.9,958.4 2095.0,963.9 2095.1,967.5 2095.2,961.0 2095.3,955.8 2095.4,967.1 2095.5,954.9 2095.6,957.0 2095.7,966.1 2095.8,961.0 2095.9,961.3 2096.0,957.4 2096.1,957.2 2096.2,968.7 2096.2,969.0 2096.3,955.1 2096.4,960.4 2096.5,958.7 2096.6,959.2 2096.7,952.2 2096.8,968.1 2096.9,954.8 2097.0,965.9 2097.1,956.9 2097.2,953.3 2097.3,969.2 2097.4,958.8 2097.5,962.8 2097.5,962.8 2097.6,960.9 2097.7,967.3 2097.8,966.8 2097.9,957.3 2098.0,956.2 2098.1,964.5 2098.2,969.6 2098.3,947.7 2098.4,954.8 2098.5,959.1 2098.6,967.2 2098.7,964.6 2098.8,959.8 2098.9,966.8 2098.9,951.9 2099.0,960.4 2099.1,958.9 2099.2,967.2 2099.3,966.5 2099.4,965.8 2099.5,959.6 2099.6,962.8 2099.7,962.9 2099.8,959.4 2099.9,959.9 2100.0,952.6 2100.1,962.4 2100.2,967.1 2100.2,961.3 2100.3,952.8 2100.4,964.5 2100.5,961.0 2100.6,963.3 2100.7,958.9 2100.8,959.8 2100.9,966.0 2101.0,962.6 2101.1,955.8 2101.2,954.9 2101.3,955.9 2101.4,956.3 2101.5,963.2 2101.6,963.4 2101.6,955.9 2101.7,968.1 2101.8,961.6 2101.9,972.1 2102.0,963.5 2102.1,965.4 2102.2,968.3 2102.3,958.0 2102.4,965.6 2102.5,963.5 2102.6,962.8 2102.7,965.6 2102.8,953.1 2102.9,964.2 2102.9,960.2 2103.0,968.9 2103.1,964.1 2103.2,963.2 2103.3,963.1 2103.4,964.7 2103.5,960.5 2103.6,952.4 2103.7,962.1 2103.8,962.2 2103.9,963.6 2104.0,946.7 2104.1,952.1 2104.2,958.2 2104.2,957.3 2104.3,965.5 2104.4,962.3 2104.5,960.2 2104.6,960.7 2104.7,966.4 2104.8,965.9 2104.9,958.4 2105.0,959.6 2105.1,973.6 2105.2,960.9 2105.3,954.1 2105.4,965.2 2105.5,960.0 2105.6,969.8 2105.6,956.6 2105.7,967.9 2105.8,968.7 2105.9,963.3 2106.0,947.8 2106.1,965.0 2106.2,968.8 2106.3,958.8 2106.4,960.1 2106.5,951.9 2106.6,968.8 2106.7,970.7 2106.8,963.3 2106.9,959.3 2106.9,959.4 2107.0,955.2 2107.1,970.1 2107.2,966.3 2107.3,962.3 2107.4,956.7 2107.5,958.8 2107.6,963.9 2107.7,967.4 2107.8,956.4 2107.9,956.0 2108.0,945.9 2108.1,962.6 2108.2,952.2 2108.3,968.5 2108.3,964.7 2108.4,965.4 2108.5,964.2 2108.6,966.6 2108.7,964.7 2108.8,961.9 2108.9,964.2 2109.0,957.7 2109.1,962.0 2109.2,961.6 2109.3,953.1 2109.4,959.8 2109.5,960.7 2109.6,961.7 2109.6,961.2 2109.7,958.3 2109.8,966.2 2109.9,955.0 2110.0,952.5 2110.1,954.9 2110.2,964.4 2110.3,970.8 2110.4,964.1 2110.5,960.7 2110.6,956.8 2110.7,962.7 2110.8,963.4 2110.9,952.8 2110.9,965.5 2111.0,955.5 2111.1,956.4 2111.2,969.3 2111.3,960.0 2111.4,964.9 2111.5,967.1 2111.6,972.3 2111.7,970.7 2111.8,959.3 2111.9,963.9 2112.0,960.1 2112.1,967.8 2112.2,963.5 2112.3,963.2 2112.3,970.6 2112.4,971.3 2112.5,959.1 2112.6,960.8 2112.7,967.1 2112.8,962.3 2112.9,957.9 2113.0,951.1 2113.1,966.8 2113.2,958.1 2113.3,949.5 2113.4,961.3 2113.5,953.2 2113.6,976.6 2113.6,953.4 2113.7,961.8 2113.8,972.6 2113.9,957.2 2114.0,955.7 2114.1,954.8 2114.2,954.8 2114.3,961.9 2114.4,966.1 2114.5,964.4 2114.6,961.9 2114.7,959.4 2114.8,964.5 2114.9,961.5 2115.0,956.7 2115.0,959.9 2115.1,948.5 2115.2,949.3 2115.3,968.4 2115.4,965.1 2115.5,969.3 2115.6,968.5 2115.7,958.6 2115.8,967.5 2115.9,967.8 2116.0,963.4 2116.1,957.2 2116.2,963.9 2116.3,963.9 2116.3,956.5 2116.4,959.1 2116.5,959.2 2116.6,956.3 2116.7,967.7 2116.8,960.6 2116.9,965.5 2117.0,955.9 2117.1,957.1 2117.2,967.9 2117.3,954.1 2117.4,968.6 2117.5,955.1 2117.6,960.7 2117.7,966.9 2117.7,968.3 2117.8,963.6 2117.9,962.0 2118.0,966.0 2118.1,958.6 2118.2,970.0 2118.3,961.9 2118.4,961.9 2118.5,972.7 2118.6,960.1 2118.7,969.2 2118.8,976.4 2118.9,965.4 2119.0,963.2 2119.0,956.7 2119.1,964.7 2119.2,953.4 2119.3,953.6 2119.4,955.6 2119.5,954.2 2119.6,959.9 2119.7,965.2 2119.8,958.2 2119.9,956.3 2120.0,960.5 2120.1,963.4 2120.2,971.0 2120.3,958.0 2120.3,959.9 2120.4,969.5 2120.5,961.4 2120.6,957.8 2120.7,962.6 2120.8,957.4 2120.9,957.6 2121.0,970.5 2121.1,963.7 2121.2,959.2 2121.3,956.6 2121.4,953.8 2121.5,973.1 2121.6,962.4 2121.7,957.8 2121.7,954.9 2121.8,952.2 2121.9,967.4 2122.0,964.2 2122.1,968.1 2122.2,957.2 2122.3,969.7 2122.4,955.1 2122.5,956.6 2122.6,959.2 2122.7,974.6 2122.8,966.0 2122.9,957.7 2123.0,970.3 2123.0,963.4 2123.1,962.6 2123.2,956.9 2123.3,960.4 2123.4,960.4 2123.5,964.6 2123.6,962.0 2123.7,962.8 2123.8,957.8 2123.9,963.1 2124.0,956.0 2124.1,971.9 2124.2,955.1 2124.3,963.1 2124.4,955.5 2124.4,961.6 2124.5,957.1 2124.6,953.4 2124.7,965.3 2124.8,961.6 2124.9,963.1 2125.0,960.9 2125.1,971.5 2125.2,963.1 2125.3,963.6 2125.4,966.7 2125.5,963.2 2125.6,971.1 2125.7,954.0 2125.7,959.5 2125.8,951.2 2125.9,967.2 2126.0,968.9 2126.1,960.5 2126.2,971.8 2126.3,960.8 2126.4,966.2 2126.5,964.1 2126.6,960.7 2126.7,961.9 2126.8,951.3 2126.9,958.5 2127.0,969.7 2127.0,956.5 2127.1,970.0 2127.2,961.7 2127.3,969.4 2127.4,967.0 2127.5,954.5 2127.6,965.4 2127.7,965.9 2127.8,965.5 2127.9,964.0 2128.0,953.8 2128.1,969.1 2128.2,969.4 2128.3,958.8 2128.4,971.5 2128.4,964.4 2128.5,955.6 2128.6,962.2 2128.7,965.0 2128.8,966.4 2128.9,967.6 2129.0,965.7 2129.1,961.5 2129.2,955.0 2129.3,956.7 2129.4,965.6 2129.5,966.5 2129.6,958.2 2129.7,972.9 2129.7,964.9 2129.8,964.2 2129.9,968.8 2130.0,968.1 2130.1,960.3 2130.2,972.0 2130.3,967.7 2130.4,966.1 2130.5,961.9 2130.6,970.3 2130.7,956.1 2130.8,964.2 2130.9,963.9 2131.0,964.5 2131.1,966.3 2131.1,968.1 2131.2,955.7 2131.3,961.3 2131.4,963.1 2131.5,956.7 2131.6,966.6 2131.7,958.8 2131.8,962.3 2131.9,967.6 2132.0,958.1 2132.1,971.2 2132.2,958.7 2132.3,967.6 2132.4,960.1 2132.4,954.5 2132.5,959.2 2132.6,966.0 2132.7,962.7 2132.8,964.7 2132.9,969.4 2133.0,969.0 2133.1,962.3 2133.2,959.5 2133.3,972.8 2133.4,963.0 2133.5,959.7 2133.6,962.0 2133.7,968.4 2133.7,956.6 2133.8,969.7 2133.9,958.9 2134.0,953.4 2134.1,974.5 2134.2,961.2 2134.3,960.8 2134.4,961.4 2134.5,967.1 2134.6,964.5 2134.7,970.8 2134.8,961.9 2134.9,959.6 2135.0,966.6 2135.1,968.1 2135.1,965.5 2135.2,962.8 2135.3,962.4 2135.4,963.3 2135.5,962.3 2135.6,970.3 2135.7,978.5 2135.8,959.2 2135.9,954.5 2136.0,971.0 2136.1,966.6 2136.2,961.0 2136.3,957.3 2136.4,959.0 2136.4,955.4 2136.5,963.1 2136.6,960.4 2136.7,960.4 2136.8,965.3 2136.9,955.9 2137.0,959.2 2137.1,957.2 2137.2,965.1 2137.3,956.9 2137.4,968.9 2137.5,960.5 2137.6,977.9 2137.7,968.7 2137.8,958.6 2137.8,965.4 2137.9,961.8 2138.0,972.2 2138.1,953.9 2138.2,959.4 2138.3,963.0 2138.4,960.5 2138.5,961.0 2138.6,954.7 2138.7,961.6 2138.8,971.4 2138.9,964.3 2139.0,955.5 2139.1,959.6 2139.1,965.3 2139.2,959.4 2139.3,962.2 2139.4,959.4 2139.5,972.0 2139.6,968.1 2139.7,959.1 2139.8,964.2 2139.9,960.9 2140.0,951.6 2140.1,964.7 2140.2,961.5 2140.3,966.1 2140.4,966.5 2140.4,963.3 2140.5,971.3 2140.6,975.0 2140.7,955.1 2140.8,963.5 2140.9,956.4 2141.0,962.2 2141.1,962.1 2141.2,959.1 2141.3,958.8 2141.4,969.9 2141.5,956.0 2141.6,968.5 2141.7,961.8 2141.8,948.2 2141.8,962.5 2141.9,953.3 2142.0,964.9 2142.1,959.4 2142.2,962.7 2142.3,960.5 2142.4,967.9 2142.5,968.2 2142.6,961.0 2142.7,971.9 2142.8,967.8 2142.9,959.3 2143.0,966.5 2143.1,968.1 2143.1,969.3 2143.2,962.1 2143.3,965.1 2143.4,962.1 2143.5,964.1 2143.6,952.3 2143.7,965.5 2143.8,974.2 2143.9,962.3 2144.0,963.0 2144.1,962.1 2144.2,972.2 2144.3,956.5 2144.4,963.2 2144.5,963.2 2144.5,972.1 2144.6,960.3 2144.7,963.4 2144.8,955.2 2144.9,965.4 2145.0,970.1 2145.1,962.3 2145.2,968.3 2145.3,960.6 2145.4,969.2 2145.5,963.8 2145.6,964.3 2145.7,963.2 2145.8,966.0 2145.8,967.7 2145.9,963.4 2146.0,966.4 2146.1,962.2 2146.2,964.6 2146.3,975.9 2146.4,963.4 2146.5,955.1 2146.6,961.3 2146.7,959.6 2146.8,960.4 2146.9,965.7 2147.0,970.7 2147.1,958.4 2147.1,957.0 2147.2,959.8 2147.3,960.6 2147.4,960.8 2147.5,963.2 2147.6,961.5 2147.7,963.0 2147.8,961.2 2147.9,968.5 2148.0,966.7 2148.1,959.8 2148.2,965.0 2148.3,976.9 2148.4,962.4 2148.5,976.1 2148.5,952.2 2148.6,959.0 2148.7,959.3 2148.8,966.9 2148.9,969.5 2149.0,964.3 2149.1,963.0 2149.2,967.5 2149.3,962.2 2149.4,959.2 2149.5,959.7 2149.6,969.0 2149.7,975.3 2149.8,963.1 2149.8,966.8 2149.9,960.6 2150.0,953.8 2150.1,953.8 2150.2,961.5 2150.3,956.8 2150.4,953.8 2150.5,962.8 2150.6,961.5 2150.7,958.3 2150.8,963.3 2150.9,965.9 2151.0,967.3 2151.1,963.0 2151.2,966.6 2151.2,958.6 2151.3,965.0 2151.4,954.8 2151.5,956.2 2151.6,970.1 2151.7,957.0 2151.8,965.3 2151.9,955.3 2152.0,960.2 2152.1,963.3 2152.2,959.3 2152.3,966.2 2152.4,961.2 2152.5,960.9 2152.5,963.9 2152.6,960.9 2152.7,968.7 2152.8,959.9 2152.9,969.8 2153.0,959.5 2153.1,960.4 2153.2,959.1 2153.3,966.2 2153.4,946.0 2153.5,964.3 2153.6,962.2 2153.7,967.2 2153.8,955.0 2153.9,965.6 2153.9,957.4 2154.0,968.3 2154.1,961.3 2154.2,965.1 2154.3,957.8 2154.4,964.6 2154.5,967.8 2154.6,960.5 2154.7,969.7 2154.8,968.3 2154.9,958.7 2155.0,973.4 2155.1,958.7 2155.2,965.2 2155.2,968.1 2155.3,961.6 2155.4,959.4 2155.5,966.2 2155.6,963.9 2155.7,958.5 2155.8,958.7 2155.9,963.2 2156.0,967.2 2156.1,968.2 2156.2,966.3 2156.3,959.1 2156.4,959.7 2156.5,961.2 2156.5,955.2 2156.6,964.6 2156.7,965.0 2156.8,965.1 2156.9,952.3 2157.0,974.4 2157.1,961.3 2157.2,960.4 2157.3,962.6 2157.4,949.9 2157.5,956.4 2157.6,958.6 2157.7,967.9 2157.8,960.1 2157.9,964.9 2157.9,962.6 2158.0,961.8 2158.1,965.5 2158.2,959.4 2158.3,953.8 2158.4,957.1 2158.5,961.7 2158.6,973.6 2158.7,956.8 2158.8,956.9 2158.9,963.9 2159.0,965.5 2159.1,959.2 2159.2,967.3 2159.2,958.4 2159.3,968.8 2159.4,967.9 2159.5,962.7 2159.6,970.9 2159.7,962.8 2159.8,959.9 2159.9,970.1 2160.0,957.7 2160.1,965.9 2160.2,959.8 2160.3,961.6 2160.4,965.3 2160.5,965.7 2160.6,972.3 2160.6,966.7 2160.7,967.1 2160.8,953.7 2160.9,957.2 2161.0,970.4 2161.1,958.4 2161.2,961.6 2161.3,964.9 2161.4,960.3 2161.5,958.4 2161.6,966.0 2161.7,964.3 2161.8,961.9 2161.9,968.3 2161.9,961.8 2162.0,963.3 2162.1,966.6 2162.2,967.5 2162.3,961.1 2162.4,958.0 2162.5,961.0 2162.6,967.5 2162.7,958.7 2162.8,961.9 2162.9,959.6 2163.0,956.4 2163.1,967.8 2163.2,963.6 2163.2,966.1 2163.3,967.6 2163.4,951.8 2163.5,957.7 2163.6,972.6 2163.7,960.5 2163.8,965.9 2163.9,956.5 2164.0,962.4 2164.1,963.8 2164.2,962.1 2164.3,960.7 2164.4,962.7 2164.5,964.0 2164.6,963.6 2164.6,960.0 2164.7,969.1 2164.8,962.9 2164.9,963.5 2165.0,965.5 2165.1,958.8 2165.2,970.0 2165.3,964.9 2165.4,967.5 2165.5,959.9 2165.6,965.4 2165.7,962.6 2165.8,960.7 2165.9,971.6 2165.9,960.4 2166.0,967.0 2166.1,964.3 2166.2,963.5 2166.3,958.4 2166.4,958.8 2166.5,953.2 2166.6,961.9 2166.7,965.5 2166.8,965.6 2166.9,959.3 2167.0,954.1 2167.1,961.0 2167.2,966.1 2167.3,961.4 2167.3,961.5 2167.4,962.7 2167.5,967.0 2167.6,976.9 2167.7,965.8 2167.8,957.1 2167.9,961.7 2168.0,975.0 2168.1,962.9 2168.2,973.1 2168.3,952.0 2168.4,961.9 2168.5,969.5 2168.6,958.5 2168.6,967.2 2168.7,959.8 2168.8,962.8 2168.9,969.4 2169.0,959.3 2169.1,970.3 2169.2,955.5 2169.3,962.6 2169.4,968.6 2169.5,972.9 2169.6,954.0 2169.7,954.9 2169.8,969.8 2169.9,953.9 2169.9,962.0 2170.0,964.1 2170.1,963.4 2170.2,964.4 2170.3,955.1 2170.4,962.1 2170.5,973.1 2170.6,951.4 2170.7,958.1 2170.8,968.9 2170.9,964.9 2171.0,967.9 2171.1,962.7 2171.2,960.8 2171.3,961.6 2171.3,966.2 2171.4,967.4 2171.5,958.3 2171.6,963.5 2171.7,950.6 2171.8,967.4 2171.9,958.6 2172.0,962.7 2172.1,967.1 2172.2,955.5 2172.3,962.3 2172.4,967.9 2172.5,964.7 2172.6,957.4 2172.6,969.7 2172.7,955.4 2172.8,959.2 2172.9,964.5 2173.0,955.5 2173.1,953.4 2173.2,959.7 2173.3,962.0 2173.4,952.8 2173.5,954.8 2173.6,968.1 2173.7,964.1 2173.8,964.2 2173.9,965.3 2174.0,971.2 2174.0,958.0 2174.1,962.5 2174.2,962.5 2174.3,955.2 2174.4,966.1 2174.5,963.3 2174.6,961.5 2174.7,965.4 2174.8,963.6 2174.9,958.8 2175.0,963.1 2175.1,955.7 2175.2,967.2 2175.3,961.9 2175.3,970.9 2175.4,963.7 2175.5,966.9 2175.6,955.5 2175.7,958.9 2175.8,960.2 2175.9,952.8 2176.0,955.0 2176.1,959.0 2176.2,966.8 2176.3,971.0 2176.4,963.2 2176.5,965.0 2176.6,966.6 2176.6,964.6 2176.7,972.2 2176.8,954.8 2176.9,969.4 2177.0,966.8 2177.1,959.9 2177.2,972.1 2177.3,957.9 2177.4,957.8 2177.5,964.8 2177.6,969.0 2177.7,965.7 2177.8,973.3 2177.9,955.3 2178.0,962.8 2178.0,967.1 2178.1,968.1 2178.2,959.9 2178.3,954.7 2178.4,970.1 2178.5,966.3 2178.6,972.9 2178.7,959.3 2178.8,962.2 2178.9,950.5 2179.0,963.8 2179.1,965.5 2179.2,967.0 2179.3,958.3 2179.3,972.2 2179.4,958.9 2179.5,961.7 2179.6,965.9 2179.7,968.1 2179.8,957.2 2179.9,952.7 2180.0,965.6 2180.1,960.1 2180.2,953.4 2180.3,966.6 2180.4,964.5 2180.5,969.9 2180.6,963.9 2180.7,963.6 2180.7,965.4 2180.8,967.2 2180.9,971.9 2181.0,970.6 2181.1,968.6 2181.2,959.5 2181.3,966.0 2181.4,967.9 2181.5,959.4 2181.6,960.0 2181.7,967.3 2181.8,966.6 2181.9,959.4 2182.0,961.1 2182.0,967.8 2182.1,961.8 2182.2,963.3 2182.3,956.9 2182.4,968.0 2182.5,958.2 2182.6,960.7 2182.7,968.8 2182.8,957.2 2182.9,958.0 2183.0,970.5 2183.1,952.0 2183.2,969.6 2183.3,968.3 2183.3,964.9 2183.4,958.8 2183.5,959.9 2183.6,963.7 2183.7,955.5 2183.8,960.9 2183.9,955.3 2184.0,947.3 2184.1,962.1 2184.2,977.7 2184.3,965.7 2184.4,969.2 2184.5,962.6 2184.6,962.6 2184.7,970.1 2184.7,969.7 2184.8,964.6 2184.9,964.3 2185.0,977.9 2185.1,957.7 2185.2,963.0 2185.3,963.2 2185.4,961.5 2185.5,969.0 2185.6,963.5 2185.7,957.3 2185.8,957.1 2185.9,960.5 2186.0,964.8 2186.0,967.8 2186.1,955.7 2186.2,960.2 2186.3,965.6 2186.4,975.6 2186.5,968.1 2186.6,974.2 2186.7,956.1 2186.8,962.1 2186.9,967.4 2187.0,964.8 2187.1,948.3 2187.2,956.2 2187.3,970.9 2187.4,963.9 2187.4,970.3 2187.5,973.1 2187.6,962.2 2187.7,949.3 2187.8,954.2 2187.9,962.9 2188.0,965.4 2188.1,962.0 2188.2,957.2 2188.3,971.6 2188.4,974.0 2188.5,952.3 2188.6,961.6 2188.7,953.9 2188.7,961.8 2188.8,954.7 2188.9,966.8 2189.0,960.3 2189.1,954.2 2189.2,957.3 2189.3,965.9 2189.4,958.0 2189.5,967.1 2189.6,971.5 2189.7,960.2 2189.8,955.1 2189.9,958.3 2190.0,970.5 2190.1,958.2 2190.1,959.3 2190.2,965.9 2190.3,977.7 2190.4,957.3 2190.5,958.1 2190.6,960.3 2190.7,973.3 2190.8,971.9 2190.9,957.3 2191.0,958.6 2191.1,960.4 2191.2,964.7 2191.3,960.9 2191.4,966.4 2191.4,965.1 2191.5,968.3 2191.6,961.7 2191.7,965.7 2191.8,957.7 2191.9,959.0 2192.0,968.0 2192.1,952.5 2192.2,969.8 2192.3,960.6 2192.4,956.9 2192.5,955.7 2192.6,976.2 2192.7,957.4 2192.7,956.1 2192.8,954.8 2192.9,976.3 2193.0,967.2 2193.1,963.8 2193.2,965.9 2193.3,955.4 2193.4,967.3 2193.5,956.1 2193.6,960.0 2193.7,971.8 2193.8,969.1 2193.9,966.0 2194.0,962.7 2194.1,957.4 2194.1,964.4 2194.2,957.9 2194.3,972.5 2194.4,981.2 2194.5,965.3 2194.6,960.6 2194.7,965.4 2194.8,969.2 2194.9,960.8 2195.0,951.9 2195.1,963.9 2195.2,967.6 2195.3,968.3 2195.4,951.7 2195.4,963.5 2195.5,959.7 2195.6,956.1 2195.7,957.0 2195.8,968.7 2195.9,957.7 2196.0,958.3 2196.1,960.4 2196.2,957.4 2196.3,966.6 2196.4,963.7 2196.5,966.4 2196.6,958.8 2196.7,967.2 2196.8,961.0 2196.8,969.8 2196.9,964.0 2197.0,965.4 2197.1,964.0 2197.2,962.5 2197.3,964.4 2197.4,964.6 2197.5,975.5 2197.6,956.8 2197.7,967.0 2197.8,964.8 2197.9,968.2 2198.0,957.4 2198.1,968.7 2198.1,960.4 2198.2,956.4 2198.3,953.6 2198.4,956.3 2198.5,959.7 2198.6,970.4 2198.7,955.7 2198.8,956.3 2198.9,958.4 2199.0,958.6 2199.1,962.9 2199.2,966.4 2199.3,957.0 2199.4,955.8 2199.4,969.4 2199.5,957.9 2199.6,961.9 2199.7,958.1 2199.8,961.7 2199.9,956.8 2200.0,957.3 2200.1,958.1 2200.2,971.4 2200.3,958.5 2200.4,963.0 2200.5,969.9 2200.6,959.1 2200.7,971.3 2200.8,958.0 2200.8,953.3 2200.9,966.2 2201.0,957.9 2201.1,960.6 2201.2,959.5 2201.3,971.2 2201.4,959.7 2201.5,962.5 2201.6,958.9 2201.7,963.2 2201.8,956.8 2201.9,961.6 2202.0,959.3 2202.1,955.2 2202.1,962.2 2202.2,957.4 2202.3,961.9 2202.4,960.2 2202.5,966.3 2202.6,958.7 2202.7,956.1 2202.8,963.7 2202.9,958.6 2203.0,960.7 2203.1,969.7 2203.2,961.2 2203.3,955.5 2203.4,966.0 2203.5,973.6 2203.5,962.0 2203.6,966.9 2203.7,952.2 2203.8,963.4 2203.9,963.2 2204.0,966.9 2204.1,961.8 2204.2,966.5 2204.3,968.4 2204.4,963.6 2204.5,967.9 2204.6,955.6 2204.7,970.0 2204.8,963.6 2204.8,967.2 2204.9,971.2 2205.0,953.6 2205.1,975.4 2205.2,954.8 2205.3,971.4 2205.4,962.7 2205.5,950.1 2205.6,975.5 2205.7,971.1 2205.8,955.6 2205.9,962.2 2206.0,966.4 2206.1,963.4 2206.1,968.8 2206.2,962.5 2206.3,954.6 2206.4,965.4 2206.5,962.4 2206.6,956.3 2206.7,951.7 2206.8,966.6 2206.9,961.5 2207.0,966.5 2207.1,966.9 2207.2,965.5 2207.3,966.9 2207.4,973.2 2207.5,974.7 2207.5,967.4 2207.6,962.5 2207.7,956.2 2207.8,966.3 2207.9,964.2 2208.0,959.4 2208.1,959.0 2208.2,963.9 2208.3,963.5 2208.4,952.4 2208.5,965.2 2208.6,966.1 2208.7,972.6 2208.8,960.7 2208.8,964.8 2208.9,952.2 2209.0,965.2 2209.1,958.6 2209.2,957.9 2209.3,953.7 2209.4,970.8 2209.5,954.2 2209.6,963.2 2209.7,963.9 2209.8,965.0 2209.9,965.5 2210.0,965.2 2210.1,976.7 2210.2,960.3 2210.2,962.9 2210.3,968.7 2210.4,963.6 2210.5,950.0 2210.6,961.1 2210.7,965.5 2210.8,953.4 2210.9,967.8 2211.0,964.2 2211.1,966.5 2211.2,964.6 2211.3,959.1 2211.4,959.9 2211.5,967.5 2211.5,964.0 2211.6,962.8 2211.7,965.6 2211.8,963.5 2211.9,967.4 2212.0,967.5 2212.1,963.0 2212.2,969.2 2212.3,960.9 2212.4,964.4 2212.5,968.6 2212.6,966.8 2212.7,966.0 2212.8,964.2 2212.8,962.7 2212.9,964.5 2213.0,968.3 2213.1,955.1 2213.2,958.1 2213.3,962.7 2213.4,957.9 2213.5,961.4 2213.6,964.8 2213.7,962.8 2213.8,948.1 2213.9,957.6 2214.0,957.4 2214.1,965.6 2214.2,959.9 2214.2,950.4 2214.3,960.9 2214.4,957.2 2214.5,956.1 2214.6,959.7 2214.7,954.3 2214.8,962.0 2214.9,960.5 2215.0,966.9 2215.1,948.3 2215.2,961.6 2215.3,962.7 2215.4,955.4 2215.5,966.1 2215.5,963.4 2215.6,967.8 2215.7,963.2 2215.8,965.6 2215.9,960.3 2216.0,964.1 2216.1,966.8 2216.2,965.0 2216.3,964.0 2216.4,966.3 2216.5,958.0 2216.6,959.5 2216.7,962.5 2216.8,970.1 2216.9,960.4 2216.9,970.7 2217.0,962.3 2217.1,963.1 2217.2,966.7 2217.3,968.1 2217.4,967.3 2217.5,951.7 2217.6,964.9 2217.7,964.6 2217.8,957.9 2217.9,961.0 2218.0,957.4 2218.1,970.4 2218.2,969.6 2218.2,944.4 2218.3,963.6 2218.4,965.0 2218.5,962.5 2218.6,957.8 2218.7,970.2 2218.8,961.8 2218.9,963.6 2219.0,959.6 2219.1,962.4 2219.2,966.4 2219.3,968.3 2219.4,977.2 2219.5,957.8 2219.6,971.7 2219.6,965.7 2219.7,954.0 2219.8,965.8 2219.9,959.9 2220.0,964.6 2220.1,959.4 2220.2,963.2 2220.3,966.3 2220.4,955.7 2220.5,964.9 2220.6,971.0 2220.7,965.3 2220.8,960.4 2220.9,969.7 2220.9,959.0 2221.0,959.1 2221.1,951.4 2221.2,967.1 2221.3,959.7 2221.4,972.9 2221.5,965.8 2221.6,962.8 2221.7,961.1 2221.8,963.7 2221.9,963.9 2222.0,966.9 2222.1,965.9 2222.2,961.7 2222.2,960.3 2222.3,959.8 2222.4,957.8 2222.5,956.7 2222.6,973.6 2222.7,966.4 2222.8,964.3 2222.9,967.1 2223.0,957.5 2223.1,959.2 2223.2,964.0 2223.3,962.8 2223.4,956.3 2223.5,965.4 2223.6,965.2 2223.6,958.3 2223.7,960.8 2223.8,955.4 2223.9,961.4 2224.0,959.2 2224.1,966.5 2224.2,968.8 2224.3,963.5 2224.4,978.4 2224.5,961.1 2224.6,958.0 2224.7,963.0 2224.8,964.7 2224.9,957.3 2224.9,963.7 2225.0,957.9 2225.1,951.1 2225.2,959.4 2225.3,958.2 2225.4,960.7 2225.5,962.0 2225.6,961.9 2225.7,963.1 2225.8,957.3 2225.9,972.6 2226.0,965.0 2226.1,959.8 2226.2,968.2 2226.3,964.1 2226.3,967.4 2226.4,961.0 2226.5,958.6 2226.6,955.3 2226.7,960.6 2226.8,967.5 2226.9,962.0 2227.0,960.3 2227.1,955.5 2227.2,975.5 2227.3,961.4 2227.4,973.8 2227.5,959.4 2227.6,961.0 2227.6,960.7 2227.7,958.5 2227.8,961.3 2227.9,967.1 2228.0,961.5 2228.1,956.7 2228.2,964.1 2228.3,963.3 2228.4,970.3 2228.5,956.9 2228.6,966.3 2228.7,967.7 2228.8,966.0 2228.9,968.3 2228.9,964.9 2229.0,956.3 2229.1,959.0 2229.2,955.5 2229.3,955.1 2229.4,968.5 2229.5,960.8 2229.6,955.1 2229.7,950.6 2229.8,971.4 2229.9,971.5 2230.0,960.9 2230.1,965.4 2230.2,969.1 2230.3,961.4 2230.3,967.9 2230.4,976.3 2230.5,963.6 2230.6,962.8 2230.7,959.9 2230.8,958.2 2230.9,962.5 2231.0,964.8 2231.1,967.3 2231.2,972.8 2231.3,966.0 2231.4,957.9 2231.5,959.9 2231.6,952.0 2231.6,964.4 2231.7,973.6 2231.8,958.9 2231.9,957.7 2232.0,970.1 2232.1,972.6 2232.2,962.7 2232.3,959.5 2232.4,969.8 2232.5,965.5 2232.6,967.9 2232.7,970.2 2232.8,971.0 2232.9,962.8 2233.0,965.6 2233.0,967.3 2233.1,978.2 2233.2,953.7 2233.3,968.9 2233.4,964.3 2233.5,970.0 2233.6,961.4 2233.7,972.1 2233.8,963.0 2233.9,964.6 2234.0,958.4 2234.1,969.7 2234.2,967.2 2234.3,964.9 2234.3,951.8 2234.4,971.9 2234.5,962.0 2234.6,967.3 2234.7,961.9 2234.8,959.9 2234.9,962.8 2235.0,962.1 2235.1,962.0 2235.2,966.9 2235.3,964.8 2235.4,972.9 2235.5,965.6 2235.6,967.9 2235.6,965.1 2235.7,959.5 2235.8,961.5 2235.9,961.0 2236.0,957.4 2236.1,977.0 2236.2,961.2 2236.3,963.8 2236.4,964.2 2236.5,971.0 2236.6,960.6 2236.7,957.2 2236.8,957.9 2236.9,964.1 2237.0,960.1 2237.0,958.5 2237.1,953.4 2237.2,956.8 2237.3,962.9 2237.4,963.1 2237.5,962.7 2237.6,962.4 2237.7,966.5 2237.8,959.3 2237.9,967.6 2238.0,968.2 2238.1,961.7 2238.2,966.9 2238.3,965.1 2238.3,975.4 2238.4,959.2 2238.5,963.7 2238.6,964.4 2238.7,961.1 2238.8,962.5 2238.9,967.6 2239.0,952.4 2239.1,966.2 2239.2,958.2 2239.3,953.4 2239.4,967.2 2239.5,963.2 2239.6,968.3 2239.7,957.8 2239.7,965.6 2239.8,969.9 2239.9,956.3 2240.0,958.5 2240.1,968.7 2240.2,957.1 2240.3,962.6 2240.4,948.4 2240.5,954.1 2240.6,966.8 2240.7,965.2 2240.8,968.6 2240.9,963.0 2241.0,963.5 2241.0,959.6 2241.1,963.2 2241.2,972.0 2241.3,968.3 2241.4,955.8 2241.5,957.2 2241.6,964.6 2241.7,964.5 2241.8,964.7 2241.9,963.6 2242.0,973.2 2242.1,958.7 2242.2,967.4 2242.3,962.9 2242.3,977.9 2242.4,962.4 2242.5,956.2 2242.6,976.3 2242.7,955.2 2242.8,961.1 2242.9,967.9 2243.0,972.7 2243.1,957.2 2243.2,962.3 2243.3,960.4 2243.4,965.3 2243.5,968.2 2243.6,958.8 2243.7,969.1 2243.7,958.7 2243.8,973.1 2243.9,969.0 2244.0,971.9 2244.1,956.4 2244.2,973.6 2244.3,970.2 2244.4,960.0 2244.5,962.5 2244.6,951.4 2244.7,953.4 2244.8,960.3 2244.9,959.9 2245.0,974.0 2245.0,968.7 2245.1,965.6 2245.2,964.8 2245.3,971.5 2245.4,969.0 2245.5,968.5 2245.6,957.8 2245.7,961.4 2245.8,965.6 2245.9,965.3 2246.0,962.1 2246.1,967.7 2246.2,965.2 2246.3,973.5 2246.4,960.0 2246.4,958.4 2246.5,961.7 2246.6,961.1 2246.7,961.7 2246.8,952.3 2246.9,962.6 2247.0,971.2 2247.1,969.7 2247.2,959.8 2247.3,957.8 2247.4,959.4 2247.5,959.0 2247.6,962.7 2247.7,972.2 2247.7,967.8 2247.8,974.0 2247.9,966.0 2248.0,971.5 2248.1,963.2 2248.2,964.8 2248.3,974.8 2248.4,959.7 2248.5,959.5 2248.6,971.6 2248.7,963.0 2248.8,959.8 2248.9,965.4 2249.0,959.0 2249.0,962.7 2249.1,957.8 2249.2,962.8 2249.3,964.8 2249.4,960.9 2249.5,959.4 2249.6,962.4 2249.7,966.4 2249.8,968.3 2249.9,966.0 2250.0,967.1 2250.1,962.7 2250.2,962.9 2250.3,964.3 2250.4,963.9 2250.4,962.9 2250.5,955.0 2250.6,957.0 2250.7,967.1 2250.8,961.5 2250.9,965.7 2251.0,964.4 2251.1,965.3 2251.2,967.4 2251.3,971.6 2251.4,977.8 2251.5,962.7 2251.6,957.2 2251.7,969.0 2251.7,961.0 2251.8,966.1 2251.9,962.3 2252.0,968.5 2252.1,965.2 2252.2,964.5 2252.3,977.4 2252.4,962.7 2252.5,964.7 2252.6,978.0 2252.7,960.2 2252.8,964.1 2252.9,962.8 2253.0,961.9 2253.1,966.3 2253.1,970.0 2253.2,966.5 2253.3,966.4 2253.4,951.3 2253.5,953.4 2253.6,966.7 2253.7,966.3 2253.8,962.1 2253.9,960.7 2254.0,967.9 2254.1,969.7 2254.2,952.9 2254.3,957.9 2254.4,972.8 2254.4,974.0 2254.5,968.7 2254.6,962.7 2254.7,960.8 2254.8,965.9 2254.9,973.2 2255.0,962.7 2255.1,960.5 2255.2,964.0 2255.3,966.8 2255.4,960.7 2255.5,964.3 2255.6,970.4 2255.7,963.5 2255.8,971.4 2255.8,958.5 2255.9,961.3 2256.0,969.7 2256.1,962.8 2256.2,956.8 2256.3,976.3 2256.4,964.8 2256.5,954.6 2256.6,972.9 2256.7,965.0 2256.8,972.2 2256.9,964.4 2257.0,977.8 2257.1,973.3 2257.1,967.1 2257.2,963.2 2257.3,961.8 2257.4,961.6 2257.5,957.4 2257.6,960.0 2257.7,959.8 2257.8,969.6 2257.9,964.9 2258.0,945.7 2258.1,951.0 2258.2,959.2 2258.3,959.8 2258.4,958.3 2258.4,966.3 2258.5,952.7 2258.6,966.2 2258.7,964.5 2258.8,951.5 2258.9,976.0 2259.0,961.9 2259.1,974.0 2259.2,967.8 2259.3,964.6 2259.4,966.1 2259.5,963.0 2259.6,968.5 2259.7,964.6 2259.8,970.9 2259.8,966.3 2259.9,972.1 2260.0,960.2 2260.1,971.5 2260.2,960.0 2260.3,966.4 2260.4,965.8 2260.5,957.2 2260.6,963.4 2260.7,975.0 2260.8,961.1 2260.9,980.9 2261.0,962.5 2261.1,966.4 2261.1,972.2 2261.2,963.6 2261.3,965.8 2261.4,952.4 2261.5,966.6 2261.6,952.7 2261.7,956.0 2261.8,967.6 2261.9,968.8 2262.0,956.3 2262.1,964.8 2262.2,963.1 2262.3,965.5 2262.4,971.1 2262.5,966.2 2262.5,969.6 2262.6,973.0 2262.7,965.8 2262.8,953.6 2262.9,954.6 2263.0,964.4 2263.1,963.2 2263.2,961.0 2263.3,956.1 2263.4,962.2 2263.5,966.8 2263.6,966.3 2263.7,957.4 2263.8,948.8 2263.8,967.7 2263.9,976.1 2264.0,959.3 2264.1,964.5 2264.2,963.2 2264.3,956.8 2264.4,963.6 2264.5,971.8 2264.6,975.5 2264.7,964.3 2264.8,970.8 2264.9,962.3 2265.0,971.5 2265.1,966.1 2265.1,972.7 2265.2,966.2 2265.3,966.7 2265.4,960.6 2265.5,956.2 2265.6,965.1 2265.7,969.1 2265.8,952.6 2265.9,961.9 2266.0,960.5 2266.1,960.5 2266.2,955.5 2266.3,958.1 2266.4,960.1 2266.5,959.5 2266.5,969.1 2266.6,967.6 2266.7,964.7 2266.8,963.5 2266.9,963.9 2267.0,962.2 2267.1,963.9 2267.2,966.6 2267.3,973.6 2267.4,959.1 2267.5,960.6 2267.6,969.2 2267.7,961.1 2267.8,961.7 2267.8,963.6 2267.9,974.8 2268.0,971.1 2268.1,967.6 2268.2,954.6 2268.3,969.1 2268.4,966.1 2268.5,970.6 2268.6,966.9 2268.7,962.0 2268.8,976.2 2268.9,980.7 2269.0,960.2 2269.1,963.8 2269.2,967.6 2269.2,958.4 2269.3,958.3 2269.4,976.4 2269.5,965.0 2269.6,957.5 2269.7,968.0 2269.8,965.9 2269.9,958.4 2270.0,965.6 2270.1,971.1 2270.2,968.1 2270.3,971.9 2270.4,960.8 2270.5,974.2 2270.5,958.2 2270.6,973.7 2270.7,963.8 2270.8,972.7 2270.9,965.9 2271.0,958.0 2271.1,957.5 2271.2,956.4 2271.3,964.6 2271.4,963.4 2271.5,962.7 2271.6,960.4 2271.7,966.4 2271.8,957.6 2271.8,962.1 2271.9,957.3 2272.0,961.3 2272.1,960.1 2272.2,968.4 2272.3,966.5 2272.4,971.7 2272.5,965.8 2272.6,965.1 2272.7,959.1 2272.8,971.5 2272.9,945.0 2273.0,964.8 2273.1,956.7 2273.2,957.9 2273.2,978.9 2273.3,965.6 2273.4,955.4 2273.5,978.4 2273.6,959.5 2273.7,969.5 2273.8,966.8 2273.9,962.8 2274.0,975.1 2274.1,962.9 2274.2,967.9 2274.3,968.5 2274.4,959.9 2274.5,943.4 2274.5,962.1 2274.6,960.8 2274.7,964.4 2274.8,968.3 2274.9,962.6 2275.0,955.1 2275.1,963.0 2275.2,958.8 2275.3,965.4 2275.4,949.2 2275.5,973.8 2275.6,960.7 2275.7,960.9 2275.8,962.5 2275.9,970.7 2275.9,970.8 2276.0,965.5 2276.1,963.5 2276.2,971.3 2276.3,970.4 2276.4,960.8 2276.5,958.0 2276.6,967.4 2276.7,968.2 2276.8,968.4 2276.9,949.5 2277.0,961.2 2277.1,964.5 2277.2,958.2 2277.2,950.6 2277.3,957.2 2277.4,972.6 2277.5,964.6 2277.6,966.5 2277.7,966.2 2277.8,971.3 2277.9,966.5 2278.0,970.5 2278.1,962.2 2278.2,963.9 2278.3,972.5 2278.4,974.2 2278.5,967.0 2278.5,960.3 2278.6,961.3 2278.7,964.6 2278.8,983.7 2278.9,967.1 2279.0,968.5 2279.1,966.2 2279.2,971.4 2279.3,966.7 2279.4,968.1 2279.5,948.1 2279.6,960.0 2279.7,965.3 2279.8,964.5 2279.9,964.9 2279.9,963.1 2280.0,966.6 2280.1,964.3 2280.2,958.1 2280.3,959.3 2280.4,962.4 2280.5,956.3 2280.6,962.9 2280.7,970.0 2280.8,974.5 2280.9,968.3 2281.0,964.6 2281.1,961.8 2281.2,957.8 2281.2,967.6 2281.3,968.9 2281.4,959.6 2281.5,957.2 2281.6,967.0 2281.7,962.2 2281.8,956.1 2281.9,962.3 2282.0,964.5 2282.1,976.5 2282.2,956.4 2282.3,960.4 2282.4,963.5 2282.5,966.9 2282.6,971.6 2282.6,964.8 2282.7,964.8 2282.8,957.7 2282.9,971.4 2283.0,955.7 2283.1,964.0 2283.2,957.2 2283.3,969.9 2283.4,962.2 2283.5,957.0 2283.6,963.5 2283.7,972.9 2283.8,966.1 2283.9,961.0 2283.9,972.5 2284.0,972.7 2284.1,962.8 2284.2,969.8 2284.3,960.2 2284.4,971.1 2284.5,975.0 2284.6,968.8 2284.7,955.4 2284.8,969.3 2284.9,964.2 2285.0,962.7 2285.1,969.8 2285.2,957.8 2285.2,963.2 2285.3,961.6 2285.4,974.1 2285.5,974.5 2285.6,980.5 2285.7,965.3 2285.8,965.6 2285.9,959.9 2286.0,955.4 2286.1,965.7 2286.2,965.8 2286.3,961.5 2286.4,955.2 2286.5,969.1 2286.6,960.5 2286.6,965.7 2286.7,966.2 2286.8,959.4 2286.9,968.9 2287.0,970.5 2287.1,960.3 2287.2,964.3 2287.3,965.7 2287.4,965.0 2287.5,961.3 2287.6,966.4 2287.7,959.7 2287.8,961.8 2287.9,955.5 2287.9,956.7 2288.0,959.1 2288.1,965.4 2288.2,963.5 2288.3,967.7 2288.4,947.4 2288.5,965.5 2288.6,960.9 2288.7,956.2 2288.8,972.2 2288.9,969.1 2289.0,966.5 2289.1,970.0 2289.2,971.7 2289.3,967.2 2289.3,956.6 2289.4,959.9 2289.5,964.0 2289.6,964.0 2289.7,974.0 2289.8,960.1 2289.9,961.7 2290.0,970.6 2290.1,963.0 2290.2,965.3 2290.3,967.2 2290.4,970.0 2290.5,968.2 2290.6,969.7 2290.6,961.5 2290.7,962.0 2290.8,962.3 2290.9,965.2 2291.0,966.6 2291.1,952.1 2291.2,975.1 2291.3,957.1 2291.4,962.1 2291.5,963.8 2291.6,967.2 2291.7,965.5 2291.8,971.2 2291.9,972.3 2292.0,964.8 2292.0,973.9 2292.1,959.2 2292.2,957.6 2292.3,984.4 2292.4,973.3 2292.5,962.6 2292.6,962.9 2292.7,963.5 2292.8,961.7 2292.9,959.8 2293.0,959.1 2293.1,953.6 2293.2,964.0 2293.3,959.1 2293.3,973.7 2293.4,964.9 2293.5,971.3 2293.6,956.0 2293.7,950.4 2293.8,961.0 2293.9,971.8 2294.0,964.8 2294.1,964.0 2294.2,963.0 2294.3,957.7 2294.4,958.5 2294.5,979.8 2294.6,956.1 2294.6,967.1 2294.7,967.4 2294.8,955.8 2294.9,965.7 2295.0,972.2 2295.1,972.0 2295.2,963.8 2295.3,958.8 2295.4,955.3 2295.5,965.2 2295.6,966.9 2295.7,954.6 2295.8,966.8 2295.9,955.6 2296.0,962.8 2296.0,962.7 2296.1,965.5 2296.2,962.4 2296.3,966.9 2296.4,968.1 2296.5,964.9 2296.6,968.0 2296.7,962.4 2296.8,963.6 2296.9,965.7 2297.0,965.3 2297.1,965.5 2297.2,953.9 2297.3,964.2 2297.3,967.6 2297.4,965.9 2297.5,960.2 2297.6,965.3 2297.7,965.0 2297.8,965.7 2297.9,963.2 2298.0,961.9 2298.1,961.5 2298.2,973.8 2298.3,970.4 2298.4,979.6 2298.5,959.4 2298.6,957.6 2298.7,956.5 2298.7,963.3 2298.8,957.4 2298.9,964.4 2299.0,964.9 2299.1,973.2 2299.2,968.8 2299.3,967.6 2299.4,958.8 2299.5,954.4 2299.6,966.9 2299.7,962.0 2299.8,962.5 2299.9,968.7 2300.0,974.3 2300.0,968.6 2300.1,972.6 2300.2,966.0 2300.3,965.0 2300.4,965.2 2300.5,965.2 2300.6,961.3 2300.7,969.7 2300.8,959.0 2300.9,974.0 2301.0,963.8 2301.1,961.9 2301.2,968.8 2301.3,973.6 2301.3,960.4 2301.4,968.1 2301.5,959.6 2301.6,959.7 2301.7,964.2 2301.8,964.2 2301.9,958.4 2302.0,962.0 2302.1,969.7 2302.2,963.2 2302.3,960.9 2302.4,963.0 2302.5,963.1 2302.6,965.1 2302.7,964.9 2302.7,969.7 2302.8,972.6 2302.9,957.6 2303.0,967.9 2303.1,962.9 2303.2,973.0 2303.3,963.3 2303.4,969.1 2303.5,946.8 2303.6,970.2 2303.7,969.9 2303.8,958.7 2303.9,957.5 2304.0,976.6 2304.0,962.7 2304.1,959.1 2304.2,971.4 2304.3,960.2 2304.4,967.3 2304.5,970.1 2304.6,966.3 2304.7,966.9 2304.8,972.3 2304.9,951.1 2305.0,966.9 2305.1,968.6 2305.2,959.2 2305.3,964.6 2305.4,956.4 2305.4,965.8 2305.5,962.2 2305.6,963.7 2305.7,963.2 2305.8,965.4 2305.9,964.8 2306.0,954.4 2306.1,968.2 2306.2,967.4 2306.3,966.2 2306.4,960.9 2306.5,961.9 2306.6,958.7 2306.7,972.1 2306.7,962.7 2306.8,965.2 2306.9,965.9 2307.0,963.3 2307.1,975.7 2307.2,962.6 2307.3,963.4 2307.4,972.6 2307.5,964.8 2307.6,955.2 2307.7,966.5 2307.8,960.8 2307.9,965.5 2308.0,969.0 2308.0,969.6 2308.1,966.5 2308.2,956.6 2308.3,959.5 2308.4,968.3 2308.5,958.4 2308.6,965.0 2308.7,968.3 2308.8,961.7 2308.9,969.5 2309.0,973.4 2309.1,956.7 2309.2,974.9 2309.3,961.1 2309.4,973.1 2309.4,964.4 2309.5,965.4 2309.6,966.8 2309.7,977.0 2309.8,964.9 2309.9,964.4 2310.0,969.5 2310.1,964.6 2310.2,958.4 2310.3,968.4 2310.4,962.7 2310.5,970.9 2310.6,962.0 2310.7,960.5 2310.7,949.8 2310.8,958.9 2310.9,961.7 2311.0,956.0 2311.1,970.0 2311.2,958.0 2311.3,967.4 2311.4,967.8 2311.5,957.8 2311.6,962.8 2311.7,956.5 2311.8,972.6 2311.9,962.6 2312.0,967.3 2312.1,965.8 2312.1,975.3 2312.2,958.8 2312.3,963.0 2312.4,969.9 2312.5,972.0 2312.6,969.2 2312.7,956.1 2312.8,964.8 2312.9,966.1 2313.0,961.3 2313.1,964.1 2313.2,962.8 2313.3,959.9 2313.4,962.2 2313.4,959.1 2313.5,971.1 2313.6,963.8 2313.7,966.2 2313.8,963.5 2313.9,964.4 2314.0,967.8 2314.1,966.2 2314.2,958.7 2314.3,967.3 2314.4,971.3 2314.5,960.7 2314.6,958.5 2314.7,965.7 2314.7,963.4 2314.8,969.0 2314.9,965.3 2315.0,957.7 2315.1,959.5 2315.2,963.3 2315.3,965.7 2315.4,973.5 2315.5,962.3 2315.6,961.5 2315.7,958.0 2315.8,952.5 2315.9,961.9 2316.0,958.6 2316.1,970.5 2316.1,957.1 2316.2,959.1 2316.3,956.2 2316.4,960.2 2316.5,961.5 2316.6,955.6 2316.7,967.9 2316.8,960.4 2316.9,957.8 2317.0,968.6 2317.1,970.7 2317.2,961.6 2317.3,963.3 2317.4,960.5 2317.4,960.3 2317.5,968.5 2317.6,962.1 2317.7,957.6 2317.8,966.1 2317.9,965.7 2318.0,970.5 2318.1,959.3 2318.2,952.8 2318.3,971.9 2318.4,959.6 2318.5,958.8 2318.6,967.2 2318.7,966.1 2318.8,970.0 2318.8,968.5 2318.9,963.1 2319.0,960.3 2319.1,963.3 2319.2,959.1 2319.3,962.8 2319.4,970.7 2319.5,955.7 2319.6,957.2 2319.7,968.1 2319.8,953.8 2319.9,961.3 2320.0,963.2 2320.1,953.0 2320.1,978.3 2320.2,973.2 2320.3,959.9 2320.4,965.4 2320.5,969.4 2320.6,955.3 2320.7,961.2 2320.8,971.3 2320.9,967.7 2321.0,959.1 2321.1,953.7 2321.2,975.4 2321.3,962.5 2321.4,966.1 2321.4,974.0 2321.5,964.9 2321.6,973.1 2321.7,967.0 2321.8,954.6 2321.9,961.0 2322.0,959.4 2322.1,960.5 2322.2,961.9 2322.3,958.3 2322.4,970.6 2322.5,966.0 2322.6,959.0 2322.7,968.1 2322.8,966.4 2322.8,957.0 2322.9,955.1 2323.0,967.4 2323.1,968.6 2323.2,960.5 2323.3,962.3 2323.4,967.8 2323.5,960.5 2323.6,960.7 2323.7,963.4 2323.8,947.0 2323.9,956.1 2324.0,959.2 2324.1,958.0 2324.1,946.8 2324.2,957.6 2324.3,968.0 2324.4,962.0 2324.5,963.4 2324.6,967.1 2324.7,962.4 2324.8,962.4 2324.9,964.2 2325.0,966.7 2325.1,959.1 2325.2,973.0 2325.3,959.1 2325.4,963.8 2325.5,962.3 2325.5,977.5 2325.6,954.2 2325.7,973.8 2325.8,968.8 2325.9,960.1 2326.0,967.3 2326.1,966.2 2326.2,976.7 2326.3,966.4 2326.4,962.6 2326.5,959.9 2326.6,965.5 2326.7,962.6 2326.8,961.3 2326.8,967.7 2326.9,968.2 2327.0,952.5 2327.1,968.8 2327.2,956.7 2327.3,963.4 2327.4,955.4 2327.5,967.5 2327.6,960.9 2327.7,961.9 2327.8,965.2 2327.9,962.1 2328.0,968.3 2328.1,964.3 2328.2,966.1 2328.2,959.4 2328.3,964.4 2328.4,971.9 2328.5,966.0 2328.6,964.4 2328.7,969.1 2328.8,956.2 2328.9,961.5 2329.0,959.0 2329.1,968.3 2329.2,966.1 2329.3,958.0 2329.4,972.1 2329.5,961.7 2329.5,963.3 2329.6,966.7 2329.7,963.3 2329.8,970.1 2329.9,962.5 2330.0,970.9 2330.1,971.2 2330.2,955.8 2330.3,967.9 2330.4,976.1 2330.5,958.2 2330.6,968.3 2330.7,984.2 2330.8,964.2 2330.8,958.5 2330.9,961.8 2331.0,953.9 2331.1,964.6 2331.2,960.4 2331.3,969.7 2331.4,962.9 2331.5,955.0 2331.6,960.9 2331.7,962.9 2331.8,975.3 2331.9,966.0 2332.0,971.3 2332.1,959.3 2332.2,968.1 2332.2,961.7 2332.3,969.6 2332.4,952.9 2332.5,970.6 2332.6,963.0 2332.7,948.6 2332.8,962.6 2332.9,968.9 2333.0,960.3 2333.1,958.1 2333.2,958.8 2333.3,975.3 2333.4,962.6 2333.5,976.2 2333.5,952.8 2333.6,963.4 2333.7,966.5 2333.8,959.9 2333.9,961.0 2334.0,970.7 2334.1,954.4 2334.2,965.2 2334.3,974.1 2334.4,955.7 2334.5,954.9 2334.6,956.5 2334.7,960.6 2334.8,969.0 2334.9,958.4 2334.9,953.0 2335.0,959.1 2335.1,954.5 2335.2,968.3 2335.3,957.9 2335.4,958.4 2335.5,972.5 2335.6,973.3 2335.7,968.0 2335.8,963.4 2335.9,961.2 2336.0,965.1 2336.1,964.2 2336.2,964.5 2336.2,963.3 2336.3,960.4 2336.4,960.9 2336.5,964.1 2336.6,962.3 2336.7,966.5 2336.8,959.2 2336.9,966.8 2337.0,954.2 2337.1,964.0 2337.2,962.2 2337.3,968.3 2337.4,965.8 2337.5,962.9 2337.5,963.7 2337.6,967.4 2337.7,970.6 2337.8,963.6 2337.9,962.9 2338.0,960.6 2338.1,956.5 2338.2,965.6 2338.3,975.5 2338.4,964.6 2338.5,974.6 2338.6,971.3 2338.7,957.8 2338.8,960.5 2338.9,967.6 2338.9,967.5 2339.0,964.3 2339.1,974.1 2339.2,961.0 2339.3,965.9 2339.4,953.0 2339.5,970.0 2339.6,957.9 2339.7,967.8 2339.8,957.8 2339.9,969.5 2340.0,959.5 2340.1,966.4 2340.2,968.6 2340.2,964.7 2340.3,961.0 2340.4,961.4 2340.5,954.6 2340.6,959.0 2340.7,979.3 2340.8,966.2 2340.9,975.5 2341.0,966.1 2341.1,960.1 2341.2,971.6 2341.3,970.7 2341.4,963.0 2341.5,965.5 2341.6,954.5 2341.6,961.9 2341.7,960.7 2341.8,953.5 2341.9,966.7 2342.0,963.8 2342.1,969.6 2342.2,962.3 2342.3,957.7 2342.4,955.8 2342.5,964.0 2342.6,968.0 2342.7,968.3 2342.8,972.0 2342.9,963.1 2342.9,955.8 2343.0,977.7 2343.1,976.6 2343.2,955.6 2343.3,973.2 2343.4,961.8 2343.5,971.2 2343.6,959.2 2343.7,959.2 2343.8,962.8 2343.9,958.9 2344.0,963.5 2344.1,960.5 2344.2,953.0 2344.2,957.3 2344.3,967.6 2344.4,968.5 2344.5,965.2 2344.6,965.1 2344.7,963.3 2344.8,967.3 2344.9,959.9 2345.0,963.5 2345.1,961.6 2345.2,963.7 2345.3,960.1 2345.4,970.8 2345.5,954.4 2345.6,961.7 2345.6,961.1 2345.7,960.1 2345.8,957.4 2345.9,959.4 2346.0,962.3 2346.1,964.8 2346.2,973.4 2346.3,962.5 2346.4,965.6 2346.5,965.6 2346.6,949.6 2346.7,974.7 2346.8,963.4 2346.9,956.6 2346.9,958.1 2347.0,956.4 2347.1,971.2 2347.2,969.4 2347.3,960.1 2347.4,965.4 2347.5,953.6 2347.6,962.3 2347.7,962.5 2347.8,961.1 2347.9,965.3 2348.0,963.0 2348.1,967.7 2348.2,963.9 2348.3,966.5 2348.3,962.2 2348.4,972.0 2348.5,972.5 2348.6,961.0 2348.7,962.3 2348.8,969.3 2348.9,965.0 2349.0,969.8 2349.1,951.6 2349.2,972.9 2349.3,953.6 2349.4,968.5 2349.5,961.2 2349.6,965.2 2349.6,965.9 2349.7,958.1 2349.8,958.8 2349.9,965.3 2350.0,969.0 2350.1,951.4 2350.2,955.4 2350.3,962.8 2350.4,965.4 2350.5,961.9 2350.6,963.1 2350.7,956.6 2350.8,969.3 2350.9,963.5 2350.9,968.2 2351.0,955.9 2351.1,953.0 2351.2,964.2 2351.3,960.4 2351.4,955.3 2351.5,965.4 2351.6,969.1 2351.7,957.5 2351.8,960.6 2351.9,964.8 2352.0,955.0 2352.1,962.2 2352.2,974.1 2352.3,961.6 2352.3,964.0 2352.4,952.5 2352.5,963.7 2352.6,964.8 2352.7,961.0 2352.8,962.2 2352.9,971.9 2353.0,962.9 2353.1,965.5 2353.2,955.3 2353.3,949.5 2353.4,970.2 2353.5,969.3 2353.6,968.6 2353.6,967.5 2353.7,967.7 2353.8,963.3 2353.9,957.2 2354.0,971.3 2354.1,972.7 2354.2,974.5 2354.3,957.1 2354.4,955.8 2354.5,972.7 2354.6,973.2 2354.7,962.8 2354.8,957.2 2354.9,957.6 2355.0,962.5 2355.0,959.6 2355.1,961.7 2355.2,966.9 2355.3,952.4 2355.4,963.6 2355.5,970.2 2355.6,966.4 2355.7,972.7 2355.8,963.5 2355.9,957.1 2356.0,971.1 2356.1,957.0 2356.2,951.3 2356.3,961.4 2356.3,970.4 2356.4,968.6 2356.5,965.6 2356.6,971.2 2356.7,971.0 2356.8,965.1 2356.9,964.7 2357.0,960.0 2357.1,970.7 2357.2,952.6 2357.3,957.4 2357.4,958.4 2357.5,967.4 2357.6,953.4 2357.7,965.6 2357.7,952.9 2357.8,957.3 2357.9,968.9 2358.0,966.3 2358.1,952.6 2358.2,957.7 2358.3,964.5 2358.4,962.4 2358.5,962.4 2358.6,968.2 2358.7,964.8 2358.8,967.5 2358.9,966.1 2359.0,960.9 2359.0,969.3 2359.1,959.3 2359.2,963.0 2359.3,959.1 2359.4,958.4 2359.5,956.3 2359.6,959.9 2359.7,959.4 2359.8,964.7 2359.9,960.2 2360.0,968.9 2360.1,965.1 2360.2,959.2 2360.3,963.9 2360.3,961.0 2360.4,969.8 2360.5,955.5 2360.6,967.0 2360.7,961.3 2360.8,963.7 2360.9,958.1 2361.0,965.9 2361.1,969.5 2361.2,974.8 2361.3,965.4 2361.4,970.7 2361.5,960.5 2361.6,955.1 2361.7,976.7 2361.7,971.2 2361.8,961.8 2361.9,956.3 2362.0,961.8 2362.1,961.7 2362.2,960.6 2362.3,960.2 2362.4,953.9 2362.5,960.0 2362.6,970.9 2362.7,966.4 2362.8,962.4 2362.9,968.4 2363.0,965.2 2363.0,966.7 2363.1,967.8 2363.2,959.5 2363.3,965.9 2363.4,970.1 2363.5,967.8 2363.6,963.4 2363.7,951.1 2363.8,962.1 2363.9,954.8 2364.0,960.7 2364.1,976.3 2364.2,961.4 2364.3,968.7 2364.4,971.6 2364.4,970.0 2364.5,953.0 2364.6,973.0 2364.7,967.3 2364.8,956.8 2364.9,959.7 2365.0,973.8 2365.1,964.3 2365.2,966.7 2365.3,964.8 2365.4,959.2 2365.5,967.0 2365.6,965.5 2365.7,955.0 2365.7,974.6 2365.8,965.8 2365.9,960.8 2366.0,971.0 2366.1,967.4 2366.2,971.4 2366.3,962.7 2366.4,967.3 2366.5,959.0 2366.6,957.6 2366.7,963.4 2366.8,965.9 2366.9,962.1 2367.0,963.3 2367.0,970.9 2367.1,957.3 2367.2,962.3 2367.3,959.0 2367.4,971.7 2367.5,958.4 2367.6,951.1 2367.7,960.0 2367.8,972.3 2367.9,963.4 2368.0,964.0 2368.1,962.4 2368.2,965.0 2368.3,960.7 2368.4,966.4 2368.4,962.3 2368.5,967.7 2368.6,963.1 2368.7,957.7 2368.8,966.6 2368.9,959.7 2369.0,968.9 2369.1,965.9 2369.2,965.1 2369.3,956.3 2369.4,968.2 2369.5,956.4 2369.6,972.4 2369.7,964.6 2369.7,958.2 2369.8,959.5 2369.9,969.7 2370.0,970.9 2370.1,958.5 2370.2,971.2 2370.3,960.2 2370.4,966.8 2370.5,963.7 2370.6,949.9 2370.7,954.5 2370.8,958.7 2370.9,971.9 2371.0,961.8 2371.1,963.4 2371.1,964.3 2371.2,955.7 2371.3,973.9 2371.4,961.8 2371.5,962.9 2371.6,968.2 2371.7,953.4 2371.8,971.2 2371.9,963.5 2372.0,963.2 2372.1,976.8 2372.2,972.2 2372.3,969.5 2372.4,959.0 2372.4,958.1 2372.5,960.2 2372.6,962.3 2372.7,976.8 2372.8,962.4 2372.9,966.8 2373.0,956.7 2373.1,955.7 2373.2,950.4 2373.3,959.5 2373.4,958.9 2373.5,969.9 2373.6,963.2 2373.7,971.1 2373.7,958.4 2373.8,970.8 2373.9,965.0 2374.0,968.6 2374.1,966.5 2374.2,961.0 2374.3,967.1 2374.4,962.4 2374.5,969.7 2374.6,955.4 2374.7,967.6 2374.8,957.7 2374.9,951.0 2375.0,978.3 2375.1,969.7 2375.1,965.0 2375.2,956.8 2375.3,966.6 2375.4,961.5 2375.5,968.1 2375.6,960.4 2375.7,971.0 2375.8,958.7 2375.9,981.6 2376.0,975.1 2376.1,952.9 2376.2,962.7 2376.3,969.1 2376.4,950.6 2376.4,957.5 2376.5,957.0 2376.6,966.3 2376.7,960.0 2376.8,960.7 2376.9,973.7 2377.0,960.2 2377.1,964.9 2377.2,956.1 2377.3,955.9 2377.4,967.6 2377.5,967.4 2377.6,962.6 2377.7,959.8 2377.8,966.2 2377.8,964.5 2377.9,960.1 2378.0,961.2 2378.1,956.8 2378.2,962.3 2378.3,969.1 2378.4,974.4 2378.5,958.9 2378.6,965.8 2378.7,965.9 2378.8,965.5 2378.9,973.2 2379.0,966.1 2379.1,979.5 2379.1,966.2 2379.2,969.2 2379.3,952.7 2379.4,961.1 2379.5,965.1 2379.6,962.8 2379.7,959.4 2379.8,968.4 2379.9,965.2 2380.0,965.9 2380.1,948.8 2380.2,963.4 2380.3,975.7 2380.4,959.0 2380.4,948.2 2380.5,969.6 2380.6,942.8 2380.7,964.2 2380.8,957.8 2380.9,967.2 2381.0,965.4 2381.1,971.3 2381.2,970.2 2381.3,976.8 2381.4,956.9 2381.5,970.8 2381.6,961.6 2381.7,961.8 2381.8,967.8 2381.8,963.5 2381.9,964.4 2382.0,966.8 2382.1,963.5 2382.2,963.5 2382.3,970.0 2382.4,971.7 2382.5,969.0 2382.6,963.1 2382.7,955.5 2382.8,954.9 2382.9,961.9 2383.0,958.1 2383.1,963.1 2383.1,957.1 2383.2,963.1 2383.3,961.5 2383.4,965.6 2383.5,963.9 2383.6,952.3 2383.7,971.1 2383.8,963.8 2383.9,967.4 2384.0,958.0 2384.1,952.8 2384.2,965.8 2384.3,980.7 2384.4,960.1 2384.5,960.1 2384.5,974.1 2384.6,965.3 2384.7,964.3 2384.8,977.9 2384.9,959.8 2385.0,961.2 2385.1,962.4 2385.2,970.3 2385.3,968.2 2385.4,967.7 2385.5,961.0 2385.6,969.9 2385.7,955.0 2385.8,961.6 2385.8,977.2 2385.9,953.6 2386.0,962.9 2386.1,967.3 2386.2,963.3 2386.3,975.0 2386.4,962.7 2386.5,978.9 2386.6,970.2 2386.7,955.6 2386.8,956.2 2386.9,966.0 2387.0,969.8 2387.1,958.2 2387.1,964.2 2387.2,962.6 2387.3,960.1 2387.4,970.5 2387.5,959.1 2387.6,976.9 2387.7,955.0 2387.8,973.5 2387.9,967.8 2388.0,968.0 2388.1,959.5 2388.2,959.4 2388.3,961.7 2388.4,960.6 2388.5,961.1 2388.5,964.4 2388.6,975.7 2388.7,978.1 2388.8,978.1 2388.9,964.3 2389.0,965.4 2389.1,964.8 2389.2,962.6 2389.3,965.4 2389.4,970.1 2389.5,973.2 2389.6,975.6 2389.7,956.5 2389.8,958.4 2389.8,972.3 2389.9,965.7 2390.0,961.3 2390.1,954.2 2390.2,967.7 2390.3,962.9 2390.4,956.9 2390.5,974.7" fill="none" stroke="#000" stroke-width="1.1" stroke-linejoin="miter"/>
<path d="M1652.1,140.3 1653.1,149.7 1654.0,158.9 1654.9,168.1 1655.8,177.1 1656.8,186.0 1657.7,194.9 1658.6,203.6 1659.5,212.2 1660.5,220.8 1661.4,229.2 1662.3,237.6 1663.2,245.8 1664.2,254.0 1665.1,262.0 1666.0,270.0 1666.9,277.9 1667.9,285.7 1668.8,293.4 1669.7,301.0 1670.6,308.5 1671.6,316.0 1672.5,323.3 1673.4,330.6 1674.3,337.8 1675.3,344.9 1676.2,351.9 1677.1,358.9 1678.0,365.7 1678.9,372.5 1679.9,379.3 1680.8,385.9 1681.7,392.5 1682.6,399.0 1683.6,405.4 1684.5,411.7 1685.4,418.0 1686.3,424.2 1687.3,430.3 1688.2,436.4 1689.1,442.4 1690.0,448.3 1691.0,454.1 1691.9,459.9 1692.8,465.7 1693.7,471.3 1694.7,476.9 1695.6,482.5 1696.5,487.9 1697.4,493.3 1698.4,498.7 1699.3,504.0 1700.2,509.2 1701.1,514.3 1702.0,519.5 1703.0,524.5 1703.9,529.5 1704.8,534.4 1705.7,539.3 1706.7,544.1 1707.6,548.9 1708.5,553.6 1709.4,558.3 1710.4,562.9 1711.3,567.4 1712.2,571.9 1713.1,576.4 1714.1,580.8 1715.0,585.2 1715.9,589.5 1716.8,593.7 1717.8,597.9 1718.7,602.1 1719.6,606.2 1720.5,610.3 1721.5,614.3 1722.4,618.2 1723.3,622.2 1724.2,626.1 1725.2,629.9 1726.1,633.7 1727.0,637.4 1727.9,641.2 1728.8,644.8 1729.8,648.4 1730.7,652.0 1731.6,655.6 1732.5,659.1 1733.5,662.5 1734.4,666.0 1735.3,669.4 1736.2,672.7 1737.2,676.0 1738.1,679.3 1739.0,682.5 1739.9,685.7 1740.9,688.9 1741.8,692.0 1742.7,695.1 1743.6,698.2 1744.6,701.2 1745.5,704.2 1746.4,707.1 1747.3,710.0 1748.3,712.9 1749.2,715.8 1750.1,718.6 1751.0,721.4 1752.0,724.1 1752.9,726.9 1753.8,729.6 1754.7,732.2 1755.6,734.9 1756.6,737.5 1757.5,740.0 1758.4,742.6 1759.3,745.1 1760.3,747.6 1761.2,750.0 1762.1,752.5 1763.0,754.9 1764.0,757.3 1764.9,759.6 1765.8,761.9 1766.7,764.2 1767.7,766.5 1768.6,768.7 1769.5,771.0 1770.4,773.2 1771.4,775.3 1772.3,777.5 1773.2,779.6 1774.1,781.7 1775.1,783.8 1776.0,785.8 1776.9,787.8 1777.8,789.8 1778.7,791.8 1779.7,793.8 1780.6,795.7 1781.5,797.6 1782.4,799.5 1783.4,801.4 1784.3,803.2 1785.2,805.1 1786.1,806.9 1787.1,808.7 1788.0,810.4 1788.9,812.2 1789.8,813.9 1790.8,815.6 1791.7,817.3 1792.6,819.0 1793.5,820.6 1794.5,822.2 1795.4,823.9 1796.3,825.5 1797.2,827.0 1798.2,828.6 1799.1,830.1 1800.0,831.6 1800.9,833.2 1801.9,834.6 1802.8,836.1 1803.7,837.6 1804.6,839.0 1805.5,840.4 1806.5,841.8 1807.4,843.2 1808.3,844.6 1809.2,846.0 1810.2,847.3 1811.1,848.6 1812.0,849.9 1812.9,851.2 1813.9,852.5 1814.8,853.8 1815.7,855.0 1816.6,856.3 1817.6,857.5 1818.5,858.7 1819.4,859.9 1820.3,861.1 1821.3,862.3 1822.2,863.4 1823.1,864.6 1824.0,865.7 1825.0,866.8 1825.9,867.9 1826.8,869.0 1827.7,870.1 1828.7,871.2 1829.6,872.2 1830.5,873.3 1831.4,874.3 1832.3,875.3 1833.3,876.3 1834.2,877.3 1835.1,878.3 1836.0,879.3 1837.0,880.3 1837.9,881.2 1838.8,882.2 1839.7,883.1 1840.7,884.0 1841.6,884.9 1842.5,885.8 1843.4,886.7 1844.4,887.6 1845.3,888.5 1846.2,889.3 1847.1,890.2 1848.1,891.0 1849.0,891.9 1849.9,892.7 1850.8,893.5 1851.8,894.3 1852.7,895.1 1853.6,895.9 1854.5,896.7 1855.4,897.4 1856.4,898.2 1857.3,898.9 1858.2,899.7 1859.1,900.4 1860.1,901.1 1861.0,901.9 1861.9,902.6 1862.8,903.3 1863.8,904.0 1864.7,904.6 1865.6,905.3 1866.5,906.0 1867.5,906.6 1868.4,907.3 1869.3,907.9 1870.2,908.6 1871.2,909.2 1872.1,909.8 1873.0,910.5 1873.9,911.1 1874.9,911.7 1875.8,912.3 1876.7,912.9 1877.6,913.5 1878.6,914.0 1879.5,914.6 1880.4,915.2 1881.3,915.7 1882.2,916.3 1883.2,916.8 1884.1,917.4 1885.0,917.9 1885.9,918.4 1886.9,918.9 1887.8,919.5 1888.7,920.0 1889.6,920.5 1890.6,921.0 1891.5,921.5 1892.4,921.9 1893.3,922.4 1894.3,922.9 1895.2,923.4 1896.1,923.8 1897.0,924.3 1898.0,924.7 1898.9,925.2 1899.8,925.6 1900.7,926.1 1901.7,926.5 1902.6,926.9 1903.5,927.4 1904.4,927.8 1905.4,928.2 1906.3,928.6 1907.2,929.0 1908.1,929.4 1909.0,929.8 1910.0,930.2 1910.9,930.6 1911.8,931.0 1912.7,931.3 1913.7,931.7 1914.6,932.1 1915.5,932.5 1916.4,932.8 1917.4,933.2 1918.3,933.5 1919.2,933.9 1920.1,934.2 1921.1,934.6 1922.0,934.9 1922.9,935.2 1923.8,935.6 1924.8,935.9 1925.7,936.2 1926.6,936.5 1927.5,936.8 1928.5,937.2 1929.4,937.5 1930.3,937.8 1931.2,938.1 1932.1,938.4 1933.1,938.7 1934.0,939.0 1934.9,939.2 1935.8,939.5 1936.8,939.8 1937.7,940.1 1938.6,940.4 1939.5,940.6 1940.5,940.9 1941.4,941.2 1942.3,941.4 1943.2,941.7 1944.2,941.9 1945.1,942.2 1946.0,942.5 1946.9,942.7 1947.9,942.9 1948.8,943.2 1949.7,943.4 1950.6,943.7 1951.6,943.9 1952.5,944.1 1953.4,944.4 1954.3,944.6 1955.3,944.8 1956.2,945.0 1957.1,945.2 1958.0,945.5 1958.9,945.7 1959.9,945.9 1960.8,946.1 1961.7,946.3 1962.6,946.5 1963.6,946.7 1964.5,946.9 1965.4,947.1 1966.3,947.3 1967.3,947.5 1968.2,947.7 1969.1,947.9 1970.0,948.1 1971.0,948.2 1971.9,948.4 1972.8,948.6 1973.7,948.8 1974.7,949.0 1975.6,949.1 1976.5,949.3 1977.4,949.5 1978.4,949.6 1979.3,949.8 1980.2,950.0 1981.1,950.1 1982.1,950.3 1983.0,950.5 1983.9,950.6 1984.8,950.8 1985.7,950.9 1986.7,951.1 1987.6,951.2 1988.5,951.4 1989.4,951.5 1990.4,951.7 1991.3,951.8 1992.2,952.0 1993.1,952.1 1994.1,952.2 1995.0,952.4 1995.9,952.5 1996.8,952.6 1997.8,952.8 1998.7,952.9 1999.6,953.0 2000.5,953.2 2001.5,953.3 2002.4,953.4 2003.3,953.5 2004.2,953.7 2005.2,953.8 2006.1,953.9 2007.0,954.0 2007.9,954.1 2008.8,954.2 2009.8,954.4 2010.7,954.5 2011.6,954.6 2012.5,954.7 2013.5,954.8 2014.4,954.9 2015.3,955.0 2016.2,955.1 2017.2,955.2 2018.1,955.3 2019.0,955.4 2019.9,955.5 2020.9,955.6 2021.8,955.7 2022.7,955.8 2023.6,955.9 2024.6,956.0 2025.5,956.1 2026.4,956.2 2027.3,956.3 2028.3,956.4 2029.2,956.5 2030.1,956.6 2031.0,956.7 2032.0,956.7 2032.9,956.8 2033.8,956.9 2034.7,957.0 2035.6,957.1 2036.6,957.2 2037.5,957.2 2038.4,957.3 2039.3,957.4 2040.3,957.5 2041.2,957.6 2042.1,957.6 2043.0,957.7 2044.0,957.8 2044.9,957.9 2045.8,957.9 2046.7,958.0 2047.7,958.1 2048.6,958.1 2049.5,958.2 2050.4,958.3 2051.4,958.4 2052.3,958.4 2053.2,958.5 2054.1,958.6 2055.1,958.6 2056.0,958.7 2056.9,958.7 2057.8,958.8 2058.7,958.9 2059.7,958.9 2060.6,959.0 2061.5,959.1 2062.4,959.1 2063.4,959.2 2064.3,959.2 2065.2,959.3 2066.1,959.3 2067.1,959.4 2068.0,959.5 2068.9,959.5 2069.8,959.6 2070.8,959.6 2071.7,959.7 2072.6,959.7 2073.5,959.8 2074.5,959.8 2075.4,959.9 2076.3,959.9 2077.2,960.0 2078.2,960.0 2079.1,960.1 2080.0,960.1 2080.9,960.2 2081.9,960.2 2082.8,960.3 2083.7,960.3 2084.6,960.4 2085.5,960.4 2086.5,960.4 2087.4,960.5 2088.3,960.5 2089.2,960.6 2090.2,960.6 2091.1,960.7 2092.0,960.7 2092.9,960.7 2093.9,960.8 2094.8,960.8 2095.7,960.9 2096.6,960.9 2097.6,960.9 2098.5,961.0 2099.4,961.0 2100.3,961.1 2101.3,961.1 2102.2,961.1 2103.1,961.2 2104.0,961.2 2105.0,961.2 2105.9,961.3 2106.8,961.3 2107.7,961.3 2108.7,961.4 2109.6,961.4 2110.5,961.4 2111.4,961.5 2112.3,961.5 2113.3,961.5 2114.2,961.6 2115.1,961.6 2116.0,961.6 2117.0,961.7 2117.9,961.7 2118.8,961.7 2119.7,961.7 2120.7,961.8 2121.6,961.8 2122.5,961.8 2123.4,961.9 2124.4,961.9 2125.3,961.9 2126.2,961.9 2127.1,962.0 2128.1,962.0 2129.0,962.0 2129.9,962.0 2130.8,962.1 2131.8,962.1 2132.7,962.1 2133.6,962.1 2134.5,962.2 2135.4,962.2 2136.4,962.2 2137.3,962.2 2138.2,962.3 2139.1,962.3 2140.1,962.3 2141.0,962.3 2141.9,962.4 2142.8,962.4 2143.8,962.4 2144.7,962.4 2145.6,962.4 2146.5,962.5 2147.5,962.5 2148.4,962.5 2149.3,962.5 2150.2,962.5 2151.2,962.6 2152.1,962.6 2153.0,962.6 2153.9,962.6 2154.9,962.6 2155.8,962.7 2156.7,962.7 2157.6,962.7 2158.6,962.7 2159.5,962.7 2160.4,962.8 2161.3,962.8 2162.2,962.8 2163.2,962.8 2164.1,962.8 2165.0,962.8 2165.9,962.9 2166.9,962.9 2167.8,962.9 2168.7,962.9 2169.6,962.9 2170.6,962.9 2171.5,963.0 2172.4,963.0 2173.3,963.0 2174.3,963.0 2175.2,963.0 2176.1,963.0 2177.0,963.0 2178.0,963.1 2178.9,963.1 2179.8,963.1 2180.7,963.1 2181.7,963.1 2182.6,963.1 2183.5,963.1 2184.4,963.2 2185.4,963.2 2186.3,963.2 2187.2,963.2 2188.1,963.2 2189.0,963.2 2190.0,963.2 2190.9,963.2 2191.8,963.3 2192.7,963.3 2193.7,963.3 2194.6,963.3 2195.5,963.3 2196.4,963.3 2197.4,963.3 2198.3,963.3 2199.2,963.3 2200.1,963.4 2201.1,963.4 2202.0,963.4 2202.9,963.4 2203.8,963.4 2204.8,963.4 2205.7,963.4 2206.6,963.4 2207.5,963.4 2208.5,963.4 2209.4,963.5 2210.3,963.5 2211.2,963.5 2212.1,963.5 2213.1,963.5 2214.0,963.5 2214.9,963.5 2215.8,963.5 2216.8,963.5 2217.7,963.5 2218.6,963.5 2219.5,963.6 2220.5,963.6 2221.4,963.6 2222.3,963.6 2223.2,963.6 2224.2,963.6 2225.1,963.6 2226.0,963.6 2226.9,963.6 2227.9,963.6 2228.8,963.6 2229.7,963.6 2230.6,963.7 2231.6,963.7 2232.5,963.7 2233.4,963.7 2234.3,963.7 2235.3,963.7 2236.2,963.7 2237.1,963.7 2238.0,963.7 2238.9,963.7 2239.9,963.7 2240.8,963.7 2241.7,963.7 2242.6,963.7 2243.6,963.7 2244.5,963.8 2245.4,963.8 2246.3,963.8 2247.3,963.8 2248.2,963.8 2249.1,963.8 2250.0,963.8 2251.0,963.8 2251.9,963.8 2252.8,963.8 2253.7,963.8 2254.7,963.8 2255.6,963.8 2256.5,963.8 2257.4,963.8 2258.4,963.8 2259.3,963.8 2260.2,963.8 2261.1,963.9 2262.1,963.9 2263.0,963.9 2263.9,963.9 2264.8,963.9 2265.7,963.9 2266.7,963.9 2267.6,963.9 2268.5,963.9 2269.4,963.9 2270.4,963.9 2271.3,963.9 2272.2,963.9 2273.1,963.9 2274.1,963.9 2275.0,963.9 2275.9,963.9 2276.8,963.9 2277.8,963.9 2278.7,963.9 2279.6,963.9 2280.5,963.9 2281.5,964.0 2282.4,964.0 2283.3,964.0 2284.2,964.0 2285.2,964.0 2286.1,964.0 2287.0,964.0 2287.9,964.0 2288.8,964.0 2289.8,964.0 2290.7,964.0 2291.6,964.0 2292.5,964.0 2293.5,964.0 2294.4,964.0 2295.3,964.0 2296.2,964.0 2297.2,964.0 2298.1,964.0 2299.0,964.0 2299.9,964.0 2300.9,964.0 2301.8,964.0 2302.7,964.0 2303.6,964.0 2304.6,964.0 2305.5,964.0 2306.4,964.0 2307.3,964.0 2308.3,964.1 2309.2,964.1 2310.1,964.1 2311.0,964.1 2312.0,964.1 2312.9,964.1 2313.8,964.1 2314.7,964.1 2315.6,964.1 2316.6,964.1 2317.5,964.1 2318.4,964.1 2319.3,964.1 2320.3,964.1 2321.2,964.1 2322.1,964.1 2323.0,964.1 2324.0,964.1 2324.9,964.1 2325.8,964.1 2326.7,964.1 2327.7,964.1 2328.6,964.1 2329.5,964.1 2330.4,964.1 2331.4,964.1 2332.3,964.1 2333.2,964.1 2334.1,964.1 2335.1,964.1 2336.0,964.1 2336.9,964.1 2337.8,964.1 2338.8,964.1 2339.7,964.1 2340.6,964.1 2341.5,964.1 2342.4,964.1 2343.4,964.1 2344.3,964.1 2345.2,964.1 2346.1,964.1 2347.1,964.1 2348.0,964.1 2348.9,964.1 2349.8,964.2 2350.8,964.2 2351.7,964.2 2352.6,964.2 2353.5,964.2 2354.5,964.2 2355.4,964.2 2356.3,964.2 2357.2,964.2 2358.2,964.2 2359.1,964.2 2360.0,964.2 2360.9,964.2 2361.9,964.2 2362.8,964.2 2363.7,964.2 2364.6,964.2 2365.5,964.2 2366.5,964.2 2367.4,964.2 2368.3,964.2 2369.2,964.2 2370.2,964.2 2371.1,964.2 2372.0,964.2 2372.9,964.2 2373.9,964.2 2374.8,964.2 2375.7,964.2 2376.6,964.2 2377.6,964.2 2378.5,964.2 2379.4,964.2 2380.3,964.2 2381.3,964.2 2382.2,964.2 2383.1,964.2 2384.0,964.2 2385.0,964.2 2385.9,964.2 2386.8,964.2 2387.7,964.2 2388.7,964.2 2389.6,964.2 2390.5,964.2" fill="none" stroke="#FF0000" stroke-width="2"/>
<text transform="translate(1460.00,1078.20) scale(1,1.034)" text-anchor="middle">0</text>
<text transform="translate(1739.15,1078.20) scale(1,1.034)" text-anchor="middle">30</text>
<text transform="translate(2018.30,1078.20) scale(1,1.034)" text-anchor="middle">60</text>
<text transform="translate(2297.45,1078.20) scale(1,1.034)" text-anchor="middle">90</text>
<text transform="translate(1432.00,293.80) scale(1,1.034)" text-anchor="end">0.10</text>
<text transform="translate(1432.00,640.30) scale(1,1.034)" text-anchor="end">0.05</text>
<text transform="translate(1432.00,986.80) scale(1,1.034)" text-anchor="end">0.00</text>
<text x="1746" y="1150">Time / <tspan x="1969.0" font-family="'Noto Serif CJK SC', 'Liberation Serif', serif" font-size="61">&#956;</tspan><tspan x="2007.9">s</tspan></text>
<text transform="translate(1278,591.5) rotate(-90) scale(1,1.034)"><tspan font-family="'Liberation Serif', 'Times New Roman', serif" font-size="67">&#916;</tspan><tspan dx="15">O.D.</tspan></text>
<text x="2241" y="206" font-size="126">b</text>
<text transform="translate(1757.50,650.00) scale(1,1.034)"><tspan font-family="'Noto Serif CJK SC', 'Liberation Serif', serif" font-size="61">&#964;</tspan><tspan x="29.5"> = 8.7 </tspan><tspan x="233.79999999999995" font-family="'Noto Serif CJK SC', 'Liberation Serif', serif" font-size="61">&#956;</tspan><tspan x="273.5">s</tspan></text>
</g>
</svg>
</body></html>
